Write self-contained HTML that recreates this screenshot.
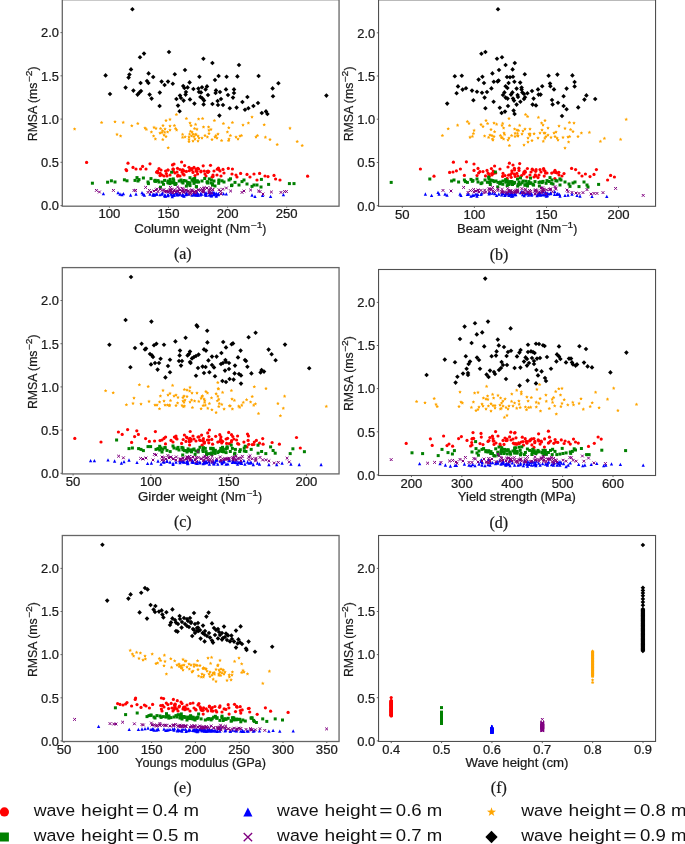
<!DOCTYPE html>
<html><head><meta charset="utf-8"><title>RMSA scatter plots</title>
<style>html,body{margin:0;padding:0;background:#fff;}body{width:685px;height:844px;overflow:hidden;font-family:"Liberation Sans",sans-serif;}svg{will-change:transform;}svg text{white-space:pre;}.t text{stroke:#1a1a1a;stroke-width:0.22px;}</style>
</head><body>
<svg width="685" height="844" viewBox="0 0 685 844" style="display:block">
<rect width="685" height="844" fill="#fff"/>
<defs><circle id="mr" r="1.6" fill="#ff0000"/><rect id="mg" x="-1.5" y="-1.5" width="3.0" height="3.0" fill="#008000"/><path id="mb" d="M0 -1.65L1.65 1.65H-1.65z" fill="#0000ff"/><path id="mp" d="M-1.4 -1.4L1.4 1.4M1.4 -1.4L-1.4 1.4" stroke="#800080" stroke-width="1.0" fill="none"/><polygon id="mo" points="0.00,-1.85 0.54,-0.75 1.76,-0.57 0.88,0.29 1.09,1.50 0.00,0.93 -1.09,1.50 -0.88,0.29 -1.76,-0.57 -0.54,-0.75" fill="#ffa500"/><path id="mk" d="M0 -2.3L2.3 0L0 2.3L-2.3 0z" fill="#000000"/></defs>
<g class="t">
<g id="pts-a">
<use href="#mr" x="86.6" y="162.4"/>
<use href="#mr" x="128.0" y="163.2"/>
<use href="#mr" x="126.0" y="169.6"/>
<use href="#mr" x="126.6" y="170.6"/>
<use href="#mr" x="133.0" y="167.4"/>
<use href="#mr" x="136.0" y="169.0"/>
<use href="#mr" x="142.6" y="166.4"/>
<use href="#mr" x="140.6" y="169.0"/>
<use href="#mr" x="146.0" y="169.0"/>
<use href="#mr" x="150.0" y="163.8"/>
<use href="#mr" x="159.0" y="168.6"/>
<use href="#mr" x="157.6" y="171.0"/>
<use href="#mr" x="161.0" y="170.0"/>
<use href="#mr" x="162.0" y="175.0"/>
<use href="#mr" x="160.0" y="175.6"/>
<use href="#mr" x="165.6" y="171.0"/>
<use href="#mr" x="168.0" y="170.0"/>
<use href="#mr" x="166.4" y="173.6"/>
<use href="#mr" x="164.0" y="176.0"/>
<use href="#mr" x="167.0" y="176.0"/>
<use href="#mr" x="170.0" y="175.0"/>
<use href="#mr" x="174.0" y="164.0"/>
<use href="#mr" x="173.0" y="169.0"/>
<use href="#mr" x="175.0" y="173.0"/>
<use href="#mr" x="177.0" y="172.0"/>
<use href="#mr" x="178.0" y="175.0"/>
<use href="#mr" x="180.0" y="176.0"/>
<use href="#mr" x="181.6" y="162.0"/>
<use href="#mr" x="182.0" y="172.0"/>
<use href="#mr" x="184.6" y="165.6"/>
<use href="#mr" x="184.0" y="171.0"/>
<use href="#mr" x="186.4" y="171.4"/>
<use href="#mr" x="183.0" y="174.0"/>
<use href="#mr" x="192.0" y="170.0"/>
<use href="#mr" x="194.0" y="167.4"/>
<use href="#mr" x="193.0" y="172.4"/>
<use href="#mr" x="196.0" y="171.0"/>
<use href="#mr" x="197.6" y="174.0"/>
<use href="#mr" x="198.6" y="169.0"/>
<use href="#mr" x="307.6" y="176.2"/>
<use href="#mr" x="274.0" y="175.4"/>
<use href="#mr" x="275.6" y="179.0"/>
<use href="#mr" x="280.0" y="180.0"/>
<use href="#mr" x="265.0" y="176.0"/>
<use href="#mr" x="268.0" y="176.6"/>
<use href="#mr" x="259.6" y="173.4"/>
<use href="#mr" x="257.0" y="180.0"/>
<use href="#mr" x="254.0" y="174.0"/>
<use href="#mr" x="250.0" y="177.0"/>
<use href="#mr" x="247.0" y="174.4"/>
<use href="#mr" x="240.6" y="173.4"/>
<use href="#mr" x="236.0" y="175.0"/>
<use href="#mr" x="237.0" y="177.0"/>
<use href="#mr" x="232.4" y="169.0"/>
<use href="#mr" x="232.0" y="174.0"/>
<use href="#mr" x="218.4" y="168.0"/>
<use href="#mr" x="223.0" y="169.4"/>
<use href="#mr" x="220.0" y="171.0"/>
<use href="#mr" x="214.0" y="171.0"/>
<use href="#mr" x="208.0" y="171.0"/>
<use href="#mr" x="201.0" y="171.0"/>
<use href="#mr" x="205.0" y="174.0"/>
<use href="#mr" x="213.0" y="175.0"/>
<use href="#mr" x="217.0" y="175.0"/>
<use href="#mr" x="224.0" y="173.0"/>
<use href="#mr" x="221.0" y="176.0"/>
<use href="#mr" x="212.0" y="177.0"/>
<use href="#mr" x="206.0" y="176.0"/>
<use href="#mr" x="157.9" y="172.8"/>
<use href="#mr" x="156.6" y="172.2"/>
<use href="#mr" x="173.3" y="171.3"/>
<use href="#mr" x="190.8" y="168.9"/>
<use href="#mr" x="160.2" y="173.3"/>
<use href="#mr" x="207.9" y="172.5"/>
<use href="#mr" x="200.9" y="171.8"/>
<use href="#mr" x="167.9" y="170.0"/>
<use href="#mr" x="172.5" y="164.9"/>
<use href="#mr" x="179.9" y="169.5"/>
<use href="#mr" x="192.1" y="168.5"/>
<use href="#mr" x="177.5" y="168.3"/>
<use href="#mr" x="189.0" y="167.3"/>
<use href="#mr" x="207.0" y="171.6"/>
<use href="#mr" x="173.3" y="169.2"/>
<use href="#mr" x="203.2" y="165.8"/>
<use href="#mr" x="183.0" y="170.0"/>
<use href="#mr" x="204.2" y="171.1"/>
<use href="#mr" x="197.0" y="171.5"/>
<use href="#mr" x="177.6" y="176.1"/>
<use href="#mr" x="182.5" y="169.9"/>
<use href="#mr" x="228.3" y="168.4"/>
<use href="#mr" x="217.3" y="169.2"/>
<use href="#mr" x="208.8" y="171.5"/>
<use href="#mr" x="210.5" y="165.3"/>
<use href="#mr" x="184.1" y="174.9"/>
<use href="#mr" x="197.9" y="168.4"/>
<use href="#mr" x="213.0" y="176.6"/>
<use href="#mr" x="196.2" y="169.2"/>
<use href="#mr" x="195.0" y="175.6"/>
<use href="#mr" x="189.3" y="170.7"/>
<use href="#mr" x="218.8" y="169.4"/>
<use href="#mg" x="171.6" y="172.2"/>
<use href="#mg" x="92.4" y="183.2"/>
<use href="#mg" x="107.6" y="182.2"/>
<use href="#mg" x="111.4" y="180.8"/>
<use href="#mg" x="115.0" y="182.0"/>
<use href="#mg" x="124.4" y="179.8"/>
<use href="#mg" x="127.0" y="180.8"/>
<use href="#mg" x="135.0" y="180.4"/>
<use href="#mg" x="137.0" y="177.6"/>
<use href="#mg" x="138.0" y="181.0"/>
<use href="#mg" x="139.0" y="179.6"/>
<use href="#mg" x="143.4" y="178.0"/>
<use href="#mg" x="148.0" y="182.0"/>
<use href="#mg" x="148.4" y="183.6"/>
<use href="#mg" x="151.0" y="178.6"/>
<use href="#mg" x="155.6" y="181.4"/>
<use href="#mg" x="158.0" y="180.6"/>
<use href="#mg" x="159.0" y="182.0"/>
<use href="#mg" x="164.6" y="180.4"/>
<use href="#mg" x="168.0" y="181.0"/>
<use href="#mg" x="170.0" y="182.0"/>
<use href="#mg" x="172.0" y="182.6"/>
<use href="#mg" x="174.0" y="183.0"/>
<use href="#mg" x="176.0" y="183.6"/>
<use href="#mg" x="181.0" y="180.0"/>
<use href="#mg" x="182.0" y="182.0"/>
<use href="#mg" x="183.0" y="183.0"/>
<use href="#mg" x="186.0" y="181.0"/>
<use href="#mg" x="188.0" y="182.4"/>
<use href="#mg" x="189.0" y="184.0"/>
<use href="#mg" x="190.0" y="185.6"/>
<use href="#mg" x="192.0" y="180.0"/>
<use href="#mg" x="193.0" y="181.0"/>
<use href="#mg" x="195.0" y="182.0"/>
<use href="#mg" x="197.0" y="181.0"/>
<use href="#mg" x="198.6" y="182.0"/>
<use href="#mg" x="289.4" y="183.6"/>
<use href="#mg" x="294.0" y="183.6"/>
<use href="#mg" x="268.6" y="184.4"/>
<use href="#mg" x="261.4" y="179.4"/>
<use href="#mg" x="261.0" y="187.0"/>
<use href="#mg" x="257.0" y="185.0"/>
<use href="#mg" x="252.0" y="186.4"/>
<use href="#mg" x="254.0" y="185.0"/>
<use href="#mg" x="247.0" y="184.0"/>
<use href="#mg" x="244.0" y="180.0"/>
<use href="#mg" x="242.0" y="181.6"/>
<use href="#mg" x="239.0" y="185.0"/>
<use href="#mg" x="235.0" y="182.4"/>
<use href="#mg" x="232.0" y="185.0"/>
<use href="#mg" x="229.0" y="180.0"/>
<use href="#mg" x="224.0" y="182.0"/>
<use href="#mg" x="219.0" y="180.0"/>
<use href="#mg" x="214.0" y="181.0"/>
<use href="#mg" x="211.0" y="183.0"/>
<use href="#mg" x="215.0" y="186.0"/>
<use href="#mg" x="207.0" y="182.0"/>
<use href="#mg" x="202.0" y="181.0"/>
<use href="#mg" x="193.4" y="179.0"/>
<use href="#mg" x="173.7" y="180.5"/>
<use href="#mg" x="218.7" y="183.3"/>
<use href="#mg" x="170.2" y="181.9"/>
<use href="#mg" x="204.7" y="178.5"/>
<use href="#mg" x="167.9" y="182.6"/>
<use href="#mg" x="207.6" y="183.0"/>
<use href="#mg" x="211.4" y="180.0"/>
<use href="#mg" x="170.0" y="183.6"/>
<use href="#mg" x="197.3" y="181.0"/>
<use href="#mg" x="194.7" y="178.5"/>
<use href="#mg" x="190.0" y="177.7"/>
<use href="#mg" x="175.6" y="183.8"/>
<use href="#mg" x="209.3" y="178.9"/>
<use href="#mg" x="207.7" y="181.8"/>
<use href="#mg" x="174.9" y="184.1"/>
<use href="#mg" x="179.2" y="181.0"/>
<use href="#mg" x="184.0" y="180.5"/>
<use href="#mg" x="194.0" y="183.4"/>
<use href="#mg" x="194.8" y="181.5"/>
<use href="#mg" x="212.6" y="183.8"/>
<use href="#mg" x="186.4" y="186.1"/>
<use href="#mg" x="230.5" y="178.8"/>
<use href="#mg" x="187.7" y="183.8"/>
<use href="#mg" x="162.3" y="182.1"/>
<use href="#mg" x="197.0" y="181.9"/>
<use href="#mg" x="173.3" y="178.9"/>
<use href="#mg" x="196.5" y="186.7"/>
<use href="#mg" x="196.3" y="186.7"/>
<use href="#mg" x="218.9" y="181.1"/>
<use href="#mg" x="187.8" y="182.9"/>
<use href="#mg" x="154.7" y="181.0"/>
<use href="#mg" x="170.2" y="179.4"/>
<use href="#mg" x="231.5" y="185.6"/>
<use href="#mg" x="155.2" y="180.3"/>
<use href="#mg" x="212.5" y="185.1"/>
<use href="#mg" x="175.3" y="184.4"/>
<use href="#mg" x="163.5" y="184.3"/>
<use href="#mg" x="222.0" y="180.8"/>
<use href="#mg" x="189.9" y="182.9"/>
<use href="#mg" x="168.4" y="182.9"/>
<use href="#mg" x="160.5" y="187.2"/>
<use href="#mb" x="103.4" y="193.6"/>
<use href="#mb" x="118.0" y="192.6"/>
<use href="#mb" x="120.0" y="194.0"/>
<use href="#mb" x="122.0" y="194.6"/>
<use href="#mb" x="123.4" y="193.6"/>
<use href="#mb" x="130.6" y="195.0"/>
<use href="#mb" x="136.0" y="194.0"/>
<use href="#mb" x="142.0" y="192.6"/>
<use href="#mb" x="143.0" y="194.0"/>
<use href="#mb" x="144.4" y="195.0"/>
<use href="#mb" x="150.0" y="194.0"/>
<use href="#mb" x="153.0" y="195.0"/>
<use href="#mb" x="155.0" y="194.4"/>
<use href="#mb" x="157.0" y="194.0"/>
<use href="#mb" x="160.0" y="194.6"/>
<use href="#mb" x="162.0" y="194.0"/>
<use href="#mb" x="165.0" y="195.0"/>
<use href="#mb" x="168.0" y="194.4"/>
<use href="#mb" x="171.0" y="194.0"/>
<use href="#mb" x="174.0" y="195.0"/>
<use href="#mb" x="177.0" y="194.4"/>
<use href="#mb" x="180.0" y="194.0"/>
<use href="#mb" x="183.0" y="195.0"/>
<use href="#mb" x="186.0" y="194.6"/>
<use href="#mb" x="189.0" y="194.0"/>
<use href="#mb" x="192.0" y="195.2"/>
<use href="#mb" x="195.0" y="194.6"/>
<use href="#mb" x="198.0" y="195.0"/>
<use href="#mb" x="283.4" y="194.6"/>
<use href="#mb" x="270.6" y="196.4"/>
<use href="#mb" x="262.6" y="195.4"/>
<use href="#mb" x="255.0" y="196.4"/>
<use href="#mb" x="252.0" y="195.0"/>
<use href="#mb" x="208.7" y="192.3"/>
<use href="#mb" x="212.1" y="192.5"/>
<use href="#mb" x="198.1" y="194.9"/>
<use href="#mb" x="194.1" y="194.5"/>
<use href="#mb" x="165.3" y="196.1"/>
<use href="#mb" x="156.4" y="194.1"/>
<use href="#mb" x="195.6" y="194.7"/>
<use href="#mb" x="226.3" y="193.9"/>
<use href="#mb" x="206.0" y="192.6"/>
<use href="#mb" x="172.3" y="196.5"/>
<use href="#mb" x="210.1" y="194.9"/>
<use href="#mb" x="223.5" y="193.7"/>
<use href="#mb" x="216.2" y="193.2"/>
<use href="#mb" x="209.3" y="194.9"/>
<use href="#mb" x="173.9" y="194.6"/>
<use href="#mb" x="210.4" y="193.0"/>
<use href="#mb" x="216.3" y="196.1"/>
<use href="#mb" x="177.8" y="194.2"/>
<use href="#mb" x="206.4" y="195.0"/>
<use href="#mb" x="197.9" y="193.8"/>
<use href="#mb" x="216.2" y="195.1"/>
<use href="#mb" x="172.1" y="195.0"/>
<use href="#mb" x="218.2" y="194.2"/>
<use href="#mb" x="197.4" y="193.9"/>
<use href="#mb" x="196.9" y="194.3"/>
<use href="#mb" x="184.0" y="195.6"/>
<use href="#mb" x="176.6" y="192.1"/>
<use href="#mb" x="204.9" y="194.0"/>
<use href="#mb" x="186.8" y="194.0"/>
<use href="#mb" x="200.5" y="194.9"/>
<use href="#mb" x="196.7" y="193.8"/>
<use href="#mb" x="174.0" y="195.0"/>
<use href="#mb" x="168.0" y="195.4"/>
<use href="#mb" x="213.4" y="194.4"/>
<use href="#mb" x="177.3" y="194.8"/>
<use href="#mb" x="194.3" y="192.7"/>
<use href="#mb" x="193.8" y="194.2"/>
<use href="#mb" x="177.3" y="194.2"/>
<use href="#mb" x="213.9" y="194.6"/>
<use href="#mb" x="164.5" y="195.6"/>
<use href="#mb" x="165.4" y="195.8"/>
<use href="#mb" x="218.4" y="193.6"/>
<use href="#mb" x="186.3" y="192.3"/>
<use href="#mb" x="176.2" y="193.2"/>
<use href="#mb" x="211.2" y="195.9"/>
<use href="#mb" x="154.6" y="195.2"/>
<use href="#mb" x="213.8" y="192.5"/>
<use href="#mb" x="162.5" y="192.8"/>
<use href="#mb" x="182.8" y="194.6"/>
<use href="#mb" x="178.8" y="194.5"/>
<use href="#mb" x="168.0" y="195.6"/>
<use href="#mb" x="203.8" y="191.5"/>
<use href="#mb" x="183.9" y="196.2"/>
<use href="#mb" x="182.2" y="195.2"/>
<use href="#mb" x="205.7" y="195.0"/>
<use href="#mb" x="214.5" y="193.4"/>
<use href="#mb" x="153.0" y="194.7"/>
<use href="#mb" x="186.3" y="194.1"/>
<use href="#mb" x="195.2" y="194.5"/>
<use href="#mb" x="196.6" y="194.8"/>
<use href="#mb" x="170.5" y="192.2"/>
<use href="#mb" x="200.6" y="193.5"/>
<use href="#mb" x="153.7" y="194.3"/>
<use href="#mb" x="211.7" y="195.6"/>
<use href="#mb" x="218.3" y="194.5"/>
<use href="#mb" x="201.7" y="194.2"/>
<use href="#mb" x="197.2" y="192.6"/>
<use href="#mp" x="96.4" y="190.4"/>
<use href="#mp" x="99.4" y="192.0"/>
<use href="#mp" x="113.4" y="190.4"/>
<use href="#mp" x="134.0" y="190.4"/>
<use href="#mp" x="135.6" y="190.4"/>
<use href="#mp" x="145.6" y="187.4"/>
<use href="#mp" x="149.4" y="190.4"/>
<use href="#mp" x="148.0" y="192.4"/>
<use href="#mp" x="151.0" y="192.0"/>
<use href="#mp" x="154.0" y="191.0"/>
<use href="#mp" x="156.0" y="190.0"/>
<use href="#mp" x="158.0" y="191.6"/>
<use href="#mp" x="160.0" y="189.0"/>
<use href="#mp" x="162.0" y="190.4"/>
<use href="#mp" x="164.0" y="189.6"/>
<use href="#mp" x="166.0" y="191.0"/>
<use href="#mp" x="168.0" y="192.0"/>
<use href="#mp" x="170.0" y="190.0"/>
<use href="#mp" x="171.0" y="192.4"/>
<use href="#mp" x="174.0" y="191.0"/>
<use href="#mp" x="176.0" y="192.0"/>
<use href="#mp" x="177.6" y="187.0"/>
<use href="#mp" x="179.0" y="188.6"/>
<use href="#mp" x="180.0" y="190.0"/>
<use href="#mp" x="182.0" y="191.0"/>
<use href="#mp" x="184.0" y="192.0"/>
<use href="#mp" x="186.0" y="190.0"/>
<use href="#mp" x="188.0" y="191.0"/>
<use href="#mp" x="190.0" y="192.4"/>
<use href="#mp" x="192.0" y="191.0"/>
<use href="#mp" x="194.0" y="192.0"/>
<use href="#mp" x="196.0" y="191.0"/>
<use href="#mp" x="198.6" y="190.0"/>
<use href="#mp" x="286.4" y="191.6"/>
<use href="#mp" x="284.6" y="191.6"/>
<use href="#mp" x="281.0" y="192.4"/>
<use href="#mp" x="271.4" y="192.0"/>
<use href="#mp" x="263.0" y="194.0"/>
<use href="#mp" x="260.0" y="191.6"/>
<use href="#mp" x="258.6" y="191.0"/>
<use href="#mp" x="250.6" y="190.0"/>
<use href="#mp" x="244.0" y="191.0"/>
<use href="#mp" x="242.0" y="192.4"/>
<use href="#mp" x="226.4" y="188.0"/>
<use href="#mp" x="210.6" y="188.0"/>
<use href="#mp" x="207.0" y="188.0"/>
<use href="#mp" x="182.3" y="188.3"/>
<use href="#mp" x="173.2" y="192.6"/>
<use href="#mp" x="209.1" y="192.8"/>
<use href="#mp" x="183.1" y="189.4"/>
<use href="#mp" x="221.1" y="194.0"/>
<use href="#mp" x="204.1" y="187.7"/>
<use href="#mp" x="220.7" y="191.4"/>
<use href="#mp" x="177.6" y="191.5"/>
<use href="#mp" x="164.3" y="191.4"/>
<use href="#mp" x="187.5" y="191.2"/>
<use href="#mp" x="220.4" y="191.4"/>
<use href="#mp" x="157.0" y="189.1"/>
<use href="#mp" x="166.3" y="191.7"/>
<use href="#mp" x="188.8" y="191.6"/>
<use href="#mp" x="167.9" y="191.4"/>
<use href="#mp" x="177.4" y="191.2"/>
<use href="#mp" x="219.0" y="189.7"/>
<use href="#mp" x="210.3" y="189.5"/>
<use href="#mp" x="171.3" y="190.7"/>
<use href="#mp" x="204.0" y="188.7"/>
<use href="#mp" x="203.3" y="191.4"/>
<use href="#mp" x="192.9" y="191.3"/>
<use href="#mp" x="197.9" y="189.8"/>
<use href="#mp" x="183.8" y="192.4"/>
<use href="#mp" x="171.5" y="189.1"/>
<use href="#mp" x="222.7" y="189.2"/>
<use href="#mp" x="212.6" y="189.5"/>
<use href="#mp" x="191.9" y="189.8"/>
<use href="#mp" x="166.7" y="191.3"/>
<use href="#mp" x="174.4" y="189.7"/>
<use href="#mp" x="178.1" y="191.1"/>
<use href="#mp" x="201.6" y="188.6"/>
<use href="#mp" x="173.0" y="192.6"/>
<use href="#mp" x="211.6" y="192.9"/>
<use href="#mp" x="202.9" y="191.9"/>
<use href="#mp" x="189.5" y="194.1"/>
<use href="#mp" x="209.1" y="191.8"/>
<use href="#mp" x="170.4" y="187.4"/>
<use href="#mp" x="209.1" y="190.3"/>
<use href="#mp" x="183.6" y="190.8"/>
<use href="#mp" x="230.6" y="191.0"/>
<use href="#mp" x="202.8" y="190.1"/>
<use href="#mp" x="170.2" y="190.7"/>
<use href="#mp" x="179.9" y="193.1"/>
<use href="#mp" x="212.9" y="189.8"/>
<use href="#mp" x="193.8" y="192.5"/>
<use href="#mp" x="203.7" y="191.1"/>
<use href="#mp" x="190.6" y="193.6"/>
<use href="#mp" x="191.4" y="190.7"/>
<use href="#mp" x="200.5" y="190.6"/>
<use href="#mp" x="196.1" y="192.9"/>
<use href="#mp" x="182.8" y="191.8"/>
<use href="#mp" x="186.3" y="190.5"/>
<use href="#mp" x="206.9" y="188.1"/>
<use href="#mo" x="74.6" y="129.0"/>
<use href="#mo" x="101.6" y="122.6"/>
<use href="#mo" x="115.0" y="121.8"/>
<use href="#mo" x="123.2" y="122.4"/>
<use href="#mo" x="131.8" y="125.8"/>
<use href="#mo" x="137.8" y="123.6"/>
<use href="#mo" x="117.0" y="134.4"/>
<use href="#mo" x="120.6" y="136.0"/>
<use href="#mo" x="145.0" y="128.0"/>
<use href="#mo" x="146.4" y="129.4"/>
<use href="#mo" x="154.0" y="127.4"/>
<use href="#mo" x="156.0" y="128.4"/>
<use href="#mo" x="151.4" y="132.0"/>
<use href="#mo" x="153.6" y="136.0"/>
<use href="#mo" x="155.4" y="139.0"/>
<use href="#mo" x="160.6" y="128.6"/>
<use href="#mo" x="163.0" y="125.6"/>
<use href="#mo" x="166.0" y="120.6"/>
<use href="#mo" x="170.0" y="119.4"/>
<use href="#mo" x="176.4" y="114.6"/>
<use href="#mo" x="165.0" y="129.0"/>
<use href="#mo" x="170.0" y="126.0"/>
<use href="#mo" x="174.4" y="125.6"/>
<use href="#mo" x="162.0" y="132.4"/>
<use href="#mo" x="164.0" y="135.0"/>
<use href="#mo" x="166.0" y="136.6"/>
<use href="#mo" x="167.6" y="132.0"/>
<use href="#mo" x="170.0" y="130.0"/>
<use href="#mo" x="175.6" y="128.6"/>
<use href="#mo" x="176.6" y="130.0"/>
<use href="#mo" x="168.2" y="147.8"/>
<use href="#mo" x="182.6" y="134.4"/>
<use href="#mo" x="182.6" y="137.4"/>
<use href="#mo" x="186.4" y="118.6"/>
<use href="#mo" x="190.0" y="123.0"/>
<use href="#mo" x="191.0" y="125.6"/>
<use href="#mo" x="195.6" y="124.4"/>
<use href="#mo" x="194.6" y="128.6"/>
<use href="#mo" x="192.0" y="132.0"/>
<use href="#mo" x="193.0" y="134.0"/>
<use href="#mo" x="189.0" y="137.0"/>
<use href="#mo" x="191.6" y="136.0"/>
<use href="#mo" x="194.0" y="136.6"/>
<use href="#mo" x="196.0" y="134.4"/>
<use href="#mo" x="198.0" y="136.0"/>
<use href="#mo" x="189.0" y="139.4"/>
<use href="#mo" x="189.0" y="141.6"/>
<use href="#mo" x="193.0" y="141.0"/>
<use href="#mo" x="195.0" y="139.0"/>
<use href="#mo" x="198.0" y="141.0"/>
<use href="#mo" x="198.6" y="119.0"/>
<use href="#mo" x="202.6" y="118.6"/>
<use href="#mo" x="214.4" y="120.6"/>
<use href="#mo" x="223.4" y="123.6"/>
<use href="#mo" x="232.4" y="122.6"/>
<use href="#mo" x="243.0" y="125.0"/>
<use href="#mo" x="248.4" y="123.0"/>
<use href="#mo" x="252.0" y="117.0"/>
<use href="#mo" x="264.2" y="124.8"/>
<use href="#mo" x="290.0" y="128.2"/>
<use href="#mo" x="211.0" y="129.4"/>
<use href="#mo" x="209.0" y="133.6"/>
<use href="#mo" x="205.0" y="135.6"/>
<use href="#mo" x="207.4" y="137.0"/>
<use href="#mo" x="202.0" y="138.0"/>
<use href="#mo" x="212.0" y="139.6"/>
<use href="#mo" x="215.0" y="137.0"/>
<use href="#mo" x="218.0" y="134.0"/>
<use href="#mo" x="217.0" y="138.0"/>
<use href="#mo" x="221.6" y="140.6"/>
<use href="#mo" x="227.4" y="132.0"/>
<use href="#mo" x="230.4" y="135.6"/>
<use href="#mo" x="229.0" y="139.0"/>
<use href="#mo" x="228.6" y="140.6"/>
<use href="#mo" x="236.0" y="137.0"/>
<use href="#mo" x="238.0" y="139.0"/>
<use href="#mo" x="240.0" y="136.0"/>
<use href="#mo" x="241.4" y="135.6"/>
<use href="#mo" x="256.0" y="137.0"/>
<use href="#mo" x="257.4" y="135.6"/>
<use href="#mo" x="265.4" y="137.2"/>
<use href="#mo" x="270.0" y="139.6"/>
<use href="#mo" x="277.2" y="144.6"/>
<use href="#mo" x="297.2" y="141.6"/>
<use href="#mo" x="302.2" y="145.6"/>
<use href="#mo" x="199.0" y="138.0"/>
<use href="#mo" x="162.6" y="130.8"/>
<use href="#mo" x="215.9" y="135.5"/>
<use href="#mo" x="160.1" y="133.1"/>
<use href="#mo" x="203.5" y="127.1"/>
<use href="#mo" x="162.8" y="139.5"/>
<use href="#mo" x="208.9" y="130.3"/>
<use href="#mo" x="228.8" y="127.7"/>
<use href="#mo" x="189.6" y="134.2"/>
<use href="#mo" x="185.1" y="136.9"/>
<use href="#mo" x="164.7" y="132.3"/>
<use href="#mo" x="195.5" y="134.6"/>
<use href="#mo" x="190.5" y="131.4"/>
<use href="#mo" x="208.6" y="127.1"/>
<use href="#mo" x="197.0" y="129.2"/>
<use href="#mk" x="132.4" y="9.2"/>
<use href="#mk" x="144.0" y="53.6"/>
<use href="#mk" x="140.0" y="57.2"/>
<use href="#mk" x="169.0" y="52.0"/>
<use href="#mk" x="203.4" y="58.8"/>
<use href="#mk" x="212.4" y="63.0"/>
<use href="#mk" x="131.0" y="69.4"/>
<use href="#mk" x="185.0" y="70.0"/>
<use href="#mk" x="105.6" y="75.4"/>
<use href="#mk" x="129.4" y="74.6"/>
<use href="#mk" x="128.6" y="77.6"/>
<use href="#mk" x="148.6" y="73.4"/>
<use href="#mk" x="153.2" y="77.0"/>
<use href="#mk" x="174.8" y="74.2"/>
<use href="#mk" x="199.4" y="76.8"/>
<use href="#mk" x="218.6" y="76.0"/>
<use href="#mk" x="215.0" y="80.0"/>
<use href="#mk" x="226.6" y="76.8"/>
<use href="#mk" x="140.6" y="83.0"/>
<use href="#mk" x="147.0" y="81.0"/>
<use href="#mk" x="148.4" y="83.0"/>
<use href="#mk" x="161.6" y="81.6"/>
<use href="#mk" x="164.6" y="85.0"/>
<use href="#mk" x="168.0" y="81.6"/>
<use href="#mk" x="172.8" y="83.8"/>
<use href="#mk" x="189.6" y="82.4"/>
<use href="#mk" x="125.6" y="87.6"/>
<use href="#mk" x="133.4" y="90.6"/>
<use href="#mk" x="141.0" y="91.0"/>
<use href="#mk" x="139.4" y="92.6"/>
<use href="#mk" x="137.6" y="94.6"/>
<use href="#mk" x="149.6" y="94.6"/>
<use href="#mk" x="151.6" y="98.6"/>
<use href="#mk" x="159.8" y="92.6"/>
<use href="#mk" x="159.6" y="106.0"/>
<use href="#mk" x="183.2" y="86.0"/>
<use href="#mk" x="184.4" y="88.0"/>
<use href="#mk" x="187.6" y="87.4"/>
<use href="#mk" x="193.4" y="89.0"/>
<use href="#mk" x="198.4" y="88.6"/>
<use href="#mk" x="202.0" y="87.2"/>
<use href="#mk" x="207.0" y="86.4"/>
<use href="#mk" x="205.6" y="89.4"/>
<use href="#mk" x="199.0" y="92.0"/>
<use href="#mk" x="201.0" y="92.4"/>
<use href="#mk" x="216.0" y="90.4"/>
<use href="#mk" x="220.0" y="92.0"/>
<use href="#mk" x="226.0" y="89.4"/>
<use href="#mk" x="215.6" y="93.0"/>
<use href="#mk" x="110.0" y="94.0"/>
<use href="#mk" x="180.0" y="95.6"/>
<use href="#mk" x="185.6" y="94.6"/>
<use href="#mk" x="176.4" y="99.0"/>
<use href="#mk" x="181.0" y="98.0"/>
<use href="#mk" x="183.6" y="100.6"/>
<use href="#mk" x="190.0" y="99.4"/>
<use href="#mk" x="200.4" y="97.0"/>
<use href="#mk" x="202.4" y="98.4"/>
<use href="#mk" x="204.0" y="100.4"/>
<use href="#mk" x="203.6" y="104.4"/>
<use href="#mk" x="194.4" y="103.6"/>
<use href="#mk" x="178.0" y="105.6"/>
<use href="#mk" x="179.6" y="111.2"/>
<use href="#mk" x="212.4" y="104.0"/>
<use href="#mk" x="217.6" y="101.0"/>
<use href="#mk" x="221.0" y="99.0"/>
<use href="#mk" x="218.0" y="105.0"/>
<use href="#mk" x="223.0" y="105.0"/>
<use href="#mk" x="219.4" y="115.6"/>
<use href="#mk" x="239.0" y="65.0"/>
<use href="#mk" x="237.4" y="76.4"/>
<use href="#mk" x="258.6" y="76.0"/>
<use href="#mk" x="278.4" y="83.2"/>
<use href="#mk" x="272.6" y="88.4"/>
<use href="#mk" x="234.0" y="89.4"/>
<use href="#mk" x="234.0" y="93.0"/>
<use href="#mk" x="228.0" y="95.0"/>
<use href="#mk" x="233.0" y="97.6"/>
<use href="#mk" x="247.4" y="97.0"/>
<use href="#mk" x="273.0" y="96.2"/>
<use href="#mk" x="326.4" y="95.6"/>
<use href="#mk" x="242.4" y="102.0"/>
<use href="#mk" x="258.0" y="103.0"/>
<use href="#mk" x="253.4" y="106.0"/>
<use href="#mk" x="229.8" y="108.2"/>
<use href="#mk" x="236.6" y="107.6"/>
<use href="#mk" x="248.4" y="108.2"/>
<use href="#mk" x="245.0" y="109.8"/>
<use href="#mk" x="261.8" y="113.0"/>
<use href="#mk" x="266.0" y="111.4"/>
<use href="#mk" x="267.4" y="114.0"/>
<use href="#mk" x="208.0" y="95.0"/>
<use href="#mk" x="186.0" y="92.0"/>
</g>
<rect x="62.3" y="-0.3" width="276.75" height="206.50" fill="none" stroke="#666666" stroke-width="1.3"/>
<path d="M60.5 205.6H62.3" stroke="#666666" stroke-width="1.04"/>
<text x="59.0" y="210.4" font-family='"Liberation Sans", sans-serif' font-size="12.2" text-anchor="end" fill="#1a1a1a" textLength="17.9" lengthAdjust="spacingAndGlyphs">0.0</text>
<path d="M60.5 162.3H62.3" stroke="#666666" stroke-width="1.04"/>
<text x="59.0" y="167.2" font-family='"Liberation Sans", sans-serif' font-size="12.2" text-anchor="end" fill="#1a1a1a" textLength="17.9" lengthAdjust="spacingAndGlyphs">0.5</text>
<path d="M60.5 119.1H62.3" stroke="#666666" stroke-width="1.04"/>
<text x="59.0" y="123.9" font-family='"Liberation Sans", sans-serif' font-size="12.2" text-anchor="end" fill="#1a1a1a" textLength="17.9" lengthAdjust="spacingAndGlyphs">1.0</text>
<path d="M60.5 75.8H62.3" stroke="#666666" stroke-width="1.04"/>
<text x="59.0" y="80.6" font-family='"Liberation Sans", sans-serif' font-size="12.2" text-anchor="end" fill="#1a1a1a" textLength="17.9" lengthAdjust="spacingAndGlyphs">1.5</text>
<path d="M60.5 32.6H62.3" stroke="#666666" stroke-width="1.04"/>
<text x="59.0" y="37.4" font-family='"Liberation Sans", sans-serif' font-size="12.2" text-anchor="end" fill="#1a1a1a" textLength="17.9" lengthAdjust="spacingAndGlyphs">2.0</text>
<path d="M109.40 206.2V207.8" stroke="#666666" stroke-width="1.04"/>
<text x="109.40" y="218.4" font-family='"Liberation Sans", sans-serif' font-size="12.2" text-anchor="middle" fill="#1a1a1a" textLength="21.9" lengthAdjust="spacingAndGlyphs">100</text>
<path d="M168.50 206.2V207.8" stroke="#666666" stroke-width="1.04"/>
<text x="168.50" y="218.4" font-family='"Liberation Sans", sans-serif' font-size="12.2" text-anchor="middle" fill="#1a1a1a" textLength="21.9" lengthAdjust="spacingAndGlyphs">150</text>
<path d="M227.60 206.2V207.8" stroke="#666666" stroke-width="1.04"/>
<text x="227.60" y="218.4" font-family='"Liberation Sans", sans-serif' font-size="12.2" text-anchor="middle" fill="#1a1a1a" textLength="21.9" lengthAdjust="spacingAndGlyphs">200</text>
<path d="M286.70 206.2V207.8" stroke="#666666" stroke-width="1.04"/>
<text x="286.70" y="218.4" font-family='"Liberation Sans", sans-serif' font-size="12.2" text-anchor="middle" fill="#1a1a1a" textLength="21.9" lengthAdjust="spacingAndGlyphs">250</text>
<text x="134.2" y="232.8" font-family='"Liberation Sans", sans-serif' font-size="12.2" fill="#1a1a1a" textLength="116.1" lengthAdjust="spacingAndGlyphs">Column weight (Nm</text>
<text x="250.6" y="228.3" font-family='"Liberation Sans", sans-serif' font-size="8.6" fill="#1a1a1a" textLength="11.8" lengthAdjust="spacingAndGlyphs">−1</text>
<text x="262.3" y="232.8" font-family='"Liberation Sans", sans-serif' font-size="12.2" fill="#1a1a1a">)</text>
<g transform="translate(36.7 140.2) rotate(-90)"><text x="-1.0" y="0" font-family='"Liberation Sans", sans-serif' font-size="12.2" fill="#1a1a1a" textLength="58.6" lengthAdjust="spacingAndGlyphs">RMSA (ms</text><text x="57.9" y="-4.5" font-family='"Liberation Sans", sans-serif' font-size="8.6" fill="#1a1a1a" textLength="11.8" lengthAdjust="spacingAndGlyphs">−2</text><text x="69.7" y="0" font-family='"Liberation Sans", sans-serif' font-size="12.2" fill="#1a1a1a">)</text></g>
<text x="182.8" y="259.4" font-family='"Liberation Serif", serif' font-size="16.0" text-anchor="middle" fill="#1a1a1a">(a)</text>
<g id="pts-b">
<use href="#mr" x="420.4" y="169.0"/>
<use href="#mr" x="434.0" y="176.2"/>
<use href="#mr" x="453.4" y="162.2"/>
<use href="#mr" x="466.4" y="161.8"/>
<use href="#mr" x="474.0" y="164.0"/>
<use href="#mr" x="449.6" y="172.4"/>
<use href="#mr" x="453.0" y="172.0"/>
<use href="#mr" x="456.4" y="170.8"/>
<use href="#mr" x="460.4" y="169.0"/>
<use href="#mr" x="464.4" y="175.4"/>
<use href="#mr" x="474.0" y="170.4"/>
<use href="#mr" x="478.0" y="168.4"/>
<use href="#mr" x="478.6" y="173.0"/>
<use href="#mr" x="477.0" y="175.6"/>
<use href="#mr" x="483.0" y="171.6"/>
<use href="#mr" x="487.0" y="170.4"/>
<use href="#mr" x="488.0" y="173.0"/>
<use href="#mr" x="491.4" y="168.6"/>
<use href="#mr" x="494.6" y="166.0"/>
<use href="#mr" x="492.0" y="175.0"/>
<use href="#mr" x="500.0" y="169.0"/>
<use href="#mr" x="503.0" y="173.4"/>
<use href="#mr" x="505.0" y="175.6"/>
<use href="#mr" x="508.0" y="167.0"/>
<use href="#mr" x="509.4" y="163.2"/>
<use href="#mr" x="513.0" y="165.0"/>
<use href="#mr" x="514.6" y="170.0"/>
<use href="#mr" x="614.4" y="177.0"/>
<use href="#mr" x="610.6" y="175.4"/>
<use href="#mr" x="607.6" y="180.0"/>
<use href="#mr" x="596.4" y="169.6"/>
<use href="#mr" x="594.0" y="174.4"/>
<use href="#mr" x="590.0" y="176.6"/>
<use href="#mr" x="585.4" y="174.0"/>
<use href="#mr" x="582.0" y="176.0"/>
<use href="#mr" x="579.0" y="173.0"/>
<use href="#mr" x="575.6" y="169.6"/>
<use href="#mr" x="571.6" y="168.4"/>
<use href="#mr" x="564.0" y="173.6"/>
<use href="#mr" x="562.0" y="176.0"/>
<use href="#mr" x="559.0" y="175.0"/>
<use href="#mr" x="557.0" y="173.0"/>
<use href="#mr" x="555.0" y="170.4"/>
<use href="#mr" x="547.0" y="173.0"/>
<use href="#mr" x="545.0" y="171.0"/>
<use href="#mr" x="540.0" y="169.6"/>
<use href="#mr" x="541.0" y="172.0"/>
<use href="#mr" x="539.0" y="175.0"/>
<use href="#mr" x="536.0" y="176.0"/>
<use href="#mr" x="533.0" y="170.0"/>
<use href="#mr" x="531.0" y="172.0"/>
<use href="#mr" x="530.0" y="175.0"/>
<use href="#mr" x="525.0" y="171.0"/>
<use href="#mr" x="524.0" y="174.0"/>
<use href="#mr" x="519.0" y="170.4"/>
<use href="#mr" x="518.0" y="176.0"/>
<use href="#mr" x="527.0" y="177.0"/>
<use href="#mr" x="534.0" y="177.0"/>
<use href="#mr" x="538.0" y="177.6"/>
<use href="#mr" x="488.9" y="174.4"/>
<use href="#mr" x="479.9" y="171.7"/>
<use href="#mr" x="494.6" y="172.4"/>
<use href="#mr" x="510.6" y="174.5"/>
<use href="#mr" x="543.6" y="168.5"/>
<use href="#mr" x="521.6" y="175.6"/>
<use href="#mr" x="493.2" y="171.0"/>
<use href="#mr" x="508.6" y="175.2"/>
<use href="#mr" x="502.6" y="176.4"/>
<use href="#mr" x="495.7" y="172.9"/>
<use href="#mr" x="555.8" y="172.1"/>
<use href="#mr" x="507.2" y="178.4"/>
<use href="#mr" x="525.3" y="172.2"/>
<use href="#mr" x="489.3" y="176.3"/>
<use href="#mr" x="518.9" y="168.2"/>
<use href="#mr" x="535.7" y="171.3"/>
<use href="#mr" x="511.9" y="170.8"/>
<use href="#mr" x="519.7" y="163.6"/>
<use href="#mr" x="491.7" y="173.5"/>
<use href="#mr" x="551.7" y="173.1"/>
<use href="#mr" x="555.6" y="172.3"/>
<use href="#mr" x="523.6" y="173.5"/>
<use href="#mr" x="485.5" y="175.9"/>
<use href="#mr" x="536.1" y="169.7"/>
<use href="#mr" x="543.8" y="169.9"/>
<use href="#mr" x="545.5" y="173.1"/>
<use href="#mr" x="514.4" y="168.3"/>
<use href="#mr" x="511.2" y="177.3"/>
<use href="#mr" x="514.4" y="174.2"/>
<use href="#mr" x="535.3" y="174.9"/>
<use href="#mr" x="493.5" y="173.4"/>
<use href="#mr" x="558.8" y="172.3"/>
<use href="#mr" x="524.0" y="172.1"/>
<use href="#mr" x="527.4" y="168.5"/>
<use href="#mr" x="554.9" y="178.5"/>
<use href="#mr" x="554.0" y="172.1"/>
<use href="#mr" x="512.0" y="172.8"/>
<use href="#mr" x="544.2" y="176.1"/>
<use href="#mr" x="532.2" y="169.2"/>
<use href="#mr" x="516.9" y="173.4"/>
<use href="#mr" x="515.2" y="176.4"/>
<use href="#mg" x="391.2" y="182.4"/>
<use href="#mg" x="429.8" y="179.0"/>
<use href="#mg" x="451.6" y="181.0"/>
<use href="#mg" x="454.0" y="180.0"/>
<use href="#mg" x="458.6" y="182.0"/>
<use href="#mg" x="464.4" y="180.0"/>
<use href="#mg" x="465.4" y="181.6"/>
<use href="#mg" x="467.4" y="182.4"/>
<use href="#mg" x="471.0" y="179.4"/>
<use href="#mg" x="473.0" y="180.6"/>
<use href="#mg" x="477.0" y="179.0"/>
<use href="#mg" x="478.0" y="182.0"/>
<use href="#mg" x="481.0" y="183.6"/>
<use href="#mg" x="485.0" y="180.0"/>
<use href="#mg" x="489.0" y="179.0"/>
<use href="#mg" x="490.0" y="182.0"/>
<use href="#mg" x="493.0" y="180.6"/>
<use href="#mg" x="496.0" y="181.0"/>
<use href="#mg" x="498.0" y="182.4"/>
<use href="#mg" x="500.0" y="183.6"/>
<use href="#mg" x="503.0" y="181.0"/>
<use href="#mg" x="506.0" y="182.0"/>
<use href="#mg" x="509.0" y="183.0"/>
<use href="#mg" x="512.0" y="181.6"/>
<use href="#mg" x="514.6" y="182.4"/>
<use href="#mg" x="495.4" y="172.0"/>
<use href="#mg" x="598.6" y="184.4"/>
<use href="#mg" x="588.0" y="187.0"/>
<use href="#mg" x="587.0" y="185.0"/>
<use href="#mg" x="584.0" y="182.0"/>
<use href="#mg" x="579.0" y="186.6"/>
<use href="#mg" x="575.0" y="182.0"/>
<use href="#mg" x="573.0" y="183.0"/>
<use href="#mg" x="569.0" y="184.0"/>
<use href="#mg" x="570.0" y="186.4"/>
<use href="#mg" x="565.0" y="182.0"/>
<use href="#mg" x="561.0" y="180.0"/>
<use href="#mg" x="560.0" y="185.0"/>
<use href="#mg" x="557.0" y="181.0"/>
<use href="#mg" x="552.0" y="180.0"/>
<use href="#mg" x="550.0" y="177.6"/>
<use href="#mg" x="553.0" y="184.0"/>
<use href="#mg" x="547.0" y="180.6"/>
<use href="#mg" x="543.0" y="181.4"/>
<use href="#mg" x="539.0" y="182.4"/>
<use href="#mg" x="535.0" y="181.6"/>
<use href="#mg" x="531.0" y="183.0"/>
<use href="#mg" x="527.0" y="184.0"/>
<use href="#mg" x="523.0" y="181.0"/>
<use href="#mg" x="519.0" y="182.0"/>
<use href="#mg" x="513.9" y="183.5"/>
<use href="#mg" x="512.5" y="184.5"/>
<use href="#mg" x="500.6" y="182.2"/>
<use href="#mg" x="527.8" y="183.8"/>
<use href="#mg" x="517.7" y="186.1"/>
<use href="#mg" x="533.0" y="184.4"/>
<use href="#mg" x="525.4" y="184.8"/>
<use href="#mg" x="507.1" y="181.9"/>
<use href="#mg" x="489.7" y="182.6"/>
<use href="#mg" x="518.2" y="184.4"/>
<use href="#mg" x="559.9" y="178.9"/>
<use href="#mg" x="527.5" y="186.0"/>
<use href="#mg" x="507.4" y="180.9"/>
<use href="#mg" x="507.2" y="185.6"/>
<use href="#mg" x="490.3" y="184.5"/>
<use href="#mg" x="520.3" y="184.2"/>
<use href="#mg" x="520.5" y="177.9"/>
<use href="#mg" x="494.1" y="181.6"/>
<use href="#mg" x="522.2" y="182.8"/>
<use href="#mg" x="546.1" y="183.3"/>
<use href="#mg" x="511.9" y="183.4"/>
<use href="#mg" x="517.5" y="179.1"/>
<use href="#mg" x="539.4" y="186.0"/>
<use href="#mg" x="509.0" y="184.5"/>
<use href="#mg" x="540.4" y="181.9"/>
<use href="#mg" x="542.2" y="182.6"/>
<use href="#mg" x="472.3" y="181.3"/>
<use href="#mg" x="525.7" y="181.2"/>
<use href="#mg" x="487.4" y="182.3"/>
<use href="#mg" x="502.8" y="184.3"/>
<use href="#mg" x="528.8" y="181.6"/>
<use href="#mg" x="497.7" y="186.9"/>
<use href="#mg" x="505.6" y="179.6"/>
<use href="#mg" x="518.6" y="184.7"/>
<use href="#mg" x="530.5" y="178.1"/>
<use href="#mg" x="549.2" y="181.5"/>
<use href="#mg" x="524.9" y="185.2"/>
<use href="#mg" x="508.7" y="183.3"/>
<use href="#mg" x="500.6" y="182.3"/>
<use href="#mg" x="510.2" y="181.6"/>
<use href="#mg" x="555.9" y="180.6"/>
<use href="#mg" x="530.4" y="183.1"/>
<use href="#mg" x="482.0" y="182.8"/>
<use href="#mg" x="533.6" y="185.1"/>
<use href="#mg" x="551.3" y="183.3"/>
<use href="#mg" x="529.3" y="183.3"/>
<use href="#mg" x="488.6" y="177.1"/>
<use href="#mg" x="491.0" y="180.1"/>
<use href="#mg" x="506.1" y="181.8"/>
<use href="#mg" x="499.9" y="183.6"/>
<use href="#mb" x="425.4" y="194.0"/>
<use href="#mb" x="431.6" y="195.4"/>
<use href="#mb" x="438.0" y="192.4"/>
<use href="#mb" x="439.0" y="194.0"/>
<use href="#mb" x="445.0" y="194.0"/>
<use href="#mb" x="447.0" y="195.0"/>
<use href="#mb" x="460.0" y="194.0"/>
<use href="#mb" x="461.0" y="195.4"/>
<use href="#mb" x="467.4" y="194.4"/>
<use href="#mb" x="471.0" y="196.0"/>
<use href="#mb" x="474.0" y="195.0"/>
<use href="#mb" x="476.0" y="194.0"/>
<use href="#mb" x="477.0" y="196.0"/>
<use href="#mb" x="606.8" y="196.4"/>
<use href="#mb" x="592.0" y="196.4"/>
<use href="#mb" x="580.0" y="196.0"/>
<use href="#mb" x="577.0" y="195.4"/>
<use href="#mb" x="572.0" y="194.0"/>
<use href="#mb" x="568.0" y="195.0"/>
<use href="#mb" x="565.0" y="195.4"/>
<use href="#mb" x="560.0" y="196.0"/>
<use href="#mb" x="543.0" y="191.6"/>
<use href="#mb" x="498.8" y="194.0"/>
<use href="#mb" x="543.7" y="194.7"/>
<use href="#mb" x="537.8" y="194.9"/>
<use href="#mb" x="535.1" y="193.5"/>
<use href="#mb" x="550.3" y="193.5"/>
<use href="#mb" x="490.2" y="193.2"/>
<use href="#mb" x="492.5" y="193.1"/>
<use href="#mb" x="557.8" y="193.3"/>
<use href="#mb" x="506.2" y="192.5"/>
<use href="#mb" x="524.2" y="195.5"/>
<use href="#mb" x="511.1" y="192.3"/>
<use href="#mb" x="512.4" y="193.8"/>
<use href="#mb" x="511.4" y="196.0"/>
<use href="#mb" x="507.2" y="193.6"/>
<use href="#mb" x="525.2" y="194.2"/>
<use href="#mb" x="550.5" y="193.1"/>
<use href="#mb" x="545.6" y="192.4"/>
<use href="#mb" x="508.9" y="194.7"/>
<use href="#mb" x="527.9" y="192.0"/>
<use href="#mb" x="477.9" y="194.3"/>
<use href="#mb" x="502.1" y="193.3"/>
<use href="#mb" x="556.6" y="194.3"/>
<use href="#mb" x="489.0" y="193.9"/>
<use href="#mb" x="512.9" y="195.9"/>
<use href="#mb" x="542.1" y="194.6"/>
<use href="#mb" x="537.1" y="195.6"/>
<use href="#mb" x="547.4" y="195.7"/>
<use href="#mb" x="546.3" y="196.2"/>
<use href="#mb" x="554.5" y="194.4"/>
<use href="#mb" x="481.1" y="194.3"/>
<use href="#mb" x="528.4" y="195.2"/>
<use href="#mb" x="507.7" y="193.7"/>
<use href="#mb" x="515.8" y="194.5"/>
<use href="#mb" x="530.7" y="193.6"/>
<use href="#mb" x="545.2" y="194.8"/>
<use href="#mb" x="540.0" y="193.6"/>
<use href="#mb" x="547.1" y="192.8"/>
<use href="#mb" x="522.6" y="194.7"/>
<use href="#mb" x="545.6" y="193.5"/>
<use href="#mb" x="472.7" y="195.3"/>
<use href="#mb" x="531.7" y="193.9"/>
<use href="#mb" x="527.0" y="193.2"/>
<use href="#mb" x="523.6" y="192.1"/>
<use href="#mb" x="505.3" y="194.5"/>
<use href="#mb" x="528.1" y="193.1"/>
<use href="#mb" x="539.7" y="192.2"/>
<use href="#mb" x="508.1" y="192.6"/>
<use href="#mb" x="531.7" y="195.2"/>
<use href="#mb" x="516.6" y="191.5"/>
<use href="#mb" x="539.6" y="194.6"/>
<use href="#mb" x="501.6" y="194.8"/>
<use href="#mb" x="521.9" y="191.2"/>
<use href="#mb" x="538.7" y="193.6"/>
<use href="#mb" x="496.6" y="195.4"/>
<use href="#mb" x="514.8" y="194.5"/>
<use href="#mb" x="509.9" y="194.7"/>
<use href="#mb" x="548.2" y="193.9"/>
<use href="#mb" x="489.1" y="192.4"/>
<use href="#mb" x="512.2" y="195.6"/>
<use href="#mb" x="528.0" y="193.4"/>
<use href="#mb" x="511.6" y="193.1"/>
<use href="#mb" x="540.5" y="195.1"/>
<use href="#mb" x="468.6" y="194.1"/>
<use href="#mb" x="550.8" y="192.8"/>
<use href="#mb" x="554.8" y="191.7"/>
<use href="#mb" x="520.4" y="192.7"/>
<use href="#mb" x="481.8" y="193.1"/>
<use href="#mb" x="529.8" y="194.1"/>
<use href="#mb" x="508.9" y="195.3"/>
<use href="#mb" x="523.5" y="192.4"/>
<use href="#mb" x="510.8" y="193.3"/>
<use href="#mb" x="503.4" y="193.7"/>
<use href="#mb" x="494.8" y="193.5"/>
<use href="#mb" x="514.5" y="193.6"/>
<use href="#mb" x="504.8" y="195.4"/>
<use href="#mb" x="511.8" y="192.7"/>
<use href="#mb" x="559.5" y="194.4"/>
<use href="#mb" x="540.0" y="193.1"/>
<use href="#mp" x="443.0" y="190.4"/>
<use href="#mp" x="451.0" y="191.0"/>
<use href="#mp" x="463.6" y="187.4"/>
<use href="#mp" x="468.0" y="192.4"/>
<use href="#mp" x="470.4" y="190.6"/>
<use href="#mp" x="476.0" y="191.0"/>
<use href="#mp" x="479.0" y="192.0"/>
<use href="#mp" x="481.0" y="190.4"/>
<use href="#mp" x="643.2" y="195.4"/>
<use href="#mp" x="615.6" y="188.4"/>
<use href="#mp" x="603.0" y="192.6"/>
<use href="#mp" x="597.0" y="193.4"/>
<use href="#mp" x="594.0" y="193.4"/>
<use href="#mp" x="591.0" y="194.0"/>
<use href="#mp" x="587.0" y="189.6"/>
<use href="#mp" x="583.0" y="192.6"/>
<use href="#mp" x="579.0" y="193.4"/>
<use href="#mp" x="576.0" y="193.0"/>
<use href="#mp" x="572.0" y="192.4"/>
<use href="#mp" x="568.0" y="191.6"/>
<use href="#mp" x="567.0" y="190.0"/>
<use href="#mp" x="555.0" y="186.6"/>
<use href="#mp" x="541.0" y="188.0"/>
<use href="#mp" x="529.8" y="193.6"/>
<use href="#mp" x="528.1" y="192.5"/>
<use href="#mp" x="549.4" y="189.5"/>
<use href="#mp" x="535.4" y="189.8"/>
<use href="#mp" x="537.5" y="193.1"/>
<use href="#mp" x="544.3" y="190.7"/>
<use href="#mp" x="515.4" y="192.1"/>
<use href="#mp" x="494.5" y="191.6"/>
<use href="#mp" x="525.1" y="190.5"/>
<use href="#mp" x="503.8" y="191.9"/>
<use href="#mp" x="506.2" y="192.4"/>
<use href="#mp" x="541.9" y="191.3"/>
<use href="#mp" x="541.6" y="192.9"/>
<use href="#mp" x="543.2" y="190.9"/>
<use href="#mp" x="536.7" y="191.0"/>
<use href="#mp" x="497.8" y="188.8"/>
<use href="#mp" x="509.1" y="191.1"/>
<use href="#mp" x="497.9" y="190.5"/>
<use href="#mp" x="510.3" y="190.4"/>
<use href="#mp" x="528.6" y="192.1"/>
<use href="#mp" x="484.7" y="190.1"/>
<use href="#mp" x="542.9" y="189.7"/>
<use href="#mp" x="491.4" y="189.8"/>
<use href="#mp" x="529.6" y="190.4"/>
<use href="#mp" x="530.7" y="191.4"/>
<use href="#mp" x="525.4" y="189.3"/>
<use href="#mp" x="507.4" y="193.4"/>
<use href="#mp" x="517.4" y="190.5"/>
<use href="#mp" x="473.9" y="192.0"/>
<use href="#mp" x="534.7" y="191.1"/>
<use href="#mp" x="522.3" y="193.0"/>
<use href="#mp" x="542.7" y="187.8"/>
<use href="#mp" x="515.0" y="192.1"/>
<use href="#mp" x="491.1" y="189.3"/>
<use href="#mp" x="522.6" y="192.2"/>
<use href="#mp" x="550.3" y="189.5"/>
<use href="#mp" x="535.1" y="193.9"/>
<use href="#mp" x="517.4" y="189.8"/>
<use href="#mp" x="489.4" y="189.3"/>
<use href="#mp" x="555.8" y="189.1"/>
<use href="#mp" x="502.0" y="192.1"/>
<use href="#mp" x="543.5" y="189.1"/>
<use href="#mp" x="550.7" y="188.8"/>
<use href="#mp" x="517.5" y="191.6"/>
<use href="#mp" x="473.6" y="189.5"/>
<use href="#mp" x="508.4" y="191.7"/>
<use href="#mp" x="536.2" y="190.2"/>
<use href="#mp" x="485.7" y="192.1"/>
<use href="#mp" x="492.6" y="187.4"/>
<use href="#mp" x="502.1" y="189.4"/>
<use href="#mp" x="555.6" y="188.0"/>
<use href="#mp" x="489.1" y="191.5"/>
<use href="#mp" x="501.8" y="191.4"/>
<use href="#mp" x="478.0" y="189.9"/>
<use href="#mp" x="489.1" y="188.6"/>
<use href="#mp" x="552.5" y="191.8"/>
<use href="#mp" x="521.9" y="188.6"/>
<use href="#mp" x="527.8" y="191.8"/>
<use href="#mp" x="510.5" y="191.1"/>
<use href="#mp" x="535.4" y="190.7"/>
<use href="#mp" x="515.2" y="191.7"/>
<use href="#mp" x="502.0" y="192.2"/>
<use href="#mp" x="484.0" y="192.6"/>
<use href="#mp" x="542.7" y="190.8"/>
<use href="#mp" x="515.7" y="190.3"/>
<use href="#mp" x="546.7" y="189.8"/>
<use href="#mp" x="539.3" y="191.8"/>
<use href="#mp" x="513.5" y="192.2"/>
<use href="#mp" x="517.6" y="192.3"/>
<use href="#mp" x="510.7" y="191.2"/>
<use href="#mp" x="514.6" y="191.3"/>
<use href="#mp" x="507.7" y="188.6"/>
<use href="#mp" x="511.4" y="192.6"/>
<use href="#mp" x="524.8" y="192.8"/>
<use href="#mp" x="493.2" y="190.7"/>
<use href="#mp" x="478.3" y="190.4"/>
<use href="#mp" x="545.9" y="193.8"/>
<use href="#mo" x="442.4" y="135.6"/>
<use href="#mo" x="448.2" y="128.8"/>
<use href="#mo" x="457.6" y="125.2"/>
<use href="#mo" x="467.4" y="121.6"/>
<use href="#mo" x="469.0" y="123.4"/>
<use href="#mo" x="470.0" y="137.2"/>
<use href="#mo" x="473.4" y="133.6"/>
<use href="#mo" x="481.0" y="124.6"/>
<use href="#mo" x="483.0" y="126.6"/>
<use href="#mo" x="486.0" y="120.6"/>
<use href="#mo" x="487.6" y="123.6"/>
<use href="#mo" x="494.0" y="123.0"/>
<use href="#mo" x="491.0" y="129.6"/>
<use href="#mo" x="484.6" y="136.0"/>
<use href="#mo" x="488.6" y="137.4"/>
<use href="#mo" x="490.0" y="135.0"/>
<use href="#mo" x="492.4" y="139.0"/>
<use href="#mo" x="494.0" y="136.6"/>
<use href="#mo" x="493.0" y="140.0"/>
<use href="#mo" x="502.0" y="125.4"/>
<use href="#mo" x="503.6" y="128.0"/>
<use href="#mo" x="509.0" y="118.6"/>
<use href="#mo" x="509.6" y="125.6"/>
<use href="#mo" x="514.6" y="129.0"/>
<use href="#mo" x="504.0" y="133.0"/>
<use href="#mo" x="500.4" y="135.6"/>
<use href="#mo" x="502.0" y="137.4"/>
<use href="#mo" x="503.6" y="139.0"/>
<use href="#mo" x="504.6" y="134.4"/>
<use href="#mo" x="508.0" y="140.0"/>
<use href="#mo" x="509.0" y="138.0"/>
<use href="#mo" x="511.6" y="135.6"/>
<use href="#mo" x="509.4" y="145.6"/>
<use href="#mo" x="626.2" y="119.4"/>
<use href="#mo" x="525.6" y="114.6"/>
<use href="#mo" x="527.6" y="116.6"/>
<use href="#mo" x="538.4" y="117.4"/>
<use href="#mo" x="545.0" y="120.6"/>
<use href="#mo" x="541.6" y="123.0"/>
<use href="#mo" x="543.0" y="125.0"/>
<use href="#mo" x="548.0" y="128.0"/>
<use href="#mo" x="542.0" y="130.0"/>
<use href="#mo" x="540.0" y="133.0"/>
<use href="#mo" x="544.0" y="133.0"/>
<use href="#mo" x="530.0" y="129.0"/>
<use href="#mo" x="525.0" y="129.0"/>
<use href="#mo" x="523.0" y="131.0"/>
<use href="#mo" x="517.0" y="130.0"/>
<use href="#mo" x="522.0" y="134.0"/>
<use href="#mo" x="518.0" y="136.0"/>
<use href="#mo" x="529.0" y="134.0"/>
<use href="#mo" x="528.0" y="138.0"/>
<use href="#mo" x="532.0" y="140.6"/>
<use href="#mo" x="528.0" y="142.0"/>
<use href="#mo" x="524.0" y="145.0"/>
<use href="#mo" x="538.0" y="138.0"/>
<use href="#mo" x="546.0" y="136.6"/>
<use href="#mo" x="548.0" y="135.0"/>
<use href="#mo" x="551.0" y="137.4"/>
<use href="#mo" x="554.0" y="133.0"/>
<use href="#mo" x="556.0" y="132.0"/>
<use href="#mo" x="555.0" y="136.6"/>
<use href="#mo" x="557.0" y="138.0"/>
<use href="#mo" x="559.0" y="126.0"/>
<use href="#mo" x="558.0" y="140.0"/>
<use href="#mo" x="563.0" y="137.4"/>
<use href="#mo" x="565.0" y="128.4"/>
<use href="#mo" x="569.4" y="122.6"/>
<use href="#mo" x="574.0" y="123.0"/>
<use href="#mo" x="570.6" y="129.6"/>
<use href="#mo" x="573.0" y="131.6"/>
<use href="#mo" x="568.0" y="137.0"/>
<use href="#mo" x="569.6" y="136.6"/>
<use href="#mo" x="568.6" y="142.0"/>
<use href="#mo" x="565.0" y="148.0"/>
<use href="#mo" x="578.0" y="136.6"/>
<use href="#mo" x="581.4" y="133.0"/>
<use href="#mo" x="589.4" y="132.4"/>
<use href="#mo" x="600.4" y="141.4"/>
<use href="#mo" x="604.4" y="138.4"/>
<use href="#mo" x="620.6" y="139.4"/>
<use href="#mo" x="515.0" y="136.4"/>
<use href="#mo" x="530.0" y="133.8"/>
<use href="#mo" x="543.3" y="141.3"/>
<use href="#mo" x="530.0" y="135.4"/>
<use href="#mo" x="544.8" y="138.2"/>
<use href="#mo" x="517.5" y="133.4"/>
<use href="#mo" x="517.6" y="135.8"/>
<use href="#mo" x="474.1" y="130.4"/>
<use href="#mo" x="545.0" y="133.1"/>
<use href="#mo" x="494.6" y="131.7"/>
<use href="#mo" x="534.1" y="133.7"/>
<use href="#mo" x="519.7" y="125.4"/>
<use href="#mo" x="492.0" y="135.6"/>
<use href="#mo" x="472.4" y="136.4"/>
<use href="#mo" x="501.5" y="137.7"/>
<use href="#mo" x="502.7" y="123.4"/>
<use href="#mo" x="515.1" y="133.3"/>
<use href="#mo" x="518.5" y="130.6"/>
<use href="#mo" x="496.6" y="124.2"/>
<use href="#mk" x="498.0" y="9.2"/>
<use href="#mk" x="485.4" y="52.0"/>
<use href="#mk" x="481.4" y="53.8"/>
<use href="#mk" x="502.0" y="57.2"/>
<use href="#mk" x="497.0" y="58.8"/>
<use href="#mk" x="514.8" y="63.0"/>
<use href="#mk" x="505.6" y="65.0"/>
<use href="#mk" x="499.0" y="70.0"/>
<use href="#mk" x="512.6" y="69.4"/>
<use href="#mk" x="492.4" y="73.4"/>
<use href="#mk" x="524.8" y="74.2"/>
<use href="#mk" x="454.8" y="76.2"/>
<use href="#mk" x="461.8" y="75.8"/>
<use href="#mk" x="482.4" y="76.8"/>
<use href="#mk" x="478.6" y="79.6"/>
<use href="#mk" x="507.0" y="77.0"/>
<use href="#mk" x="510.0" y="77.2"/>
<use href="#mk" x="513.0" y="76.8"/>
<use href="#mk" x="548.6" y="75.8"/>
<use href="#mk" x="557.4" y="74.6"/>
<use href="#mk" x="498.6" y="80.6"/>
<use href="#mk" x="497.6" y="81.4"/>
<use href="#mk" x="493.8" y="81.8"/>
<use href="#mk" x="484.0" y="83.0"/>
<use href="#mk" x="508.6" y="83.0"/>
<use href="#mk" x="514.4" y="81.8"/>
<use href="#mk" x="520.2" y="82.6"/>
<use href="#mk" x="550.0" y="83.6"/>
<use href="#mk" x="550.4" y="86.2"/>
<use href="#mk" x="458.0" y="86.4"/>
<use href="#mk" x="505.6" y="86.2"/>
<use href="#mk" x="507.4" y="88.0"/>
<use href="#mk" x="516.6" y="88.6"/>
<use href="#mk" x="521.6" y="87.6"/>
<use href="#mk" x="521.6" y="89.6"/>
<use href="#mk" x="542.2" y="86.2"/>
<use href="#mk" x="554.0" y="89.4"/>
<use href="#mk" x="566.6" y="88.6"/>
<use href="#mk" x="462.6" y="89.6"/>
<use href="#mk" x="466.0" y="88.2"/>
<use href="#mk" x="491.4" y="88.4"/>
<use href="#mk" x="472.0" y="90.6"/>
<use href="#mk" x="477.0" y="91.8"/>
<use href="#mk" x="482.0" y="92.8"/>
<use href="#mk" x="487.0" y="92.0"/>
<use href="#mk" x="504.4" y="92.4"/>
<use href="#mk" x="512.4" y="92.4"/>
<use href="#mk" x="511.0" y="94.6"/>
<use href="#mk" x="517.6" y="95.0"/>
<use href="#mk" x="522.4" y="92.4"/>
<use href="#mk" x="524.0" y="94.0"/>
<use href="#mk" x="527.4" y="93.2"/>
<use href="#mk" x="532.0" y="91.0"/>
<use href="#mk" x="538.0" y="89.4"/>
<use href="#mk" x="538.6" y="94.6"/>
<use href="#mk" x="540.6" y="94.6"/>
<use href="#mk" x="456.6" y="93.2"/>
<use href="#mk" x="484.6" y="97.6"/>
<use href="#mk" x="505.6" y="97.6"/>
<use href="#mk" x="507.6" y="98.6"/>
<use href="#mk" x="513.0" y="98.6"/>
<use href="#mk" x="514.0" y="100.6"/>
<use href="#mk" x="525.0" y="97.2"/>
<use href="#mk" x="524.0" y="99.0"/>
<use href="#mk" x="533.6" y="98.6"/>
<use href="#mk" x="563.6" y="96.2"/>
<use href="#mk" x="473.4" y="100.2"/>
<use href="#mk" x="493.6" y="101.8"/>
<use href="#mk" x="520.4" y="101.8"/>
<use href="#mk" x="552.0" y="100.0"/>
<use href="#mk" x="447.2" y="103.6"/>
<use href="#mk" x="516.6" y="104.6"/>
<use href="#mk" x="508.0" y="106.0"/>
<use href="#mk" x="532.6" y="104.6"/>
<use href="#mk" x="536.0" y="105.4"/>
<use href="#mk" x="552.6" y="104.4"/>
<use href="#mk" x="558.0" y="102.8"/>
<use href="#mk" x="563.6" y="106.0"/>
<use href="#mk" x="566.6" y="109.2"/>
<use href="#mk" x="485.4" y="108.2"/>
<use href="#mk" x="499.8" y="107.8"/>
<use href="#mk" x="501.6" y="113.0"/>
<use href="#mk" x="505.0" y="111.6"/>
<use href="#mk" x="513.6" y="110.6"/>
<use href="#mk" x="514.6" y="114.0"/>
<use href="#mk" x="562.0" y="116.0"/>
<use href="#mk" x="572.4" y="75.4"/>
<use href="#mk" x="574.6" y="82.0"/>
<use href="#mk" x="574.6" y="86.4"/>
<use href="#mk" x="586.4" y="95.4"/>
<use href="#mk" x="584.4" y="99.6"/>
<use href="#mk" x="595.2" y="99.0"/>
<use href="#mk" x="578.2" y="107.4"/>
<use href="#mk" x="518.0" y="97.0"/>
<use href="#mk" x="503.0" y="95.0"/>
</g>
<rect x="378.55" y="-0.15" width="277.00" height="206.45" fill="none" stroke="#505050" stroke-width="1.1"/>
<path d="M376.8 205.7H378.55" stroke="#505050" stroke-width="0.88"/>
<text x="375.2" y="210.5" font-family='"Liberation Sans", sans-serif' font-size="12.2" text-anchor="end" fill="#1a1a1a" textLength="17.9" lengthAdjust="spacingAndGlyphs">0.0</text>
<path d="M376.8 162.5H378.55" stroke="#505050" stroke-width="0.88"/>
<text x="375.2" y="167.3" font-family='"Liberation Sans", sans-serif' font-size="12.2" text-anchor="end" fill="#1a1a1a" textLength="17.9" lengthAdjust="spacingAndGlyphs">0.5</text>
<path d="M376.8 119.2H378.55" stroke="#505050" stroke-width="0.88"/>
<text x="375.2" y="124.0" font-family='"Liberation Sans", sans-serif' font-size="12.2" text-anchor="end" fill="#1a1a1a" textLength="17.9" lengthAdjust="spacingAndGlyphs">1.0</text>
<path d="M376.8 76.0H378.55" stroke="#505050" stroke-width="0.88"/>
<text x="375.2" y="80.8" font-family='"Liberation Sans", sans-serif' font-size="12.2" text-anchor="end" fill="#1a1a1a" textLength="17.9" lengthAdjust="spacingAndGlyphs">1.5</text>
<path d="M376.8 32.8H378.55" stroke="#505050" stroke-width="0.88"/>
<text x="375.2" y="37.5" font-family='"Liberation Sans", sans-serif' font-size="12.2" text-anchor="end" fill="#1a1a1a" textLength="17.9" lengthAdjust="spacingAndGlyphs">2.0</text>
<path d="M402.30 206.3V207.9" stroke="#505050" stroke-width="0.88"/>
<text x="402.30" y="218.5" font-family='"Liberation Sans", sans-serif' font-size="12.2" text-anchor="middle" fill="#1a1a1a" textLength="14.6" lengthAdjust="spacingAndGlyphs">50</text>
<path d="M474.40 206.3V207.9" stroke="#505050" stroke-width="0.88"/>
<text x="474.40" y="218.5" font-family='"Liberation Sans", sans-serif' font-size="12.2" text-anchor="middle" fill="#1a1a1a" textLength="21.9" lengthAdjust="spacingAndGlyphs">100</text>
<path d="M546.50 206.3V207.9" stroke="#505050" stroke-width="0.88"/>
<text x="546.50" y="218.5" font-family='"Liberation Sans", sans-serif' font-size="12.2" text-anchor="middle" fill="#1a1a1a" textLength="21.9" lengthAdjust="spacingAndGlyphs">150</text>
<path d="M618.55 206.3V207.9" stroke="#505050" stroke-width="0.88"/>
<text x="618.55" y="218.5" font-family='"Liberation Sans", sans-serif' font-size="12.2" text-anchor="middle" fill="#1a1a1a" textLength="21.9" lengthAdjust="spacingAndGlyphs">200</text>
<text x="457.0" y="232.9" font-family='"Liberation Sans", sans-serif' font-size="12.2" fill="#1a1a1a" textLength="104.2" lengthAdjust="spacingAndGlyphs">Beam weight (Nm</text>
<text x="561.5" y="228.4" font-family='"Liberation Sans", sans-serif' font-size="8.6" fill="#1a1a1a" textLength="11.8" lengthAdjust="spacingAndGlyphs">−1</text>
<text x="573.2" y="232.9" font-family='"Liberation Sans", sans-serif' font-size="12.2" fill="#1a1a1a">)</text>
<g transform="translate(352.9 140.3) rotate(-90)"><text x="-1.0" y="0" font-family='"Liberation Sans", sans-serif' font-size="12.2" fill="#1a1a1a" textLength="58.6" lengthAdjust="spacingAndGlyphs">RMSA (ms</text><text x="57.9" y="-4.5" font-family='"Liberation Sans", sans-serif' font-size="8.6" fill="#1a1a1a" textLength="11.8" lengthAdjust="spacingAndGlyphs">−2</text><text x="69.7" y="0" font-family='"Liberation Sans", sans-serif' font-size="12.2" fill="#1a1a1a">)</text></g>
<text x="499.0" y="259.5" font-family='"Liberation Serif", serif' font-size="16.0" text-anchor="middle" fill="#1a1a1a">(b)</text>
<g id="pts-c">
<use href="#mr" x="74.8" y="438.4"/>
<use href="#mr" x="101.0" y="442.0"/>
<use href="#mr" x="118.4" y="432.0"/>
<use href="#mr" x="122.2" y="434.4"/>
<use href="#mr" x="127.6" y="429.6"/>
<use href="#mr" x="136.8" y="430.8"/>
<use href="#mr" x="138.4" y="434.4"/>
<use href="#mr" x="134.6" y="436.6"/>
<use href="#mr" x="131.6" y="442.4"/>
<use href="#mr" x="145.6" y="438.6"/>
<use href="#mr" x="149.4" y="441.4"/>
<use href="#mr" x="155.4" y="431.6"/>
<use href="#mr" x="154.6" y="441.0"/>
<use href="#mr" x="160.0" y="440.6"/>
<use href="#mr" x="162.0" y="440.0"/>
<use href="#mr" x="164.0" y="438.4"/>
<use href="#mr" x="165.6" y="437.0"/>
<use href="#mr" x="171.0" y="440.4"/>
<use href="#mr" x="173.0" y="442.0"/>
<use href="#mr" x="174.4" y="437.0"/>
<use href="#mr" x="176.0" y="436.0"/>
<use href="#mr" x="177.0" y="439.0"/>
<use href="#mr" x="181.6" y="443.4"/>
<use href="#mr" x="184.4" y="435.0"/>
<use href="#mr" x="186.4" y="437.0"/>
<use href="#mr" x="190.0" y="438.4"/>
<use href="#mr" x="191.0" y="441.0"/>
<use href="#mr" x="189.6" y="445.0"/>
<use href="#mr" x="193.0" y="436.0"/>
<use href="#mr" x="194.0" y="439.0"/>
<use href="#mr" x="196.0" y="441.0"/>
<use href="#mr" x="198.0" y="437.0"/>
<use href="#mr" x="296.5" y="437.5"/>
<use href="#mr" x="300.3" y="448.0"/>
<use href="#mr" x="279.4" y="444.2"/>
<use href="#mr" x="272.1" y="442.5"/>
<use href="#mr" x="262.7" y="438.6"/>
<use href="#mr" x="263.1" y="444.2"/>
<use href="#mr" x="259.5" y="443.2"/>
<use href="#mr" x="256.4" y="440.4"/>
<use href="#mr" x="254.3" y="442.1"/>
<use href="#mr" x="252.2" y="444.6"/>
<use href="#mr" x="248.1" y="440.4"/>
<use href="#mr" x="247.0" y="446.9"/>
<use href="#mr" x="243.9" y="442.1"/>
<use href="#mr" x="236.6" y="440.0"/>
<use href="#mr" x="237.6" y="443.6"/>
<use href="#mr" x="233.9" y="439.0"/>
<use href="#mr" x="231.4" y="442.1"/>
<use href="#mr" x="229.3" y="443.6"/>
<use href="#mr" x="226.1" y="439.0"/>
<use href="#mr" x="220.9" y="436.9"/>
<use href="#mr" x="222.0" y="441.1"/>
<use href="#mr" x="217.8" y="442.1"/>
<use href="#mr" x="215.7" y="436.3"/>
<use href="#mr" x="212.6" y="444.2"/>
<use href="#mr" x="209.4" y="430.0"/>
<use href="#mr" x="207.4" y="440.0"/>
<use href="#mr" x="203.2" y="441.1"/>
<use href="#mr" x="202.1" y="445.2"/>
<use href="#mr" x="199.0" y="436.9"/>
<use href="#mr" x="248.4" y="435.9"/>
<use href="#mr" x="232.8" y="436.5"/>
<use href="#mr" x="208.9" y="440.0"/>
<use href="#mr" x="208.9" y="436.6"/>
<use href="#mr" x="203.4" y="438.7"/>
<use href="#mr" x="248.7" y="444.3"/>
<use href="#mr" x="187.0" y="437.7"/>
<use href="#mr" x="200.6" y="440.5"/>
<use href="#mr" x="219.6" y="441.5"/>
<use href="#mr" x="238.7" y="444.2"/>
<use href="#mr" x="189.2" y="439.5"/>
<use href="#mr" x="190.2" y="431.5"/>
<use href="#mr" x="222.7" y="441.5"/>
<use href="#mr" x="221.7" y="443.0"/>
<use href="#mr" x="191.1" y="439.5"/>
<use href="#mr" x="219.8" y="434.7"/>
<use href="#mr" x="228.7" y="432.4"/>
<use href="#mr" x="220.6" y="439.3"/>
<use href="#mr" x="204.3" y="443.2"/>
<use href="#mr" x="253.8" y="444.5"/>
<use href="#mr" x="204.5" y="442.0"/>
<use href="#mr" x="186.0" y="441.4"/>
<use href="#mr" x="211.8" y="439.4"/>
<use href="#mr" x="231.6" y="440.5"/>
<use href="#mr" x="190.0" y="438.7"/>
<use href="#mr" x="226.6" y="443.4"/>
<use href="#mr" x="165.5" y="443.9"/>
<use href="#mr" x="237.6" y="436.0"/>
<use href="#mr" x="183.2" y="439.5"/>
<use href="#mr" x="231.5" y="434.7"/>
<use href="#mr" x="189.6" y="440.8"/>
<use href="#mr" x="247.5" y="434.0"/>
<use href="#mr" x="176.1" y="438.2"/>
<use href="#mr" x="199.6" y="440.1"/>
<use href="#mr" x="189.4" y="441.8"/>
<use href="#mr" x="207.7" y="432.9"/>
<use href="#mr" x="227.6" y="438.3"/>
<use href="#mr" x="208.8" y="442.8"/>
<use href="#mr" x="201.6" y="435.1"/>
<use href="#mg" x="116.6" y="440.0"/>
<use href="#mg" x="129.0" y="448.6"/>
<use href="#mg" x="132.4" y="448.0"/>
<use href="#mg" x="138.6" y="448.6"/>
<use href="#mg" x="141.0" y="449.4"/>
<use href="#mg" x="143.4" y="450.6"/>
<use href="#mg" x="148.0" y="446.6"/>
<use href="#mg" x="150.6" y="446.6"/>
<use href="#mg" x="156.0" y="449.4"/>
<use href="#mg" x="158.0" y="448.6"/>
<use href="#mg" x="161.0" y="448.0"/>
<use href="#mg" x="162.0" y="452.0"/>
<use href="#mg" x="165.0" y="447.6"/>
<use href="#mg" x="167.0" y="450.4"/>
<use href="#mg" x="173.0" y="446.0"/>
<use href="#mg" x="174.0" y="448.0"/>
<use href="#mg" x="178.0" y="447.4"/>
<use href="#mg" x="179.0" y="450.0"/>
<use href="#mg" x="183.0" y="448.0"/>
<use href="#mg" x="186.0" y="450.6"/>
<use href="#mg" x="187.0" y="452.0"/>
<use href="#mg" x="191.0" y="450.0"/>
<use href="#mg" x="194.0" y="449.0"/>
<use href="#mg" x="196.0" y="451.0"/>
<use href="#mg" x="198.6" y="450.0"/>
<use href="#mg" x="304.4" y="451.7"/>
<use href="#mg" x="292.9" y="448.8"/>
<use href="#mg" x="290.2" y="453.6"/>
<use href="#mg" x="275.2" y="453.2"/>
<use href="#mg" x="273.1" y="450.5"/>
<use href="#mg" x="270.6" y="446.9"/>
<use href="#mg" x="265.8" y="453.6"/>
<use href="#mg" x="261.6" y="451.5"/>
<use href="#mg" x="258.1" y="453.2"/>
<use href="#mg" x="251.2" y="449.4"/>
<use href="#mg" x="246.0" y="451.5"/>
<use href="#mg" x="239.7" y="451.5"/>
<use href="#mg" x="234.5" y="454.2"/>
<use href="#mg" x="232.4" y="448.4"/>
<use href="#mg" x="230.3" y="451.5"/>
<use href="#mg" x="226.1" y="452.6"/>
<use href="#mg" x="222.0" y="451.5"/>
<use href="#mg" x="217.8" y="452.6"/>
<use href="#mg" x="213.6" y="450.5"/>
<use href="#mg" x="210.5" y="453.6"/>
<use href="#mg" x="205.3" y="448.4"/>
<use href="#mg" x="203.2" y="451.5"/>
<use href="#mg" x="200.0" y="447.3"/>
<use href="#mg" x="231.2" y="445.2"/>
<use href="#mg" x="215.3" y="450.3"/>
<use href="#mg" x="162.7" y="449.3"/>
<use href="#mg" x="159.7" y="446.3"/>
<use href="#mg" x="190.4" y="450.3"/>
<use href="#mg" x="170.2" y="451.6"/>
<use href="#mg" x="181.9" y="447.4"/>
<use href="#mg" x="215.0" y="453.4"/>
<use href="#mg" x="206.1" y="451.6"/>
<use href="#mg" x="176.9" y="448.8"/>
<use href="#mg" x="202.8" y="450.0"/>
<use href="#mg" x="191.5" y="451.8"/>
<use href="#mg" x="195.1" y="454.4"/>
<use href="#mg" x="225.6" y="449.2"/>
<use href="#mg" x="159.7" y="450.0"/>
<use href="#mg" x="240.3" y="449.7"/>
<use href="#mg" x="244.3" y="451.0"/>
<use href="#mg" x="208.0" y="453.7"/>
<use href="#mg" x="182.7" y="455.0"/>
<use href="#mg" x="182.9" y="449.7"/>
<use href="#mg" x="222.5" y="447.3"/>
<use href="#mg" x="211.7" y="452.9"/>
<use href="#mg" x="220.1" y="450.7"/>
<use href="#mg" x="258.0" y="445.2"/>
<use href="#mg" x="234.9" y="453.2"/>
<use href="#mg" x="193.3" y="449.8"/>
<use href="#mg" x="188.1" y="448.9"/>
<use href="#mg" x="227.2" y="448.1"/>
<use href="#mg" x="214.4" y="452.6"/>
<use href="#mg" x="184.4" y="450.6"/>
<use href="#mg" x="245.2" y="446.2"/>
<use href="#mg" x="235.4" y="449.4"/>
<use href="#mg" x="226.9" y="448.2"/>
<use href="#mg" x="244.2" y="448.1"/>
<use href="#mg" x="165.0" y="447.8"/>
<use href="#mg" x="218.8" y="451.5"/>
<use href="#mg" x="222.7" y="449.5"/>
<use href="#mg" x="206.5" y="454.7"/>
<use href="#mg" x="211.1" y="448.8"/>
<use href="#mg" x="206.6" y="454.4"/>
<use href="#mg" x="220.8" y="448.4"/>
<use href="#mg" x="213.1" y="449.2"/>
<use href="#mg" x="198.1" y="452.0"/>
<use href="#mg" x="222.7" y="451.2"/>
<use href="#mg" x="213.1" y="448.4"/>
<use href="#mg" x="211.8" y="454.5"/>
<use href="#mg" x="210.7" y="448.3"/>
<use href="#mg" x="188.3" y="450.9"/>
<use href="#mg" x="223.5" y="451.8"/>
<use href="#mg" x="227.1" y="446.8"/>
<use href="#mg" x="203.5" y="447.7"/>
<use href="#mg" x="215.0" y="450.8"/>
<use href="#mb" x="90.6" y="460.6"/>
<use href="#mb" x="94.4" y="460.6"/>
<use href="#mb" x="108.0" y="459.8"/>
<use href="#mb" x="114.6" y="461.0"/>
<use href="#mb" x="121.4" y="463.0"/>
<use href="#mb" x="124.0" y="461.6"/>
<use href="#mb" x="129.0" y="460.0"/>
<use href="#mb" x="137.0" y="462.4"/>
<use href="#mb" x="147.6" y="463.4"/>
<use href="#mb" x="151.4" y="463.0"/>
<use href="#mb" x="158.0" y="461.0"/>
<use href="#mb" x="161.0" y="464.0"/>
<use href="#mb" x="164.0" y="462.0"/>
<use href="#mb" x="167.0" y="461.0"/>
<use href="#mb" x="170.0" y="462.0"/>
<use href="#mb" x="173.0" y="463.4"/>
<use href="#mb" x="176.0" y="462.0"/>
<use href="#mb" x="180.0" y="462.6"/>
<use href="#mb" x="184.0" y="462.0"/>
<use href="#mb" x="188.0" y="463.0"/>
<use href="#mb" x="192.0" y="462.0"/>
<use href="#mb" x="196.0" y="463.0"/>
<use href="#mb" x="321.1" y="464.5"/>
<use href="#mb" x="299.2" y="464.5"/>
<use href="#mb" x="290.9" y="464.0"/>
<use href="#mb" x="282.1" y="463.0"/>
<use href="#mb" x="276.7" y="464.5"/>
<use href="#mb" x="268.9" y="464.5"/>
<use href="#mb" x="259.5" y="464.0"/>
<use href="#mb" x="257.5" y="463.0"/>
<use href="#mb" x="253.3" y="464.5"/>
<use href="#mb" x="249.1" y="463.0"/>
<use href="#mb" x="244.9" y="464.0"/>
<use href="#mb" x="240.8" y="463.0"/>
<use href="#mb" x="237.6" y="464.0"/>
<use href="#mb" x="232.4" y="462.4"/>
<use href="#mb" x="226.1" y="464.0"/>
<use href="#mb" x="222.0" y="463.6"/>
<use href="#mb" x="217.8" y="464.0"/>
<use href="#mb" x="213.6" y="463.6"/>
<use href="#mb" x="209.4" y="464.0"/>
<use href="#mb" x="203.2" y="463.6"/>
<use href="#mb" x="200.1" y="462.8"/>
<use href="#mb" x="243.9" y="460.7"/>
<use href="#mb" x="179.8" y="460.8"/>
<use href="#mb" x="187.6" y="463.6"/>
<use href="#mb" x="241.6" y="463.3"/>
<use href="#mb" x="241.2" y="461.5"/>
<use href="#mb" x="233.3" y="461.2"/>
<use href="#mb" x="240.3" y="461.4"/>
<use href="#mb" x="224.2" y="461.5"/>
<use href="#mb" x="238.7" y="462.3"/>
<use href="#mb" x="236.4" y="460.0"/>
<use href="#mb" x="206.2" y="461.3"/>
<use href="#mb" x="193.6" y="462.1"/>
<use href="#mb" x="215.3" y="462.2"/>
<use href="#mb" x="183.2" y="461.8"/>
<use href="#mb" x="213.4" y="461.4"/>
<use href="#mb" x="227.9" y="463.9"/>
<use href="#mb" x="247.6" y="462.0"/>
<use href="#mb" x="186.4" y="462.2"/>
<use href="#mb" x="220.4" y="460.7"/>
<use href="#mb" x="197.7" y="461.6"/>
<use href="#mb" x="163.3" y="461.6"/>
<use href="#mb" x="204.9" y="462.3"/>
<use href="#mb" x="232.8" y="459.6"/>
<use href="#mb" x="236.9" y="462.7"/>
<use href="#mb" x="250.8" y="462.2"/>
<use href="#mb" x="206.9" y="462.5"/>
<use href="#mb" x="220.8" y="461.1"/>
<use href="#mb" x="212.1" y="462.0"/>
<use href="#mb" x="204.0" y="462.3"/>
<use href="#mb" x="235.2" y="462.4"/>
<use href="#mb" x="203.9" y="462.0"/>
<use href="#mb" x="187.1" y="462.1"/>
<use href="#mb" x="167.0" y="461.3"/>
<use href="#mb" x="223.1" y="462.2"/>
<use href="#mb" x="251.4" y="462.8"/>
<use href="#mb" x="223.5" y="461.2"/>
<use href="#mb" x="193.0" y="462.1"/>
<use href="#mb" x="232.9" y="461.7"/>
<use href="#mb" x="215.9" y="460.1"/>
<use href="#mb" x="214.1" y="463.8"/>
<use href="#mb" x="187.5" y="460.8"/>
<use href="#mb" x="204.4" y="463.1"/>
<use href="#mb" x="217.0" y="460.0"/>
<use href="#mb" x="173.1" y="464.4"/>
<use href="#mb" x="221.9" y="462.4"/>
<use href="#mb" x="199.8" y="462.2"/>
<use href="#mb" x="182.9" y="461.3"/>
<use href="#mb" x="233.6" y="461.3"/>
<use href="#mb" x="192.5" y="460.5"/>
<use href="#mb" x="204.9" y="461.1"/>
<use href="#mb" x="182.0" y="461.0"/>
<use href="#mb" x="228.7" y="460.2"/>
<use href="#mb" x="208.8" y="461.3"/>
<use href="#mb" x="192.0" y="460.7"/>
<use href="#mb" x="229.6" y="460.5"/>
<use href="#mb" x="197.3" y="463.3"/>
<use href="#mb" x="206.1" y="462.0"/>
<use href="#mp" x="118.6" y="456.2"/>
<use href="#mp" x="123.4" y="457.8"/>
<use href="#mp" x="140.6" y="458.4"/>
<use href="#mp" x="143.0" y="459.0"/>
<use href="#mp" x="146.0" y="458.0"/>
<use href="#mp" x="153.0" y="460.0"/>
<use href="#mp" x="154.4" y="454.4"/>
<use href="#mp" x="156.0" y="455.0"/>
<use href="#mp" x="162.0" y="457.0"/>
<use href="#mp" x="166.0" y="459.0"/>
<use href="#mp" x="169.0" y="458.0"/>
<use href="#mp" x="171.0" y="457.0"/>
<use href="#mp" x="173.0" y="459.0"/>
<use href="#mp" x="176.0" y="460.0"/>
<use href="#mp" x="180.0" y="459.0"/>
<use href="#mp" x="183.0" y="458.0"/>
<use href="#mp" x="186.0" y="459.0"/>
<use href="#mp" x="187.0" y="457.0"/>
<use href="#mp" x="190.0" y="460.0"/>
<use href="#mp" x="193.0" y="457.0"/>
<use href="#mp" x="195.0" y="460.0"/>
<use href="#mp" x="198.0" y="451.6"/>
<use href="#mp" x="287.1" y="458.2"/>
<use href="#mp" x="289.2" y="461.9"/>
<use href="#mp" x="278.3" y="462.4"/>
<use href="#mp" x="274.2" y="463.0"/>
<use href="#mp" x="268.9" y="460.9"/>
<use href="#mp" x="265.8" y="459.9"/>
<use href="#mp" x="262.7" y="459.9"/>
<use href="#mp" x="255.4" y="460.9"/>
<use href="#mp" x="252.2" y="458.8"/>
<use href="#mp" x="250.1" y="455.7"/>
<use href="#mp" x="242.4" y="456.3"/>
<use href="#mp" x="237.6" y="458.8"/>
<use href="#mp" x="233.4" y="459.9"/>
<use href="#mp" x="229.3" y="458.2"/>
<use href="#mp" x="225.1" y="458.8"/>
<use href="#mp" x="220.9" y="459.9"/>
<use href="#mp" x="216.7" y="458.8"/>
<use href="#mp" x="212.6" y="459.9"/>
<use href="#mp" x="208.4" y="457.4"/>
<use href="#mp" x="204.2" y="459.9"/>
<use href="#mp" x="201.1" y="458.8"/>
<use href="#mp" x="187.3" y="457.6"/>
<use href="#mp" x="234.3" y="458.0"/>
<use href="#mp" x="238.8" y="458.0"/>
<use href="#mp" x="181.0" y="459.7"/>
<use href="#mp" x="198.2" y="457.5"/>
<use href="#mp" x="233.6" y="458.4"/>
<use href="#mp" x="236.1" y="460.1"/>
<use href="#mp" x="204.9" y="456.1"/>
<use href="#mp" x="220.3" y="456.9"/>
<use href="#mp" x="161.9" y="460.1"/>
<use href="#mp" x="235.9" y="455.9"/>
<use href="#mp" x="191.0" y="460.4"/>
<use href="#mp" x="180.0" y="460.2"/>
<use href="#mp" x="223.4" y="459.2"/>
<use href="#mp" x="260.0" y="457.4"/>
<use href="#mp" x="189.2" y="458.3"/>
<use href="#mp" x="203.8" y="457.3"/>
<use href="#mp" x="233.1" y="459.3"/>
<use href="#mp" x="232.7" y="457.7"/>
<use href="#mp" x="205.7" y="458.2"/>
<use href="#mp" x="226.9" y="459.2"/>
<use href="#mp" x="189.5" y="456.5"/>
<use href="#mp" x="208.2" y="459.7"/>
<use href="#mp" x="220.8" y="461.2"/>
<use href="#mp" x="209.6" y="461.0"/>
<use href="#mp" x="196.3" y="461.7"/>
<use href="#mp" x="188.3" y="457.1"/>
<use href="#mp" x="203.1" y="460.7"/>
<use href="#mp" x="255.9" y="459.7"/>
<use href="#mp" x="248.9" y="459.6"/>
<use href="#mp" x="167.8" y="455.5"/>
<use href="#mp" x="196.3" y="457.4"/>
<use href="#mp" x="240.9" y="460.9"/>
<use href="#mp" x="210.1" y="459.6"/>
<use href="#mp" x="224.8" y="458.7"/>
<use href="#mp" x="173.4" y="458.6"/>
<use href="#mp" x="229.1" y="459.2"/>
<use href="#mp" x="223.6" y="459.6"/>
<use href="#mp" x="206.7" y="458.1"/>
<use href="#mp" x="212.1" y="456.5"/>
<use href="#mp" x="234.2" y="457.2"/>
<use href="#mp" x="228.0" y="458.4"/>
<use href="#mp" x="176.3" y="456.9"/>
<use href="#mp" x="255.9" y="458.3"/>
<use href="#mp" x="201.2" y="458.7"/>
<use href="#mp" x="241.3" y="458.2"/>
<use href="#mp" x="181.2" y="459.0"/>
<use href="#mp" x="187.2" y="459.0"/>
<use href="#mp" x="183.7" y="460.1"/>
<use href="#mp" x="248.8" y="456.9"/>
<use href="#mp" x="164.1" y="460.3"/>
<use href="#mp" x="196.0" y="459.3"/>
<use href="#mp" x="170.3" y="457.2"/>
<use href="#mp" x="164.0" y="457.5"/>
<use href="#mp" x="227.3" y="459.3"/>
<use href="#mp" x="190.3" y="458.6"/>
<use href="#mp" x="212.3" y="462.2"/>
<use href="#mo" x="105.6" y="390.8"/>
<use href="#mo" x="113.2" y="392.8"/>
<use href="#mo" x="139.4" y="384.8"/>
<use href="#mo" x="148.2" y="386.6"/>
<use href="#mo" x="134.0" y="398.0"/>
<use href="#mo" x="126.4" y="404.8"/>
<use href="#mo" x="133.0" y="403.4"/>
<use href="#mo" x="141.0" y="404.0"/>
<use href="#mo" x="149.0" y="401.4"/>
<use href="#mo" x="155.0" y="405.0"/>
<use href="#mo" x="157.0" y="405.0"/>
<use href="#mo" x="159.6" y="402.0"/>
<use href="#mo" x="160.4" y="396.0"/>
<use href="#mo" x="163.0" y="390.4"/>
<use href="#mo" x="164.0" y="401.0"/>
<use href="#mo" x="165.0" y="405.0"/>
<use href="#mo" x="167.4" y="405.0"/>
<use href="#mo" x="169.6" y="405.0"/>
<use href="#mo" x="168.0" y="395.0"/>
<use href="#mo" x="170.0" y="393.4"/>
<use href="#mo" x="172.6" y="385.4"/>
<use href="#mo" x="174.0" y="396.0"/>
<use href="#mo" x="176.0" y="395.0"/>
<use href="#mo" x="178.0" y="397.4"/>
<use href="#mo" x="177.6" y="403.0"/>
<use href="#mo" x="176.0" y="405.6"/>
<use href="#mo" x="182.0" y="405.4"/>
<use href="#mo" x="184.4" y="406.0"/>
<use href="#mo" x="183.0" y="401.0"/>
<use href="#mo" x="184.0" y="396.0"/>
<use href="#mo" x="185.0" y="400.0"/>
<use href="#mo" x="187.0" y="396.6"/>
<use href="#mo" x="184.4" y="389.6"/>
<use href="#mo" x="187.0" y="390.0"/>
<use href="#mo" x="190.0" y="387.4"/>
<use href="#mo" x="189.6" y="391.0"/>
<use href="#mo" x="192.0" y="393.0"/>
<use href="#mo" x="191.6" y="400.0"/>
<use href="#mo" x="190.0" y="402.0"/>
<use href="#mo" x="194.6" y="401.0"/>
<use href="#mo" x="192.4" y="407.6"/>
<use href="#mo" x="197.0" y="393.0"/>
<use href="#mo" x="326.3" y="406.4"/>
<use href="#mo" x="284.6" y="396.2"/>
<use href="#mo" x="277.9" y="403.5"/>
<use href="#mo" x="283.3" y="408.3"/>
<use href="#mo" x="280.4" y="415.8"/>
<use href="#mo" x="266.0" y="388.5"/>
<use href="#mo" x="254.3" y="386.8"/>
<use href="#mo" x="258.5" y="413.5"/>
<use href="#mo" x="252.2" y="396.6"/>
<use href="#mo" x="246.6" y="399.7"/>
<use href="#mo" x="250.6" y="402.0"/>
<use href="#mo" x="255.4" y="403.9"/>
<use href="#mo" x="243.3" y="402.4"/>
<use href="#mo" x="241.8" y="405.2"/>
<use href="#mo" x="238.7" y="406.2"/>
<use href="#mo" x="239.7" y="407.2"/>
<use href="#mo" x="230.3" y="406.0"/>
<use href="#mo" x="232.4" y="409.1"/>
<use href="#mo" x="224.1" y="409.1"/>
<use href="#mo" x="231.4" y="390.5"/>
<use href="#mo" x="222.6" y="392.4"/>
<use href="#mo" x="218.2" y="388.5"/>
<use href="#mo" x="217.8" y="382.6"/>
<use href="#mo" x="216.1" y="393.7"/>
<use href="#mo" x="217.8" y="396.2"/>
<use href="#mo" x="218.8" y="399.3"/>
<use href="#mo" x="217.4" y="400.8"/>
<use href="#mo" x="219.3" y="403.5"/>
<use href="#mo" x="218.8" y="406.6"/>
<use href="#mo" x="216.1" y="412.5"/>
<use href="#mo" x="211.9" y="409.8"/>
<use href="#mo" x="209.4" y="403.5"/>
<use href="#mo" x="211.5" y="397.9"/>
<use href="#mo" x="205.9" y="391.6"/>
<use href="#mo" x="204.8" y="400.4"/>
<use href="#mo" x="201.1" y="398.3"/>
<use href="#mo" x="203.2" y="405.6"/>
<use href="#mo" x="201.1" y="408.7"/>
<use href="#mo" x="207.8" y="408.3"/>
<use href="#mo" x="205.3" y="405.2"/>
<use href="#mo" x="182.9" y="397.6"/>
<use href="#mo" x="183.5" y="406.8"/>
<use href="#mo" x="202.4" y="395.9"/>
<use href="#mo" x="204.0" y="399.0"/>
<use href="#mo" x="198.8" y="401.4"/>
<use href="#mo" x="170.5" y="400.5"/>
<use href="#mo" x="184.1" y="402.2"/>
<use href="#mo" x="202.1" y="396.6"/>
<use href="#mo" x="229.5" y="405.8"/>
<use href="#mo" x="207.5" y="393.0"/>
<use href="#mo" x="221.8" y="404.4"/>
<use href="#mo" x="204.6" y="402.4"/>
<use href="#mo" x="234.4" y="400.4"/>
<use href="#mo" x="218.5" y="389.1"/>
<use href="#mo" x="169.4" y="405.8"/>
<use href="#mo" x="159.5" y="408.8"/>
<use href="#mo" x="232.0" y="399.1"/>
<use href="#mo" x="253.7" y="405.2"/>
<use href="#mk" x="131.0" y="277.0"/>
<use href="#mk" x="125.6" y="320.0"/>
<use href="#mk" x="151.4" y="321.6"/>
<use href="#mk" x="196.6" y="325.2"/>
<use href="#mk" x="197.4" y="326.6"/>
<use href="#mk" x="207.2" y="330.8"/>
<use href="#mk" x="185.6" y="337.8"/>
<use href="#mk" x="175.4" y="341.4"/>
<use href="#mk" x="207.4" y="342.4"/>
<use href="#mk" x="223.2" y="342.0"/>
<use href="#mk" x="231.6" y="344.2"/>
<use href="#mk" x="109.4" y="344.8"/>
<use href="#mk" x="141.6" y="343.8"/>
<use href="#mk" x="156.4" y="343.8"/>
<use href="#mk" x="154.0" y="345.2"/>
<use href="#mk" x="164.0" y="344.8"/>
<use href="#mk" x="135.0" y="348.0"/>
<use href="#mk" x="145.0" y="349.4"/>
<use href="#mk" x="146.0" y="348.6"/>
<use href="#mk" x="180.0" y="350.6"/>
<use href="#mk" x="190.0" y="351.6"/>
<use href="#mk" x="204.0" y="349.4"/>
<use href="#mk" x="206.0" y="350.6"/>
<use href="#mk" x="226.0" y="347.4"/>
<use href="#mk" x="221.4" y="353.0"/>
<use href="#mk" x="150.0" y="354.0"/>
<use href="#mk" x="152.0" y="355.4"/>
<use href="#mk" x="153.0" y="357.0"/>
<use href="#mk" x="179.6" y="355.4"/>
<use href="#mk" x="187.6" y="355.4"/>
<use href="#mk" x="189.0" y="354.0"/>
<use href="#mk" x="194.0" y="357.0"/>
<use href="#mk" x="196.0" y="356.0"/>
<use href="#mk" x="198.6" y="354.6"/>
<use href="#mk" x="212.0" y="356.6"/>
<use href="#mk" x="216.6" y="356.6"/>
<use href="#mk" x="160.6" y="358.8"/>
<use href="#mk" x="170.0" y="359.8"/>
<use href="#mk" x="179.0" y="361.0"/>
<use href="#mk" x="182.0" y="361.0"/>
<use href="#mk" x="192.0" y="358.4"/>
<use href="#mk" x="208.4" y="360.4"/>
<use href="#mk" x="225.4" y="360.0"/>
<use href="#mk" x="151.0" y="364.4"/>
<use href="#mk" x="155.0" y="363.0"/>
<use href="#mk" x="159.0" y="363.0"/>
<use href="#mk" x="168.0" y="366.0"/>
<use href="#mk" x="181.0" y="365.6"/>
<use href="#mk" x="190.6" y="363.0"/>
<use href="#mk" x="221.0" y="364.0"/>
<use href="#mk" x="223.0" y="363.0"/>
<use href="#mk" x="226.0" y="362.0"/>
<use href="#mk" x="229.0" y="363.0"/>
<use href="#mk" x="130.4" y="367.2"/>
<use href="#mk" x="157.6" y="369.6"/>
<use href="#mk" x="198.0" y="368.0"/>
<use href="#mk" x="202.6" y="366.6"/>
<use href="#mk" x="205.6" y="367.0"/>
<use href="#mk" x="214.0" y="367.4"/>
<use href="#mk" x="170.0" y="372.2"/>
<use href="#mk" x="204.0" y="373.0"/>
<use href="#mk" x="209.4" y="372.2"/>
<use href="#mk" x="225.0" y="370.6"/>
<use href="#mk" x="165.4" y="377.4"/>
<use href="#mk" x="196.0" y="375.8"/>
<use href="#mk" x="215.0" y="376.2"/>
<use href="#mk" x="222.4" y="381.0"/>
<use href="#mk" x="226.0" y="382.0"/>
<use href="#mk" x="229.6" y="379.0"/>
<use href="#mk" x="229.0" y="369.0"/>
<use href="#mk" x="233.0" y="343.4"/>
<use href="#mk" x="255.6" y="332.8"/>
<use href="#mk" x="248.6" y="337.2"/>
<use href="#mk" x="285.0" y="344.6"/>
<use href="#mk" x="240.6" y="350.6"/>
<use href="#mk" x="268.6" y="349.6"/>
<use href="#mk" x="271.6" y="354.2"/>
<use href="#mk" x="238.0" y="357.4"/>
<use href="#mk" x="245.0" y="360.0"/>
<use href="#mk" x="246.0" y="361.0"/>
<use href="#mk" x="275.6" y="360.2"/>
<use href="#mk" x="235.0" y="365.6"/>
<use href="#mk" x="247.4" y="366.8"/>
<use href="#mk" x="309.2" y="368.2"/>
<use href="#mk" x="261.6" y="370.0"/>
<use href="#mk" x="264.0" y="371.6"/>
<use href="#mk" x="260.6" y="372.4"/>
<use href="#mk" x="251.4" y="373.4"/>
<use href="#mk" x="234.6" y="373.4"/>
<use href="#mk" x="239.0" y="374.0"/>
<use href="#mk" x="241.0" y="375.4"/>
<use href="#mk" x="233.6" y="379.6"/>
<use href="#mk" x="241.0" y="383.6"/>
<use href="#mk" x="212.0" y="365.0"/>
<use href="#mk" x="190.0" y="362.0"/>
</g>
<rect x="62.3" y="267.6" width="276.75" height="206.30" fill="none" stroke="#666666" stroke-width="1.3"/>
<path d="M60.5 473.3H62.3" stroke="#666666" stroke-width="1.04"/>
<text x="59.0" y="478.1" font-family='"Liberation Sans", sans-serif' font-size="12.2" text-anchor="end" fill="#1a1a1a" textLength="17.9" lengthAdjust="spacingAndGlyphs">0.0</text>
<path d="M60.5 430.1H62.3" stroke="#666666" stroke-width="1.04"/>
<text x="59.0" y="434.9" font-family='"Liberation Sans", sans-serif' font-size="12.2" text-anchor="end" fill="#1a1a1a" textLength="17.9" lengthAdjust="spacingAndGlyphs">0.5</text>
<path d="M60.5 386.9H62.3" stroke="#666666" stroke-width="1.04"/>
<text x="59.0" y="391.7" font-family='"Liberation Sans", sans-serif' font-size="12.2" text-anchor="end" fill="#1a1a1a" textLength="17.9" lengthAdjust="spacingAndGlyphs">1.0</text>
<path d="M60.5 343.7H62.3" stroke="#666666" stroke-width="1.04"/>
<text x="59.0" y="348.5" font-family='"Liberation Sans", sans-serif' font-size="12.2" text-anchor="end" fill="#1a1a1a" textLength="17.9" lengthAdjust="spacingAndGlyphs">1.5</text>
<path d="M60.5 300.5H62.3" stroke="#666666" stroke-width="1.04"/>
<text x="59.0" y="305.3" font-family='"Liberation Sans", sans-serif' font-size="12.2" text-anchor="end" fill="#1a1a1a" textLength="17.9" lengthAdjust="spacingAndGlyphs">2.0</text>
<path d="M73.10 473.9V475.5" stroke="#666666" stroke-width="1.04"/>
<text x="73.10" y="486.1" font-family='"Liberation Sans", sans-serif' font-size="12.2" text-anchor="middle" fill="#1a1a1a" textLength="14.6" lengthAdjust="spacingAndGlyphs">50</text>
<path d="M150.90 473.9V475.5" stroke="#666666" stroke-width="1.04"/>
<text x="150.90" y="486.1" font-family='"Liberation Sans", sans-serif' font-size="12.2" text-anchor="middle" fill="#1a1a1a" textLength="21.9" lengthAdjust="spacingAndGlyphs">100</text>
<path d="M228.70 473.9V475.5" stroke="#666666" stroke-width="1.04"/>
<text x="228.70" y="486.1" font-family='"Liberation Sans", sans-serif' font-size="12.2" text-anchor="middle" fill="#1a1a1a" textLength="21.9" lengthAdjust="spacingAndGlyphs">150</text>
<path d="M306.45 473.9V475.5" stroke="#666666" stroke-width="1.04"/>
<text x="306.45" y="486.1" font-family='"Liberation Sans", sans-serif' font-size="12.2" text-anchor="middle" fill="#1a1a1a" textLength="21.9" lengthAdjust="spacingAndGlyphs">200</text>
<text x="138.0" y="500.5" font-family='"Liberation Sans", sans-serif' font-size="12.2" fill="#1a1a1a" textLength="107.9" lengthAdjust="spacingAndGlyphs">Girder weight (Nm</text>
<text x="246.2" y="496.0" font-family='"Liberation Sans", sans-serif' font-size="8.6" fill="#1a1a1a" textLength="11.8" lengthAdjust="spacingAndGlyphs">−1</text>
<text x="257.9" y="500.5" font-family='"Liberation Sans", sans-serif' font-size="12.2" fill="#1a1a1a">)</text>
<g transform="translate(36.7 408.1) rotate(-90)"><text x="-1.0" y="0" font-family='"Liberation Sans", sans-serif' font-size="12.2" fill="#1a1a1a" textLength="58.6" lengthAdjust="spacingAndGlyphs">RMSA (ms</text><text x="57.9" y="-4.5" font-family='"Liberation Sans", sans-serif' font-size="8.6" fill="#1a1a1a" textLength="11.8" lengthAdjust="spacingAndGlyphs">−2</text><text x="69.7" y="0" font-family='"Liberation Sans", sans-serif' font-size="12.2" fill="#1a1a1a">)</text></g>
<text x="182.8" y="527.1" font-family='"Liberation Serif", serif' font-size="16.0" text-anchor="middle" fill="#1a1a1a">(c)</text>
<g id="pts-d">
<use href="#mr" x="406.2" y="443.4"/>
<use href="#mr" x="430.4" y="438.8"/>
<use href="#mr" x="432.2" y="445.4"/>
<use href="#mr" x="443.6" y="436.0"/>
<use href="#mr" x="447.0" y="445.6"/>
<use href="#mr" x="449.0" y="444.0"/>
<use href="#mr" x="452.6" y="446.2"/>
<use href="#mr" x="458.6" y="438.6"/>
<use href="#mr" x="461.4" y="436.6"/>
<use href="#mr" x="467.0" y="440.4"/>
<use href="#mr" x="473.0" y="432.6"/>
<use href="#mr" x="472.0" y="439.0"/>
<use href="#mr" x="473.6" y="438.4"/>
<use href="#mr" x="472.0" y="445.0"/>
<use href="#mr" x="470.6" y="446.0"/>
<use href="#mr" x="481.0" y="433.4"/>
<use href="#mr" x="480.0" y="443.6"/>
<use href="#mr" x="483.0" y="444.6"/>
<use href="#mr" x="488.0" y="441.4"/>
<use href="#mr" x="493.0" y="438.6"/>
<use href="#mr" x="494.0" y="441.0"/>
<use href="#mr" x="495.6" y="431.6"/>
<use href="#mr" x="498.0" y="436.0"/>
<use href="#mr" x="496.0" y="443.0"/>
<use href="#mr" x="494.0" y="444.4"/>
<use href="#mr" x="500.0" y="444.0"/>
<use href="#mr" x="503.0" y="440.4"/>
<use href="#mr" x="505.0" y="438.0"/>
<use href="#mr" x="504.0" y="444.4"/>
<use href="#mr" x="511.0" y="440.0"/>
<use href="#mr" x="513.0" y="439.0"/>
<use href="#mr" x="514.6" y="433.0"/>
<use href="#mr" x="514.6" y="444.0"/>
<use href="#mr" x="601.2" y="439.1"/>
<use href="#mr" x="598.1" y="437.0"/>
<use href="#mr" x="594.3" y="443.3"/>
<use href="#mr" x="588.5" y="446.4"/>
<use href="#mr" x="578.3" y="443.1"/>
<use href="#mr" x="575.5" y="442.0"/>
<use href="#mr" x="573.5" y="439.1"/>
<use href="#mr" x="570.3" y="444.1"/>
<use href="#mr" x="568.7" y="442.0"/>
<use href="#mr" x="565.1" y="441.0"/>
<use href="#mr" x="564.1" y="443.5"/>
<use href="#mr" x="561.3" y="439.9"/>
<use href="#mr" x="557.8" y="442.4"/>
<use href="#mr" x="555.7" y="442.0"/>
<use href="#mr" x="550.5" y="441.0"/>
<use href="#mr" x="549.4" y="437.2"/>
<use href="#mr" x="548.4" y="431.2"/>
<use href="#mr" x="548.4" y="443.1"/>
<use href="#mr" x="544.6" y="438.9"/>
<use href="#mr" x="541.5" y="442.0"/>
<use href="#mr" x="540.1" y="444.1"/>
<use href="#mr" x="534.8" y="442.7"/>
<use href="#mr" x="531.7" y="438.9"/>
<use href="#mr" x="529.6" y="441.0"/>
<use href="#mr" x="522.3" y="437.2"/>
<use href="#mr" x="521.3" y="442.0"/>
<use href="#mr" x="523.4" y="445.2"/>
<use href="#mr" x="517.1" y="444.1"/>
<use href="#mr" x="516.0" y="437.8"/>
<use href="#mr" x="515.0" y="432.6"/>
<use href="#mr" x="489.9" y="437.5"/>
<use href="#mr" x="518.7" y="442.9"/>
<use href="#mr" x="489.0" y="440.6"/>
<use href="#mr" x="507.0" y="440.4"/>
<use href="#mr" x="533.9" y="438.6"/>
<use href="#mr" x="513.4" y="443.2"/>
<use href="#mr" x="523.0" y="441.6"/>
<use href="#mr" x="526.9" y="443.2"/>
<use href="#mr" x="515.7" y="443.5"/>
<use href="#mr" x="506.1" y="440.6"/>
<use href="#mr" x="553.8" y="443.3"/>
<use href="#mr" x="538.2" y="439.9"/>
<use href="#mr" x="525.2" y="438.7"/>
<use href="#mr" x="507.0" y="439.1"/>
<use href="#mr" x="530.4" y="439.9"/>
<use href="#mr" x="538.6" y="433.8"/>
<use href="#mr" x="493.2" y="440.9"/>
<use href="#mr" x="531.9" y="444.9"/>
<use href="#mr" x="555.1" y="439.5"/>
<use href="#mr" x="500.4" y="445.8"/>
<use href="#mr" x="510.8" y="432.2"/>
<use href="#mr" x="472.3" y="438.7"/>
<use href="#mr" x="519.3" y="443.6"/>
<use href="#mr" x="538.8" y="440.9"/>
<use href="#mr" x="530.1" y="440.2"/>
<use href="#mr" x="492.4" y="436.2"/>
<use href="#mr" x="509.6" y="436.9"/>
<use href="#mr" x="541.2" y="441.1"/>
<use href="#mr" x="526.0" y="441.4"/>
<use href="#mr" x="471.7" y="442.5"/>
<use href="#mr" x="534.0" y="447.4"/>
<use href="#mr" x="481.3" y="437.1"/>
<use href="#mr" x="544.4" y="447.1"/>
<use href="#mr" x="534.9" y="441.4"/>
<use href="#mr" x="549.0" y="442.5"/>
<use href="#mr" x="516.1" y="444.1"/>
<use href="#mr" x="527.1" y="441.7"/>
<use href="#mg" x="412.0" y="452.8"/>
<use href="#mg" x="422.6" y="453.6"/>
<use href="#mg" x="438.2" y="455.6"/>
<use href="#mg" x="442.0" y="449.4"/>
<use href="#mg" x="448.0" y="452.6"/>
<use href="#mg" x="454.4" y="450.6"/>
<use href="#mg" x="452.4" y="454.0"/>
<use href="#mg" x="472.0" y="452.0"/>
<use href="#mg" x="475.6" y="441.6"/>
<use href="#mg" x="477.0" y="453.0"/>
<use href="#mg" x="479.0" y="451.0"/>
<use href="#mg" x="482.0" y="449.4"/>
<use href="#mg" x="483.6" y="448.6"/>
<use href="#mg" x="486.0" y="450.6"/>
<use href="#mg" x="488.0" y="452.0"/>
<use href="#mg" x="491.0" y="451.6"/>
<use href="#mg" x="495.0" y="456.0"/>
<use href="#mg" x="498.0" y="455.0"/>
<use href="#mg" x="499.0" y="447.0"/>
<use href="#mg" x="501.0" y="451.0"/>
<use href="#mg" x="508.0" y="450.0"/>
<use href="#mg" x="510.0" y="452.0"/>
<use href="#mg" x="513.0" y="451.0"/>
<use href="#mg" x="514.6" y="450.0"/>
<use href="#mg" x="625.6" y="450.6"/>
<use href="#mg" x="601.8" y="450.2"/>
<use href="#mg" x="589.1" y="454.6"/>
<use href="#mg" x="586.6" y="454.6"/>
<use href="#mg" x="581.4" y="448.5"/>
<use href="#mg" x="575.5" y="450.0"/>
<use href="#mg" x="572.4" y="451.4"/>
<use href="#mg" x="570.3" y="452.0"/>
<use href="#mg" x="566.1" y="452.9"/>
<use href="#mg" x="563.0" y="453.5"/>
<use href="#mg" x="559.9" y="454.1"/>
<use href="#mg" x="556.8" y="454.6"/>
<use href="#mg" x="552.6" y="449.3"/>
<use href="#mg" x="550.5" y="450.4"/>
<use href="#mg" x="548.4" y="452.5"/>
<use href="#mg" x="545.3" y="450.4"/>
<use href="#mg" x="542.1" y="452.5"/>
<use href="#mg" x="538.0" y="450.4"/>
<use href="#mg" x="535.9" y="453.5"/>
<use href="#mg" x="533.8" y="451.4"/>
<use href="#mg" x="529.6" y="450.4"/>
<use href="#mg" x="525.4" y="452.5"/>
<use href="#mg" x="524.4" y="454.6"/>
<use href="#mg" x="520.2" y="450.4"/>
<use href="#mg" x="519.2" y="447.2"/>
<use href="#mg" x="517.1" y="451.4"/>
<use href="#mg" x="504.2" y="452.5"/>
<use href="#mg" x="501.5" y="450.0"/>
<use href="#mg" x="493.8" y="455.5"/>
<use href="#mg" x="495.7" y="448.8"/>
<use href="#mg" x="508.2" y="449.9"/>
<use href="#mg" x="542.4" y="452.9"/>
<use href="#mg" x="543.0" y="450.3"/>
<use href="#mg" x="521.0" y="453.4"/>
<use href="#mg" x="520.5" y="454.8"/>
<use href="#mg" x="514.6" y="453.1"/>
<use href="#mg" x="534.2" y="450.7"/>
<use href="#mg" x="504.5" y="449.4"/>
<use href="#mg" x="555.0" y="451.4"/>
<use href="#mg" x="501.7" y="450.3"/>
<use href="#mg" x="506.0" y="450.1"/>
<use href="#mg" x="501.8" y="447.7"/>
<use href="#mg" x="574.2" y="448.8"/>
<use href="#mg" x="527.4" y="449.0"/>
<use href="#mg" x="517.2" y="453.2"/>
<use href="#mg" x="515.8" y="447.8"/>
<use href="#mg" x="545.4" y="452.3"/>
<use href="#mg" x="532.7" y="449.4"/>
<use href="#mg" x="537.8" y="451.7"/>
<use href="#mg" x="503.9" y="453.5"/>
<use href="#mg" x="510.0" y="453.0"/>
<use href="#mg" x="478.4" y="455.2"/>
<use href="#mg" x="546.4" y="454.4"/>
<use href="#mg" x="485.8" y="451.7"/>
<use href="#mg" x="562.2" y="448.4"/>
<use href="#mg" x="510.6" y="454.2"/>
<use href="#mg" x="507.2" y="453.9"/>
<use href="#mg" x="506.8" y="450.4"/>
<use href="#mg" x="492.5" y="453.6"/>
<use href="#mg" x="514.9" y="451.7"/>
<use href="#mg" x="500.8" y="453.6"/>
<use href="#mg" x="490.7" y="453.5"/>
<use href="#mg" x="536.6" y="452.2"/>
<use href="#mg" x="539.2" y="451.8"/>
<use href="#mg" x="497.8" y="452.2"/>
<use href="#mg" x="476.0" y="448.6"/>
<use href="#mg" x="501.6" y="451.5"/>
<use href="#mg" x="543.8" y="454.7"/>
<use href="#mg" x="570.7" y="453.4"/>
<use href="#mg" x="531.9" y="454.5"/>
<use href="#mg" x="532.2" y="451.6"/>
<use href="#mg" x="552.2" y="454.6"/>
<use href="#mg" x="521.8" y="446.9"/>
<use href="#mg" x="488.7" y="450.7"/>
<use href="#mg" x="534.3" y="452.9"/>
<use href="#mg" x="514.6" y="448.0"/>
<use href="#mb" x="419.6" y="463.6"/>
<use href="#mb" x="440.0" y="463.6"/>
<use href="#mb" x="445.4" y="465.0"/>
<use href="#mb" x="450.4" y="466.0"/>
<use href="#mb" x="455.0" y="465.4"/>
<use href="#mb" x="456.4" y="465.4"/>
<use href="#mb" x="464.4" y="464.0"/>
<use href="#mb" x="469.0" y="465.0"/>
<use href="#mb" x="471.0" y="465.6"/>
<use href="#mb" x="475.0" y="465.6"/>
<use href="#mb" x="479.0" y="464.0"/>
<use href="#mb" x="482.0" y="465.0"/>
<use href="#mb" x="485.0" y="465.6"/>
<use href="#mb" x="488.0" y="464.6"/>
<use href="#mb" x="490.0" y="465.0"/>
<use href="#mb" x="498.0" y="463.0"/>
<use href="#mb" x="501.0" y="464.0"/>
<use href="#mb" x="506.0" y="465.0"/>
<use href="#mb" x="510.0" y="465.6"/>
<use href="#mb" x="514.6" y="465.0"/>
<use href="#mb" x="643.2" y="465.2"/>
<use href="#mb" x="620.4" y="464.4"/>
<use href="#mb" x="611.5" y="463.9"/>
<use href="#mb" x="605.8" y="465.0"/>
<use href="#mb" x="603.7" y="465.6"/>
<use href="#mb" x="596.8" y="463.3"/>
<use href="#mb" x="591.2" y="464.4"/>
<use href="#mb" x="584.9" y="465.0"/>
<use href="#mb" x="582.8" y="465.6"/>
<use href="#mb" x="578.7" y="464.4"/>
<use href="#mb" x="570.3" y="462.9"/>
<use href="#mb" x="568.2" y="465.0"/>
<use href="#mb" x="566.1" y="466.5"/>
<use href="#mb" x="559.9" y="465.0"/>
<use href="#mb" x="558.8" y="463.9"/>
<use href="#mb" x="553.6" y="462.9"/>
<use href="#mb" x="547.4" y="465.0"/>
<use href="#mb" x="540.1" y="465.0"/>
<use href="#mb" x="535.9" y="465.6"/>
<use href="#mb" x="531.7" y="465.0"/>
<use href="#mb" x="527.5" y="466.0"/>
<use href="#mb" x="523.4" y="465.6"/>
<use href="#mb" x="518.1" y="465.0"/>
<use href="#mb" x="553.9" y="462.4"/>
<use href="#mb" x="529.5" y="464.4"/>
<use href="#mb" x="524.6" y="460.9"/>
<use href="#mb" x="551.5" y="464.7"/>
<use href="#mb" x="503.5" y="462.8"/>
<use href="#mb" x="506.6" y="463.4"/>
<use href="#mb" x="531.6" y="462.0"/>
<use href="#mb" x="527.9" y="461.5"/>
<use href="#mb" x="482.2" y="462.5"/>
<use href="#mb" x="533.9" y="464.8"/>
<use href="#mb" x="557.1" y="465.0"/>
<use href="#mb" x="481.5" y="459.8"/>
<use href="#mb" x="558.3" y="462.6"/>
<use href="#mb" x="560.0" y="461.7"/>
<use href="#mb" x="490.4" y="462.5"/>
<use href="#mb" x="561.3" y="463.2"/>
<use href="#mb" x="524.1" y="463.6"/>
<use href="#mb" x="542.6" y="463.7"/>
<use href="#mb" x="505.5" y="464.5"/>
<use href="#mb" x="496.0" y="462.8"/>
<use href="#mb" x="535.3" y="463.5"/>
<use href="#mb" x="492.6" y="462.6"/>
<use href="#mb" x="532.1" y="461.5"/>
<use href="#mb" x="508.1" y="463.5"/>
<use href="#mb" x="536.4" y="461.2"/>
<use href="#mb" x="520.6" y="463.1"/>
<use href="#mb" x="495.6" y="463.5"/>
<use href="#mb" x="548.7" y="462.0"/>
<use href="#mb" x="553.4" y="465.0"/>
<use href="#mb" x="545.6" y="464.2"/>
<use href="#mb" x="538.7" y="463.2"/>
<use href="#mb" x="497.1" y="461.5"/>
<use href="#mb" x="525.5" y="461.5"/>
<use href="#mb" x="509.6" y="460.7"/>
<use href="#mb" x="509.5" y="460.7"/>
<use href="#mb" x="508.3" y="464.2"/>
<use href="#mb" x="547.4" y="463.5"/>
<use href="#mb" x="520.4" y="464.7"/>
<use href="#mb" x="512.3" y="462.9"/>
<use href="#mb" x="502.1" y="462.6"/>
<use href="#mb" x="547.3" y="463.5"/>
<use href="#mb" x="563.6" y="463.5"/>
<use href="#mb" x="503.5" y="463.6"/>
<use href="#mb" x="529.9" y="462.3"/>
<use href="#mb" x="509.0" y="464.0"/>
<use href="#mb" x="534.2" y="462.0"/>
<use href="#mb" x="472.7" y="464.3"/>
<use href="#mb" x="503.0" y="461.0"/>
<use href="#mb" x="556.9" y="462.1"/>
<use href="#mb" x="536.0" y="464.4"/>
<use href="#mb" x="553.8" y="463.6"/>
<use href="#mb" x="499.5" y="460.7"/>
<use href="#mb" x="481.0" y="461.4"/>
<use href="#mb" x="527.8" y="464.2"/>
<use href="#mb" x="527.1" y="464.1"/>
<use href="#mb" x="527.3" y="463.8"/>
<use href="#mb" x="488.4" y="459.8"/>
<use href="#mp" x="391.2" y="459.6"/>
<use href="#mp" x="427.6" y="463.2"/>
<use href="#mp" x="434.6" y="462.4"/>
<use href="#mp" x="441.0" y="462.4"/>
<use href="#mp" x="449.6" y="461.0"/>
<use href="#mp" x="452.6" y="460.4"/>
<use href="#mp" x="456.0" y="462.0"/>
<use href="#mp" x="457.0" y="463.2"/>
<use href="#mp" x="460.0" y="459.4"/>
<use href="#mp" x="463.0" y="461.0"/>
<use href="#mp" x="465.4" y="457.4"/>
<use href="#mp" x="469.0" y="462.4"/>
<use href="#mp" x="472.0" y="462.4"/>
<use href="#mp" x="475.4" y="459.0"/>
<use href="#mp" x="478.0" y="462.0"/>
<use href="#mp" x="482.0" y="461.0"/>
<use href="#mp" x="484.0" y="459.0"/>
<use href="#mp" x="487.0" y="462.4"/>
<use href="#mp" x="490.0" y="461.0"/>
<use href="#mp" x="492.0" y="459.0"/>
<use href="#mp" x="496.0" y="461.6"/>
<use href="#mp" x="498.0" y="454.0"/>
<use href="#mp" x="501.0" y="457.4"/>
<use href="#mp" x="503.0" y="460.0"/>
<use href="#mp" x="506.0" y="461.0"/>
<use href="#mp" x="509.0" y="462.0"/>
<use href="#mp" x="512.0" y="461.0"/>
<use href="#mp" x="514.6" y="460.0"/>
<use href="#mp" x="605.4" y="463.5"/>
<use href="#mp" x="593.9" y="462.9"/>
<use href="#mp" x="588.5" y="458.1"/>
<use href="#mp" x="583.9" y="461.2"/>
<use href="#mp" x="582.4" y="456.0"/>
<use href="#mp" x="576.2" y="461.2"/>
<use href="#mp" x="571.4" y="457.7"/>
<use href="#mp" x="566.1" y="461.2"/>
<use href="#mp" x="563.0" y="460.2"/>
<use href="#mp" x="555.7" y="459.8"/>
<use href="#mp" x="553.6" y="463.3"/>
<use href="#mp" x="549.4" y="458.7"/>
<use href="#mp" x="546.3" y="461.9"/>
<use href="#mp" x="544.2" y="459.8"/>
<use href="#mp" x="542.1" y="457.7"/>
<use href="#mp" x="539.0" y="461.2"/>
<use href="#mp" x="534.8" y="460.2"/>
<use href="#mp" x="531.7" y="461.2"/>
<use href="#mp" x="525.4" y="458.7"/>
<use href="#mp" x="524.4" y="461.9"/>
<use href="#mp" x="520.2" y="460.2"/>
<use href="#mp" x="517.1" y="461.2"/>
<use href="#mp" x="507.8" y="458.2"/>
<use href="#mp" x="520.7" y="458.8"/>
<use href="#mp" x="486.3" y="461.8"/>
<use href="#mp" x="550.5" y="459.2"/>
<use href="#mp" x="488.7" y="458.5"/>
<use href="#mp" x="538.9" y="459.5"/>
<use href="#mp" x="548.0" y="458.9"/>
<use href="#mp" x="543.9" y="460.0"/>
<use href="#mp" x="510.3" y="458.7"/>
<use href="#mp" x="557.1" y="462.0"/>
<use href="#mp" x="489.8" y="460.0"/>
<use href="#mp" x="573.1" y="460.3"/>
<use href="#mp" x="473.9" y="458.5"/>
<use href="#mp" x="543.5" y="456.5"/>
<use href="#mp" x="527.5" y="456.5"/>
<use href="#mp" x="501.7" y="458.4"/>
<use href="#mp" x="525.9" y="462.0"/>
<use href="#mp" x="514.3" y="457.6"/>
<use href="#mp" x="553.8" y="460.6"/>
<use href="#mp" x="553.6" y="458.4"/>
<use href="#mp" x="547.6" y="459.4"/>
<use href="#mp" x="530.8" y="461.4"/>
<use href="#mp" x="520.2" y="459.7"/>
<use href="#mp" x="501.2" y="460.4"/>
<use href="#mp" x="526.8" y="459.6"/>
<use href="#mp" x="552.1" y="461.7"/>
<use href="#mp" x="510.9" y="459.5"/>
<use href="#mp" x="511.4" y="459.4"/>
<use href="#mp" x="508.9" y="457.9"/>
<use href="#mp" x="515.7" y="461.9"/>
<use href="#mp" x="543.4" y="457.0"/>
<use href="#mp" x="518.5" y="459.8"/>
<use href="#mp" x="551.4" y="457.3"/>
<use href="#mp" x="517.7" y="462.6"/>
<use href="#mp" x="541.1" y="458.2"/>
<use href="#mp" x="535.3" y="459.8"/>
<use href="#mp" x="499.1" y="455.7"/>
<use href="#mp" x="488.2" y="462.6"/>
<use href="#mp" x="549.8" y="459.4"/>
<use href="#mp" x="541.2" y="459.3"/>
<use href="#mp" x="569.9" y="457.5"/>
<use href="#mp" x="506.6" y="458.2"/>
<use href="#mp" x="488.9" y="462.9"/>
<use href="#mp" x="556.2" y="460.7"/>
<use href="#mp" x="521.6" y="461.1"/>
<use href="#mp" x="536.5" y="460.0"/>
<use href="#mp" x="500.4" y="461.2"/>
<use href="#mp" x="543.9" y="461.5"/>
<use href="#mp" x="525.8" y="461.7"/>
<use href="#mp" x="535.0" y="456.8"/>
<use href="#mo" x="416.6" y="401.6"/>
<use href="#mo" x="425.0" y="402.8"/>
<use href="#mo" x="434.2" y="398.6"/>
<use href="#mo" x="436.0" y="404.4"/>
<use href="#mo" x="437.2" y="406.6"/>
<use href="#mo" x="460.0" y="392.0"/>
<use href="#mo" x="461.0" y="402.0"/>
<use href="#mo" x="462.4" y="403.0"/>
<use href="#mo" x="459.0" y="406.6"/>
<use href="#mo" x="471.4" y="407.4"/>
<use href="#mo" x="473.4" y="402.0"/>
<use href="#mo" x="474.6" y="393.0"/>
<use href="#mo" x="478.0" y="392.4"/>
<use href="#mo" x="476.0" y="410.6"/>
<use href="#mo" x="478.0" y="409.4"/>
<use href="#mo" x="479.0" y="407.0"/>
<use href="#mo" x="482.0" y="404.0"/>
<use href="#mo" x="483.4" y="398.0"/>
<use href="#mo" x="486.0" y="399.0"/>
<use href="#mo" x="487.6" y="396.0"/>
<use href="#mo" x="486.6" y="386.4"/>
<use href="#mo" x="492.6" y="394.4"/>
<use href="#mo" x="493.6" y="398.0"/>
<use href="#mo" x="498.0" y="395.4"/>
<use href="#mo" x="500.6" y="398.0"/>
<use href="#mo" x="483.0" y="406.0"/>
<use href="#mo" x="486.0" y="409.0"/>
<use href="#mo" x="488.4" y="406.0"/>
<use href="#mo" x="491.0" y="411.0"/>
<use href="#mo" x="493.0" y="405.6"/>
<use href="#mo" x="495.0" y="408.0"/>
<use href="#mo" x="500.0" y="405.0"/>
<use href="#mo" x="501.6" y="403.0"/>
<use href="#mo" x="503.0" y="401.0"/>
<use href="#mo" x="500.4" y="409.0"/>
<use href="#mo" x="503.0" y="406.0"/>
<use href="#mo" x="506.0" y="407.4"/>
<use href="#mo" x="509.0" y="406.0"/>
<use href="#mo" x="508.0" y="409.0"/>
<use href="#mo" x="511.6" y="401.4"/>
<use href="#mo" x="513.0" y="406.0"/>
<use href="#mo" x="514.6" y="403.0"/>
<use href="#mo" x="507.0" y="415.4"/>
<use href="#mo" x="504.4" y="417.4"/>
<use href="#mo" x="636.5" y="404.4"/>
<use href="#mo" x="617.9" y="410.5"/>
<use href="#mo" x="613.7" y="388.2"/>
<use href="#mo" x="607.5" y="399.2"/>
<use href="#mo" x="595.6" y="392.3"/>
<use href="#mo" x="599.1" y="407.8"/>
<use href="#mo" x="592.2" y="402.8"/>
<use href="#mo" x="590.2" y="406.5"/>
<use href="#mo" x="583.3" y="409.2"/>
<use href="#mo" x="581.0" y="398.8"/>
<use href="#mo" x="579.1" y="403.4"/>
<use href="#mo" x="572.8" y="402.4"/>
<use href="#mo" x="573.5" y="404.9"/>
<use href="#mo" x="567.8" y="404.9"/>
<use href="#mo" x="562.0" y="403.4"/>
<use href="#mo" x="560.9" y="406.5"/>
<use href="#mo" x="562.0" y="388.4"/>
<use href="#mo" x="558.8" y="388.8"/>
<use href="#mo" x="555.7" y="391.5"/>
<use href="#mo" x="560.5" y="395.1"/>
<use href="#mo" x="553.6" y="397.6"/>
<use href="#mo" x="552.2" y="399.2"/>
<use href="#mo" x="552.6" y="402.4"/>
<use href="#mo" x="554.7" y="405.9"/>
<use href="#mo" x="556.3" y="414.1"/>
<use href="#mo" x="546.3" y="401.3"/>
<use href="#mo" x="545.9" y="395.1"/>
<use href="#mo" x="540.1" y="398.6"/>
<use href="#mo" x="539.6" y="384.6"/>
<use href="#mo" x="536.9" y="389.4"/>
<use href="#mo" x="540.5" y="411.1"/>
<use href="#mo" x="536.3" y="407.0"/>
<use href="#mo" x="531.3" y="397.6"/>
<use href="#mo" x="526.9" y="397.1"/>
<use href="#mo" x="521.3" y="391.9"/>
<use href="#mo" x="521.3" y="394.0"/>
<use href="#mo" x="516.7" y="390.3"/>
<use href="#mo" x="525.4" y="407.0"/>
<use href="#mo" x="528.6" y="407.6"/>
<use href="#mo" x="530.7" y="407.2"/>
<use href="#mo" x="526.5" y="409.7"/>
<use href="#mo" x="520.2" y="407.6"/>
<use href="#mo" x="516.7" y="408.2"/>
<use href="#mo" x="487.9" y="399.4"/>
<use href="#mo" x="519.2" y="404.2"/>
<use href="#mo" x="495.0" y="405.6"/>
<use href="#mo" x="501.3" y="408.4"/>
<use href="#mo" x="564.2" y="399.7"/>
<use href="#mo" x="528.1" y="401.1"/>
<use href="#mo" x="511.8" y="394.0"/>
<use href="#mo" x="536.2" y="402.2"/>
<use href="#mo" x="518.9" y="401.1"/>
<use href="#mo" x="491.0" y="403.7"/>
<use href="#mo" x="505.1" y="398.9"/>
<use href="#mo" x="538.7" y="403.2"/>
<use href="#mo" x="549.3" y="408.6"/>
<use href="#mk" x="485.2" y="278.6"/>
<use href="#mk" x="488.0" y="321.6"/>
<use href="#mk" x="475.0" y="323.2"/>
<use href="#mk" x="464.6" y="326.6"/>
<use href="#mk" x="510.6" y="328.4"/>
<use href="#mk" x="482.2" y="332.4"/>
<use href="#mk" x="476.8" y="334.4"/>
<use href="#mk" x="460.0" y="339.0"/>
<use href="#mk" x="497.8" y="339.6"/>
<use href="#mk" x="471.6" y="343.0"/>
<use href="#mk" x="484.2" y="346.4"/>
<use href="#mk" x="498.8" y="345.4"/>
<use href="#mk" x="504.0" y="347.0"/>
<use href="#mk" x="528.0" y="344.8"/>
<use href="#mk" x="536.0" y="343.8"/>
<use href="#mk" x="539.0" y="344.0"/>
<use href="#mk" x="543.0" y="345.2"/>
<use href="#mk" x="544.6" y="346.0"/>
<use href="#mk" x="496.6" y="351.4"/>
<use href="#mk" x="508.0" y="352.0"/>
<use href="#mk" x="511.0" y="350.8"/>
<use href="#mk" x="520.6" y="350.0"/>
<use href="#mk" x="519.4" y="352.6"/>
<use href="#mk" x="528.0" y="352.0"/>
<use href="#mk" x="531.0" y="351.4"/>
<use href="#mk" x="533.0" y="352.0"/>
<use href="#mk" x="534.6" y="353.0"/>
<use href="#mk" x="465.8" y="356.2"/>
<use href="#mk" x="491.6" y="356.2"/>
<use href="#mk" x="496.0" y="355.6"/>
<use href="#mk" x="506.6" y="356.0"/>
<use href="#mk" x="517.0" y="356.4"/>
<use href="#mk" x="525.6" y="357.4"/>
<use href="#mk" x="527.0" y="359.0"/>
<use href="#mk" x="532.0" y="358.0"/>
<use href="#mk" x="537.0" y="358.6"/>
<use href="#mk" x="540.0" y="358.0"/>
<use href="#mk" x="547.0" y="357.0"/>
<use href="#mk" x="444.8" y="359.6"/>
<use href="#mk" x="477.0" y="357.6"/>
<use href="#mk" x="479.0" y="360.0"/>
<use href="#mk" x="455.0" y="362.2"/>
<use href="#mk" x="470.0" y="361.6"/>
<use href="#mk" x="468.6" y="364.0"/>
<use href="#mk" x="501.6" y="362.0"/>
<use href="#mk" x="503.0" y="365.0"/>
<use href="#mk" x="507.0" y="365.0"/>
<use href="#mk" x="524.0" y="361.6"/>
<use href="#mk" x="529.0" y="363.0"/>
<use href="#mk" x="534.0" y="361.0"/>
<use href="#mk" x="534.0" y="364.0"/>
<use href="#mk" x="527.0" y="365.6"/>
<use href="#mk" x="466.6" y="368.8"/>
<use href="#mk" x="480.0" y="368.8"/>
<use href="#mk" x="501.0" y="368.0"/>
<use href="#mk" x="499.0" y="370.0"/>
<use href="#mk" x="514.6" y="368.0"/>
<use href="#mk" x="520.4" y="367.6"/>
<use href="#mk" x="536.4" y="370.0"/>
<use href="#mk" x="541.6" y="371.4"/>
<use href="#mk" x="551.0" y="368.8"/>
<use href="#mk" x="490.0" y="370.6"/>
<use href="#mk" x="494.0" y="372.0"/>
<use href="#mk" x="495.0" y="374.0"/>
<use href="#mk" x="463.0" y="373.6"/>
<use href="#mk" x="468.0" y="373.0"/>
<use href="#mk" x="468.0" y="375.0"/>
<use href="#mk" x="486.6" y="374.6"/>
<use href="#mk" x="488.6" y="377.0"/>
<use href="#mk" x="426.6" y="375.0"/>
<use href="#mk" x="457.4" y="376.8"/>
<use href="#mk" x="455.6" y="382.6"/>
<use href="#mk" x="506.0" y="379.0"/>
<use href="#mk" x="527.6" y="380.6"/>
<use href="#mk" x="538.0" y="375.4"/>
<use href="#mk" x="545.0" y="378.0"/>
<use href="#mk" x="546.0" y="381.0"/>
<use href="#mk" x="519.6" y="385.6"/>
<use href="#mk" x="536.0" y="383.4"/>
<use href="#mk" x="559.0" y="346.4"/>
<use href="#mk" x="579.4" y="346.2"/>
<use href="#mk" x="586.0" y="349.0"/>
<use href="#mk" x="626.4" y="352.6"/>
<use href="#mk" x="557.0" y="354.4"/>
<use href="#mk" x="559.0" y="356.4"/>
<use href="#mk" x="560.4" y="359.0"/>
<use href="#mk" x="556.4" y="361.4"/>
<use href="#mk" x="569.0" y="358.6"/>
<use href="#mk" x="571.0" y="358.6"/>
<use href="#mk" x="566.0" y="362.4"/>
<use href="#mk" x="572.0" y="362.4"/>
<use href="#mk" x="573.0" y="364.4"/>
<use href="#mk" x="577.0" y="364.4"/>
<use href="#mk" x="575.6" y="365.6"/>
<use href="#mk" x="584.0" y="362.6"/>
<use href="#mk" x="587.6" y="366.4"/>
<use href="#mk" x="592.0" y="367.4"/>
<use href="#mk" x="610.4" y="372.4"/>
</g>
<rect x="378.55" y="269.5" width="277.00" height="206.00" fill="none" stroke="#505050" stroke-width="1.1"/>
<path d="M376.8 474.9H378.55" stroke="#505050" stroke-width="0.88"/>
<text x="375.2" y="479.7" font-family='"Liberation Sans", sans-serif' font-size="12.2" text-anchor="end" fill="#1a1a1a" textLength="17.9" lengthAdjust="spacingAndGlyphs">0.0</text>
<path d="M376.8 431.8H378.55" stroke="#505050" stroke-width="0.88"/>
<text x="375.2" y="436.6" font-family='"Liberation Sans", sans-serif' font-size="12.2" text-anchor="end" fill="#1a1a1a" textLength="17.9" lengthAdjust="spacingAndGlyphs">0.5</text>
<path d="M376.8 388.6H378.55" stroke="#505050" stroke-width="0.88"/>
<text x="375.2" y="393.4" font-family='"Liberation Sans", sans-serif' font-size="12.2" text-anchor="end" fill="#1a1a1a" textLength="17.9" lengthAdjust="spacingAndGlyphs">1.0</text>
<path d="M376.8 345.5H378.55" stroke="#505050" stroke-width="0.88"/>
<text x="375.2" y="350.3" font-family='"Liberation Sans", sans-serif' font-size="12.2" text-anchor="end" fill="#1a1a1a" textLength="17.9" lengthAdjust="spacingAndGlyphs">1.5</text>
<path d="M376.8 302.4H378.55" stroke="#505050" stroke-width="0.88"/>
<text x="375.2" y="307.2" font-family='"Liberation Sans", sans-serif' font-size="12.2" text-anchor="end" fill="#1a1a1a" textLength="17.9" lengthAdjust="spacingAndGlyphs">2.0</text>
<path d="M411.45 475.5V477.1" stroke="#505050" stroke-width="0.88"/>
<text x="411.45" y="487.7" font-family='"Liberation Sans", sans-serif' font-size="12.2" text-anchor="middle" fill="#1a1a1a" textLength="21.9" lengthAdjust="spacingAndGlyphs">200</text>
<path d="M461.85 475.5V477.1" stroke="#505050" stroke-width="0.88"/>
<text x="461.85" y="487.7" font-family='"Liberation Sans", sans-serif' font-size="12.2" text-anchor="middle" fill="#1a1a1a" textLength="21.9" lengthAdjust="spacingAndGlyphs">300</text>
<path d="M512.25 475.5V477.1" stroke="#505050" stroke-width="0.88"/>
<text x="512.25" y="487.7" font-family='"Liberation Sans", sans-serif' font-size="12.2" text-anchor="middle" fill="#1a1a1a" textLength="21.9" lengthAdjust="spacingAndGlyphs">400</text>
<path d="M562.60 475.5V477.1" stroke="#505050" stroke-width="0.88"/>
<text x="562.60" y="487.7" font-family='"Liberation Sans", sans-serif' font-size="12.2" text-anchor="middle" fill="#1a1a1a" textLength="21.9" lengthAdjust="spacingAndGlyphs">500</text>
<path d="M613.00 475.5V477.1" stroke="#505050" stroke-width="0.88"/>
<text x="613.00" y="487.7" font-family='"Liberation Sans", sans-serif' font-size="12.2" text-anchor="middle" fill="#1a1a1a" textLength="21.9" lengthAdjust="spacingAndGlyphs">600</text>
<text x="457.8" y="500.9" font-family='"Liberation Sans", sans-serif' font-size="12.2" fill="#1a1a1a" textLength="118.1" lengthAdjust="spacingAndGlyphs">Yield strength (MPa)</text>
<g transform="translate(352.9 410.0) rotate(-90)"><text x="-1.0" y="0" font-family='"Liberation Sans", sans-serif' font-size="12.2" fill="#1a1a1a" textLength="58.6" lengthAdjust="spacingAndGlyphs">RMSA (ms</text><text x="57.9" y="-4.5" font-family='"Liberation Sans", sans-serif' font-size="8.6" fill="#1a1a1a" textLength="11.8" lengthAdjust="spacingAndGlyphs">−2</text><text x="69.7" y="0" font-family='"Liberation Sans", sans-serif' font-size="12.2" fill="#1a1a1a">)</text></g>
<text x="498.8" y="527.9" font-family='"Liberation Serif", serif' font-size="16.0" text-anchor="middle" fill="#1a1a1a">(d)</text>
<g id="pts-e">
<use href="#mr" x="117.6" y="703.6"/>
<use href="#mr" x="120.0" y="704.4"/>
<use href="#mr" x="123.0" y="705.0"/>
<use href="#mr" x="125.6" y="704.0"/>
<use href="#mr" x="127.0" y="702.6"/>
<use href="#mr" x="131.6" y="706.0"/>
<use href="#mr" x="135.6" y="698.0"/>
<use href="#mr" x="135.2" y="699.4"/>
<use href="#mr" x="137.0" y="704.6"/>
<use href="#mr" x="141.0" y="707.4"/>
<use href="#mr" x="144.4" y="705.0"/>
<use href="#mr" x="146.0" y="706.0"/>
<use href="#mr" x="149.4" y="708.0"/>
<use href="#mr" x="152.6" y="704.4"/>
<use href="#mr" x="161.4" y="698.0"/>
<use href="#mr" x="163.6" y="698.6"/>
<use href="#mr" x="162.6" y="705.4"/>
<use href="#mr" x="164.0" y="707.0"/>
<use href="#mr" x="161.4" y="709.0"/>
<use href="#mr" x="162.0" y="711.0"/>
<use href="#mr" x="168.6" y="708.6"/>
<use href="#mr" x="173.4" y="699.4"/>
<use href="#mr" x="172.0" y="708.0"/>
<use href="#mr" x="175.0" y="706.0"/>
<use href="#mr" x="177.0" y="709.0"/>
<use href="#mr" x="179.0" y="707.0"/>
<use href="#mr" x="181.0" y="702.0"/>
<use href="#mr" x="182.0" y="703.6"/>
<use href="#mr" x="183.0" y="709.0"/>
<use href="#mr" x="185.0" y="707.0"/>
<use href="#mr" x="187.0" y="705.0"/>
<use href="#mr" x="188.0" y="709.0"/>
<use href="#mr" x="190.0" y="711.0"/>
<use href="#mr" x="193.0" y="703.0"/>
<use href="#mr" x="194.0" y="708.0"/>
<use href="#mr" x="196.0" y="710.0"/>
<use href="#mr" x="198.0" y="705.0"/>
<use href="#mr" x="173.0" y="711.0"/>
<use href="#mr" x="178.0" y="711.0"/>
<use href="#mr" x="288.1" y="712.4"/>
<use href="#mr" x="270.6" y="711.2"/>
<use href="#mr" x="265.4" y="707.8"/>
<use href="#mr" x="257.2" y="714.3"/>
<use href="#mr" x="249.1" y="708.3"/>
<use href="#mr" x="249.7" y="712.0"/>
<use href="#mr" x="242.2" y="709.9"/>
<use href="#mr" x="240.8" y="713.1"/>
<use href="#mr" x="236.6" y="706.4"/>
<use href="#mr" x="234.5" y="704.3"/>
<use href="#mr" x="235.5" y="711.6"/>
<use href="#mr" x="228.2" y="704.7"/>
<use href="#mr" x="228.9" y="707.8"/>
<use href="#mr" x="224.1" y="708.9"/>
<use href="#mr" x="222.0" y="712.0"/>
<use href="#mr" x="209.4" y="706.8"/>
<use href="#mr" x="206.3" y="708.9"/>
<use href="#mr" x="203.2" y="714.1"/>
<use href="#mr" x="200.0" y="706.8"/>
<use href="#mr" x="201.1" y="709.9"/>
<use href="#mr" x="211.5" y="711.0"/>
<use href="#mr" x="216.7" y="712.0"/>
<use href="#mr" x="183.9" y="707.1"/>
<use href="#mr" x="200.6" y="708.0"/>
<use href="#mr" x="174.0" y="709.5"/>
<use href="#mr" x="211.2" y="708.9"/>
<use href="#mr" x="207.7" y="710.9"/>
<use href="#mr" x="202.3" y="710.4"/>
<use href="#mr" x="174.6" y="705.5"/>
<use href="#mr" x="219.5" y="707.3"/>
<use href="#mr" x="201.0" y="708.8"/>
<use href="#mr" x="240.2" y="706.7"/>
<use href="#mr" x="184.9" y="709.7"/>
<use href="#mr" x="212.3" y="707.6"/>
<use href="#mr" x="177.3" y="700.7"/>
<use href="#mr" x="179.5" y="706.0"/>
<use href="#mr" x="229.1" y="714.1"/>
<use href="#mr" x="190.3" y="703.5"/>
<use href="#mr" x="240.4" y="710.6"/>
<use href="#mr" x="203.2" y="710.2"/>
<use href="#mr" x="212.9" y="711.1"/>
<use href="#mr" x="160.7" y="705.5"/>
<use href="#mr" x="166.3" y="703.1"/>
<use href="#mr" x="237.1" y="707.2"/>
<use href="#mr" x="220.0" y="705.9"/>
<use href="#mr" x="209.4" y="706.0"/>
<use href="#mr" x="214.9" y="706.5"/>
<use href="#mr" x="174.5" y="708.1"/>
<use href="#mr" x="175.0" y="704.3"/>
<use href="#mr" x="215.9" y="710.6"/>
<use href="#mr" x="175.3" y="707.9"/>
<use href="#mr" x="225.9" y="709.4"/>
<use href="#mr" x="195.6" y="709.3"/>
<use href="#mr" x="198.9" y="703.6"/>
<use href="#mr" x="183.5" y="707.8"/>
<use href="#mr" x="248.4" y="708.5"/>
<use href="#mr" x="171.2" y="703.4"/>
<use href="#mr" x="167.9" y="704.6"/>
<use href="#mr" x="175.1" y="704.1"/>
<use href="#mr" x="186.0" y="708.9"/>
<use href="#mr" x="203.6" y="707.9"/>
<use href="#mg" x="115.4" y="707.8"/>
<use href="#mg" x="125.6" y="714.6"/>
<use href="#mg" x="137.2" y="713.0"/>
<use href="#mg" x="147.0" y="716.6"/>
<use href="#mg" x="149.0" y="715.6"/>
<use href="#mg" x="151.0" y="715.0"/>
<use href="#mg" x="154.0" y="717.0"/>
<use href="#mg" x="155.0" y="718.0"/>
<use href="#mg" x="157.0" y="715.6"/>
<use href="#mg" x="160.0" y="716.0"/>
<use href="#mg" x="163.0" y="716.6"/>
<use href="#mg" x="166.0" y="717.0"/>
<use href="#mg" x="169.0" y="716.0"/>
<use href="#mg" x="171.0" y="717.6"/>
<use href="#mg" x="174.0" y="717.0"/>
<use href="#mg" x="176.0" y="715.6"/>
<use href="#mg" x="180.0" y="718.0"/>
<use href="#mg" x="182.0" y="719.0"/>
<use href="#mg" x="185.0" y="717.0"/>
<use href="#mg" x="187.0" y="720.0"/>
<use href="#mg" x="190.0" y="717.0"/>
<use href="#mg" x="193.0" y="719.0"/>
<use href="#mg" x="195.0" y="720.0"/>
<use href="#mg" x="198.0" y="717.0"/>
<use href="#mg" x="198.6" y="714.0"/>
<use href="#mg" x="282.5" y="720.0"/>
<use href="#mg" x="275.2" y="718.9"/>
<use href="#mg" x="266.8" y="721.4"/>
<use href="#mg" x="262.7" y="718.9"/>
<use href="#mg" x="256.4" y="722.5"/>
<use href="#mg" x="254.3" y="721.4"/>
<use href="#mg" x="252.2" y="717.9"/>
<use href="#mg" x="245.3" y="721.0"/>
<use href="#mg" x="240.8" y="721.8"/>
<use href="#mg" x="239.7" y="719.3"/>
<use href="#mg" x="233.4" y="719.3"/>
<use href="#mg" x="232.4" y="717.7"/>
<use href="#mg" x="228.2" y="718.3"/>
<use href="#mg" x="226.1" y="719.3"/>
<use href="#mg" x="222.0" y="716.2"/>
<use href="#mg" x="219.9" y="720.4"/>
<use href="#mg" x="216.7" y="718.3"/>
<use href="#mg" x="213.6" y="717.2"/>
<use href="#mg" x="209.4" y="718.9"/>
<use href="#mg" x="205.3" y="720.0"/>
<use href="#mg" x="201.1" y="718.9"/>
<use href="#mg" x="189.5" y="718.3"/>
<use href="#mg" x="251.1" y="718.0"/>
<use href="#mg" x="211.1" y="719.9"/>
<use href="#mg" x="187.8" y="717.7"/>
<use href="#mg" x="215.4" y="716.3"/>
<use href="#mg" x="188.0" y="717.1"/>
<use href="#mg" x="190.5" y="717.2"/>
<use href="#mg" x="183.5" y="716.5"/>
<use href="#mg" x="233.7" y="719.9"/>
<use href="#mg" x="193.3" y="717.3"/>
<use href="#mg" x="166.5" y="713.7"/>
<use href="#mg" x="165.8" y="716.7"/>
<use href="#mg" x="178.2" y="714.7"/>
<use href="#mg" x="189.0" y="718.0"/>
<use href="#mg" x="253.6" y="720.4"/>
<use href="#mg" x="181.0" y="716.9"/>
<use href="#mg" x="207.5" y="719.2"/>
<use href="#mg" x="197.2" y="718.0"/>
<use href="#mg" x="221.9" y="717.7"/>
<use href="#mg" x="224.9" y="719.1"/>
<use href="#mg" x="223.9" y="719.2"/>
<use href="#mg" x="233.7" y="718.8"/>
<use href="#mg" x="190.6" y="715.7"/>
<use href="#mg" x="161.1" y="717.4"/>
<use href="#mg" x="180.5" y="717.1"/>
<use href="#mg" x="168.8" y="718.1"/>
<use href="#mg" x="150.9" y="715.4"/>
<use href="#mg" x="181.3" y="713.9"/>
<use href="#mg" x="223.2" y="720.5"/>
<use href="#mg" x="238.1" y="719.4"/>
<use href="#mg" x="231.5" y="720.8"/>
<use href="#mg" x="233.7" y="717.8"/>
<use href="#mg" x="190.9" y="718.6"/>
<use href="#mg" x="191.9" y="717.1"/>
<use href="#mg" x="251.4" y="718.1"/>
<use href="#mg" x="196.3" y="718.1"/>
<use href="#mg" x="212.2" y="718.7"/>
<use href="#mg" x="189.5" y="717.6"/>
<use href="#mg" x="225.2" y="719.0"/>
<use href="#mg" x="208.7" y="718.6"/>
<use href="#mg" x="196.9" y="718.1"/>
<use href="#mg" x="236.5" y="719.1"/>
<use href="#mg" x="242.8" y="720.0"/>
<use href="#mg" x="231.1" y="721.1"/>
<use href="#mg" x="191.3" y="717.5"/>
<use href="#mg" x="185.0" y="717.3"/>
<use href="#mg" x="177.1" y="717.0"/>
<use href="#mg" x="184.1" y="717.1"/>
<use href="#mg" x="194.2" y="718.9"/>
<use href="#mg" x="191.1" y="717.4"/>
<use href="#mg" x="167.6" y="716.2"/>
<use href="#mg" x="236.2" y="719.8"/>
<use href="#mg" x="217.1" y="717.7"/>
<use href="#mg" x="180.5" y="715.1"/>
<use href="#mb" x="98.6" y="726.4"/>
<use href="#mb" x="129.2" y="729.4"/>
<use href="#mb" x="138.4" y="729.4"/>
<use href="#mb" x="142.0" y="729.0"/>
<use href="#mb" x="145.0" y="728.6"/>
<use href="#mb" x="148.0" y="728.0"/>
<use href="#mb" x="151.0" y="729.4"/>
<use href="#mb" x="154.0" y="730.0"/>
<use href="#mb" x="158.0" y="729.0"/>
<use href="#mb" x="164.0" y="729.0"/>
<use href="#mb" x="167.0" y="730.0"/>
<use href="#mb" x="170.0" y="729.4"/>
<use href="#mb" x="174.0" y="730.0"/>
<use href="#mb" x="178.0" y="730.4"/>
<use href="#mb" x="182.0" y="731.0"/>
<use href="#mb" x="186.0" y="731.4"/>
<use href="#mb" x="190.0" y="730.0"/>
<use href="#mb" x="194.0" y="730.6"/>
<use href="#mb" x="198.0" y="731.0"/>
<use href="#mb" x="293.2" y="730.8"/>
<use href="#mb" x="279.8" y="731.2"/>
<use href="#mb" x="273.1" y="730.4"/>
<use href="#mb" x="268.9" y="731.2"/>
<use href="#mb" x="259.5" y="730.8"/>
<use href="#mb" x="253.3" y="731.2"/>
<use href="#mb" x="247.0" y="730.8"/>
<use href="#mb" x="240.8" y="731.2"/>
<use href="#mb" x="236.6" y="730.8"/>
<use href="#mb" x="230.3" y="731.2"/>
<use href="#mb" x="225.1" y="730.8"/>
<use href="#mb" x="219.9" y="731.2"/>
<use href="#mb" x="213.6" y="730.8"/>
<use href="#mb" x="207.4" y="731.2"/>
<use href="#mb" x="202.1" y="730.8"/>
<use href="#mb" x="174.4" y="728.6"/>
<use href="#mb" x="183.0" y="729.1"/>
<use href="#mb" x="153.0" y="728.8"/>
<use href="#mb" x="206.0" y="731.1"/>
<use href="#mb" x="179.8" y="730.5"/>
<use href="#mb" x="177.8" y="729.6"/>
<use href="#mb" x="197.3" y="731.6"/>
<use href="#mb" x="193.8" y="729.9"/>
<use href="#mb" x="204.6" y="729.3"/>
<use href="#mb" x="152.3" y="729.2"/>
<use href="#mb" x="203.0" y="729.9"/>
<use href="#mb" x="165.8" y="730.4"/>
<use href="#mb" x="197.6" y="730.1"/>
<use href="#mb" x="153.0" y="729.2"/>
<use href="#mb" x="202.0" y="729.8"/>
<use href="#mb" x="215.8" y="731.0"/>
<use href="#mb" x="189.2" y="729.6"/>
<use href="#mb" x="248.1" y="731.0"/>
<use href="#mb" x="199.2" y="729.5"/>
<use href="#mb" x="177.9" y="729.9"/>
<use href="#mb" x="188.5" y="730.6"/>
<use href="#mb" x="207.5" y="729.2"/>
<use href="#mb" x="208.9" y="730.1"/>
<use href="#mb" x="201.3" y="729.6"/>
<use href="#mb" x="207.1" y="730.9"/>
<use href="#mb" x="204.9" y="729.5"/>
<use href="#mb" x="199.9" y="729.5"/>
<use href="#mb" x="200.3" y="729.1"/>
<use href="#mb" x="209.8" y="730.0"/>
<use href="#mb" x="194.3" y="729.7"/>
<use href="#mb" x="196.0" y="731.0"/>
<use href="#mb" x="210.4" y="731.1"/>
<use href="#mb" x="242.4" y="730.5"/>
<use href="#mb" x="202.7" y="729.9"/>
<use href="#mb" x="243.9" y="731.4"/>
<use href="#mb" x="220.4" y="729.1"/>
<use href="#mb" x="158.3" y="729.7"/>
<use href="#mb" x="211.5" y="730.2"/>
<use href="#mb" x="156.3" y="730.0"/>
<use href="#mb" x="242.6" y="731.3"/>
<use href="#mb" x="217.3" y="731.3"/>
<use href="#mb" x="177.4" y="730.9"/>
<use href="#mb" x="209.5" y="729.7"/>
<use href="#mb" x="204.8" y="730.5"/>
<use href="#mb" x="208.8" y="730.1"/>
<use href="#mb" x="194.3" y="729.8"/>
<use href="#mb" x="186.6" y="730.7"/>
<use href="#mb" x="254.3" y="730.6"/>
<use href="#mb" x="235.2" y="730.5"/>
<use href="#mb" x="196.1" y="729.6"/>
<use href="#mb" x="232.6" y="730.1"/>
<use href="#mb" x="172.7" y="729.2"/>
<use href="#mb" x="192.7" y="730.3"/>
<use href="#mb" x="211.8" y="730.6"/>
<use href="#mb" x="217.5" y="730.4"/>
<use href="#mb" x="197.1" y="730.0"/>
<use href="#mb" x="196.0" y="729.8"/>
<use href="#mb" x="225.7" y="730.2"/>
<use href="#mb" x="168.1" y="729.9"/>
<use href="#mb" x="204.5" y="731.0"/>
<use href="#mb" x="212.5" y="730.5"/>
<use href="#mb" x="203.8" y="730.1"/>
<use href="#mb" x="185.3" y="729.1"/>
<use href="#mb" x="230.4" y="731.1"/>
<use href="#mb" x="214.9" y="730.1"/>
<use href="#mb" x="181.5" y="730.1"/>
<use href="#mp" x="74.6" y="719.4"/>
<use href="#mp" x="110.0" y="723.6"/>
<use href="#mp" x="113.8" y="724.0"/>
<use href="#mp" x="116.0" y="724.0"/>
<use href="#mp" x="122.6" y="722.2"/>
<use href="#mp" x="134.4" y="723.8"/>
<use href="#mp" x="142.0" y="724.6"/>
<use href="#mp" x="143.4" y="725.0"/>
<use href="#mp" x="151.4" y="723.0"/>
<use href="#mp" x="152.0" y="725.0"/>
<use href="#mp" x="156.0" y="725.4"/>
<use href="#mp" x="160.0" y="725.0"/>
<use href="#mp" x="166.0" y="725.6"/>
<use href="#mp" x="170.0" y="726.0"/>
<use href="#mp" x="174.0" y="725.0"/>
<use href="#mp" x="178.0" y="726.4"/>
<use href="#mp" x="182.0" y="726.0"/>
<use href="#mp" x="186.0" y="726.6"/>
<use href="#mp" x="190.0" y="727.0"/>
<use href="#mp" x="194.0" y="726.4"/>
<use href="#mp" x="198.0" y="727.0"/>
<use href="#mp" x="326.6" y="728.9"/>
<use href="#mp" x="264.8" y="730.4"/>
<use href="#mp" x="260.0" y="728.7"/>
<use href="#mp" x="255.4" y="729.8"/>
<use href="#mp" x="251.2" y="729.8"/>
<use href="#mp" x="246.0" y="729.4"/>
<use href="#mp" x="240.8" y="728.7"/>
<use href="#mp" x="236.6" y="729.8"/>
<use href="#mp" x="232.4" y="729.1"/>
<use href="#mp" x="228.2" y="728.7"/>
<use href="#mp" x="220.5" y="725.2"/>
<use href="#mp" x="217.8" y="728.7"/>
<use href="#mp" x="213.6" y="727.7"/>
<use href="#mp" x="209.4" y="728.3"/>
<use href="#mp" x="205.3" y="727.7"/>
<use href="#mp" x="201.1" y="728.3"/>
<use href="#mp" x="221.2" y="730.0"/>
<use href="#mp" x="166.5" y="725.2"/>
<use href="#mp" x="219.1" y="728.5"/>
<use href="#mp" x="225.6" y="726.1"/>
<use href="#mp" x="207.9" y="727.3"/>
<use href="#mp" x="204.2" y="728.0"/>
<use href="#mp" x="217.2" y="727.5"/>
<use href="#mp" x="222.5" y="726.7"/>
<use href="#mp" x="203.3" y="726.9"/>
<use href="#mp" x="211.1" y="725.9"/>
<use href="#mp" x="162.7" y="725.3"/>
<use href="#mp" x="185.3" y="726.2"/>
<use href="#mp" x="224.9" y="727.9"/>
<use href="#mp" x="222.3" y="727.7"/>
<use href="#mp" x="183.0" y="726.7"/>
<use href="#mp" x="164.8" y="725.2"/>
<use href="#mp" x="191.6" y="725.8"/>
<use href="#mp" x="228.5" y="728.9"/>
<use href="#mp" x="172.8" y="725.2"/>
<use href="#mp" x="178.5" y="725.8"/>
<use href="#mp" x="218.9" y="728.0"/>
<use href="#mp" x="250.6" y="729.7"/>
<use href="#mp" x="213.9" y="727.9"/>
<use href="#mp" x="197.7" y="726.9"/>
<use href="#mp" x="218.0" y="727.8"/>
<use href="#mp" x="182.5" y="726.6"/>
<use href="#mp" x="194.1" y="726.0"/>
<use href="#mp" x="194.8" y="725.7"/>
<use href="#mp" x="225.6" y="728.6"/>
<use href="#mp" x="230.3" y="730.1"/>
<use href="#mp" x="203.1" y="727.9"/>
<use href="#mp" x="199.7" y="725.9"/>
<use href="#mp" x="202.3" y="727.2"/>
<use href="#mp" x="237.0" y="729.1"/>
<use href="#mp" x="179.8" y="725.2"/>
<use href="#mp" x="219.0" y="728.9"/>
<use href="#mp" x="206.4" y="726.5"/>
<use href="#mp" x="197.9" y="727.2"/>
<use href="#mp" x="206.0" y="727.0"/>
<use href="#mp" x="183.2" y="725.5"/>
<use href="#mp" x="159.5" y="725.3"/>
<use href="#mp" x="173.6" y="725.8"/>
<use href="#mp" x="179.8" y="727.0"/>
<use href="#mp" x="204.0" y="727.5"/>
<use href="#mp" x="252.1" y="729.9"/>
<use href="#mp" x="201.5" y="726.8"/>
<use href="#mp" x="219.7" y="727.0"/>
<use href="#mp" x="159.9" y="723.4"/>
<use href="#mp" x="194.0" y="727.3"/>
<use href="#mp" x="157.7" y="725.5"/>
<use href="#mp" x="154.2" y="724.8"/>
<use href="#mp" x="186.1" y="726.0"/>
<use href="#mp" x="180.9" y="726.0"/>
<use href="#mp" x="234.0" y="728.2"/>
<use href="#mp" x="175.6" y="724.6"/>
<use href="#mp" x="156.4" y="726.2"/>
<use href="#mp" x="237.4" y="729.0"/>
<use href="#mp" x="238.8" y="728.1"/>
<use href="#mp" x="250.6" y="728.6"/>
<use href="#mp" x="185.2" y="725.8"/>
<use href="#mp" x="240.2" y="728.5"/>
<use href="#mp" x="192.0" y="726.9"/>
<use href="#mp" x="200.6" y="727.2"/>
<use href="#mo" x="208.0" y="658.0"/>
<use href="#mo" x="211.6" y="657.4"/>
<use href="#mo" x="220.0" y="660.4"/>
<use href="#mo" x="210.6" y="663.4"/>
<use href="#mo" x="234.6" y="661.4"/>
<use href="#mo" x="239.0" y="658.0"/>
<use href="#mo" x="186.0" y="661.0"/>
<use href="#mo" x="189.0" y="664.0"/>
<use href="#mo" x="191.0" y="665.0"/>
<use href="#mo" x="194.0" y="664.4"/>
<use href="#mo" x="196.0" y="665.0"/>
<use href="#mo" x="187.0" y="667.0"/>
<use href="#mo" x="189.4" y="669.0"/>
<use href="#mo" x="193.0" y="671.0"/>
<use href="#mo" x="192.0" y="672.0"/>
<use href="#mo" x="200.0" y="665.6"/>
<use href="#mo" x="198.0" y="669.6"/>
<use href="#mo" x="203.0" y="668.6"/>
<use href="#mo" x="206.0" y="669.0"/>
<use href="#mo" x="207.0" y="671.0"/>
<use href="#mo" x="210.0" y="672.0"/>
<use href="#mo" x="209.0" y="674.0"/>
<use href="#mo" x="213.0" y="673.0"/>
<use href="#mo" x="216.0" y="669.4"/>
<use href="#mo" x="219.0" y="670.0"/>
<use href="#mo" x="221.0" y="669.0"/>
<use href="#mo" x="223.0" y="670.0"/>
<use href="#mo" x="220.0" y="672.0"/>
<use href="#mo" x="222.0" y="673.0"/>
<use href="#mo" x="225.0" y="672.0"/>
<use href="#mo" x="224.0" y="674.0"/>
<use href="#mo" x="220.6" y="675.6"/>
<use href="#mo" x="212.0" y="675.0"/>
<use href="#mo" x="210.0" y="676.6"/>
<use href="#mo" x="204.0" y="675.0"/>
<use href="#mo" x="202.0" y="674.0"/>
<use href="#mo" x="198.6" y="676.0"/>
<use href="#mo" x="203.4" y="677.0"/>
<use href="#mo" x="216.0" y="681.4"/>
<use href="#mo" x="227.0" y="680.4"/>
<use href="#mo" x="229.4" y="677.0"/>
<use href="#mo" x="232.0" y="675.0"/>
<use href="#mo" x="232.4" y="672.0"/>
<use href="#mo" x="243.0" y="670.4"/>
<use href="#mo" x="244.0" y="672.0"/>
<use href="#mo" x="269.4" y="671.2"/>
<use href="#mo" x="262.8" y="683.4"/>
<use href="#mo" x="130.2" y="650.4"/>
<use href="#mo" x="132.4" y="654.0"/>
<use href="#mo" x="133.6" y="656.0"/>
<use href="#mo" x="136.6" y="652.4"/>
<use href="#mo" x="140.4" y="653.0"/>
<use href="#mo" x="139.0" y="658.4"/>
<use href="#mo" x="143.0" y="660.0"/>
<use href="#mo" x="145.4" y="659.0"/>
<use href="#mo" x="145.0" y="656.0"/>
<use href="#mo" x="152.2" y="654.0"/>
<use href="#mo" x="159.4" y="658.6"/>
<use href="#mo" x="160.6" y="660.6"/>
<use href="#mo" x="165.0" y="661.4"/>
<use href="#mo" x="156.0" y="663.6"/>
<use href="#mo" x="157.6" y="663.0"/>
<use href="#mo" x="171.6" y="667.4"/>
<use href="#mo" x="166.4" y="674.0"/>
<use href="#mo" x="177.0" y="665.0"/>
<use href="#mo" x="179.0" y="664.0"/>
<use href="#mo" x="180.0" y="666.0"/>
<use href="#mo" x="183.0" y="659.4"/>
<use href="#mo" x="185.0" y="661.0"/>
<use href="#mo" x="184.0" y="665.0"/>
<use href="#mo" x="182.0" y="668.0"/>
<use href="#mo" x="183.0" y="670.0"/>
<use href="#mo" x="217.7" y="665.8"/>
<use href="#mo" x="214.5" y="674.2"/>
<use href="#mo" x="194.0" y="666.4"/>
<use href="#mo" x="214.2" y="672.6"/>
<use href="#mo" x="218.9" y="673.9"/>
<use href="#mo" x="204.0" y="668.4"/>
<use href="#mo" x="170.8" y="658.7"/>
<use href="#mo" x="203.6" y="667.8"/>
<use href="#mo" x="201.3" y="677.0"/>
<use href="#mo" x="164.0" y="665.8"/>
<use href="#mo" x="229.2" y="674.9"/>
<use href="#mo" x="218.8" y="675.2"/>
<use href="#mo" x="179.2" y="666.4"/>
<use href="#mo" x="231.1" y="679.9"/>
<use href="#mo" x="197.4" y="665.5"/>
<use href="#mo" x="205.9" y="668.7"/>
<use href="#mo" x="223.4" y="670.2"/>
<use href="#mo" x="174.7" y="660.9"/>
<use href="#mo" x="180.9" y="666.1"/>
<use href="#mo" x="241.7" y="663.9"/>
<use href="#mo" x="241.7" y="672.6"/>
<use href="#mo" x="181.0" y="667.9"/>
<use href="#mo" x="247.5" y="673.9"/>
<use href="#mo" x="164.4" y="655.2"/>
<use href="#mo" x="218.0" y="664.9"/>
<use href="#mo" x="213.2" y="679.2"/>
<use href="#mo" x="182.1" y="665.4"/>
<use href="#mo" x="197.6" y="660.8"/>
<use href="#mk" x="102.4" y="544.8"/>
<use href="#mk" x="107.2" y="600.6"/>
<use href="#mk" x="130.6" y="594.4"/>
<use href="#mk" x="128.4" y="598.6"/>
<use href="#mk" x="141.2" y="592.8"/>
<use href="#mk" x="145.0" y="588.0"/>
<use href="#mk" x="147.6" y="589.4"/>
<use href="#mk" x="139.6" y="612.4"/>
<use href="#mk" x="147.0" y="618.6"/>
<use href="#mk" x="150.6" y="605.0"/>
<use href="#mk" x="155.4" y="606.0"/>
<use href="#mk" x="153.6" y="609.6"/>
<use href="#mk" x="155.0" y="612.0"/>
<use href="#mk" x="159.0" y="611.6"/>
<use href="#mk" x="161.6" y="610.4"/>
<use href="#mk" x="166.4" y="612.2"/>
<use href="#mk" x="162.4" y="614.6"/>
<use href="#mk" x="163.4" y="617.4"/>
<use href="#mk" x="172.4" y="609.4"/>
<use href="#mk" x="172.4" y="618.4"/>
<use href="#mk" x="179.6" y="616.0"/>
<use href="#mk" x="194.0" y="613.0"/>
<use href="#mk" x="171.0" y="622.4"/>
<use href="#mk" x="170.0" y="625.0"/>
<use href="#mk" x="175.0" y="620.0"/>
<use href="#mk" x="176.0" y="622.6"/>
<use href="#mk" x="178.0" y="624.0"/>
<use href="#mk" x="180.0" y="619.0"/>
<use href="#mk" x="182.0" y="622.0"/>
<use href="#mk" x="184.0" y="618.0"/>
<use href="#mk" x="185.0" y="624.0"/>
<use href="#mk" x="187.0" y="619.0"/>
<use href="#mk" x="188.0" y="621.0"/>
<use href="#mk" x="190.0" y="618.0"/>
<use href="#mk" x="191.0" y="622.0"/>
<use href="#mk" x="187.0" y="626.0"/>
<use href="#mk" x="181.6" y="627.6"/>
<use href="#mk" x="176.0" y="631.0"/>
<use href="#mk" x="177.6" y="631.6"/>
<use href="#mk" x="189.0" y="627.0"/>
<use href="#mk" x="193.0" y="629.0"/>
<use href="#mk" x="195.0" y="624.0"/>
<use href="#mk" x="198.0" y="623.0"/>
<use href="#mk" x="197.0" y="628.0"/>
<use href="#mk" x="194.0" y="630.0"/>
<use href="#mk" x="198.6" y="631.0"/>
<use href="#mk" x="192.2" y="636.0"/>
<use href="#mk" x="208.6" y="612.6"/>
<use href="#mk" x="206.4" y="616.6"/>
<use href="#mk" x="203.0" y="625.6"/>
<use href="#mk" x="212.0" y="623.4"/>
<use href="#mk" x="214.0" y="628.0"/>
<use href="#mk" x="218.0" y="629.0"/>
<use href="#mk" x="219.0" y="632.0"/>
<use href="#mk" x="224.0" y="626.6"/>
<use href="#mk" x="236.0" y="630.6"/>
<use href="#mk" x="240.6" y="626.4"/>
<use href="#mk" x="205.0" y="631.0"/>
<use href="#mk" x="202.6" y="633.0"/>
<use href="#mk" x="204.6" y="634.4"/>
<use href="#mk" x="207.0" y="636.0"/>
<use href="#mk" x="210.0" y="637.6"/>
<use href="#mk" x="200.6" y="638.6"/>
<use href="#mk" x="204.6" y="641.4"/>
<use href="#mk" x="212.0" y="640.6"/>
<use href="#mk" x="213.0" y="642.6"/>
<use href="#mk" x="222.0" y="633.0"/>
<use href="#mk" x="226.0" y="633.6"/>
<use href="#mk" x="228.0" y="635.4"/>
<use href="#mk" x="231.4" y="635.6"/>
<use href="#mk" x="223.0" y="638.0"/>
<use href="#mk" x="222.0" y="639.6"/>
<use href="#mk" x="227.0" y="640.0"/>
<use href="#mk" x="230.0" y="641.4"/>
<use href="#mk" x="238.4" y="639.4"/>
<use href="#mk" x="237.6" y="643.4"/>
<use href="#mk" x="242.0" y="644.0"/>
<use href="#mk" x="236.0" y="647.6"/>
<use href="#mk" x="248.6" y="641.6"/>
<use href="#mk" x="246.0" y="648.6"/>
<use href="#mk" x="246.6" y="650.0"/>
<use href="#mk" x="255.0" y="651.8"/>
<use href="#mk" x="272.2" y="646.8"/>
<use href="#mk" x="200.0" y="630.0"/>
<use href="#mk" x="197.0" y="631.0"/>
<use href="#mk" x="216.0" y="630.0"/>
<use href="#mk" x="220.0" y="635.0"/>
<use href="#mk" x="225.0" y="637.0"/>
<use href="#mk" x="209.0" y="633.0"/>
<use href="#mk" x="232.0" y="639.0"/>
<use href="#mk" x="234.0" y="641.6"/>
<use href="#mk" x="198.0" y="627.6"/>
<use href="#mk" x="191.0" y="623.0"/>
<use href="#mk" x="195.0" y="633.0"/>
<use href="#mk" x="215.0" y="635.0"/>
<use href="#mk" x="218.0" y="638.4"/>
<use href="#mk" x="240.0" y="642.4"/>
</g>
<rect x="62.3" y="535.5" width="276.75" height="206.00" fill="none" stroke="#666666" stroke-width="1.3"/>
<path d="M60.5 740.9H62.3" stroke="#666666" stroke-width="1.04"/>
<text x="59.0" y="745.7" font-family='"Liberation Sans", sans-serif' font-size="12.2" text-anchor="end" fill="#1a1a1a" textLength="17.9" lengthAdjust="spacingAndGlyphs">0.0</text>
<path d="M60.5 697.8H62.3" stroke="#666666" stroke-width="1.04"/>
<text x="59.0" y="702.6" font-family='"Liberation Sans", sans-serif' font-size="12.2" text-anchor="end" fill="#1a1a1a" textLength="17.9" lengthAdjust="spacingAndGlyphs">0.5</text>
<path d="M60.5 654.6H62.3" stroke="#666666" stroke-width="1.04"/>
<text x="59.0" y="659.4" font-family='"Liberation Sans", sans-serif' font-size="12.2" text-anchor="end" fill="#1a1a1a" textLength="17.9" lengthAdjust="spacingAndGlyphs">1.0</text>
<path d="M60.5 611.5H62.3" stroke="#666666" stroke-width="1.04"/>
<text x="59.0" y="616.3" font-family='"Liberation Sans", sans-serif' font-size="12.2" text-anchor="end" fill="#1a1a1a" textLength="17.9" lengthAdjust="spacingAndGlyphs">1.5</text>
<path d="M60.5 568.4H62.3" stroke="#666666" stroke-width="1.04"/>
<text x="59.0" y="573.2" font-family='"Liberation Sans", sans-serif' font-size="12.2" text-anchor="end" fill="#1a1a1a" textLength="17.9" lengthAdjust="spacingAndGlyphs">2.0</text>
<path d="M64.00 741.5V743.1" stroke="#666666" stroke-width="1.04"/>
<text x="64.00" y="753.7" font-family='"Liberation Sans", sans-serif' font-size="12.2" text-anchor="middle" fill="#1a1a1a" textLength="14.6" lengthAdjust="spacingAndGlyphs">50</text>
<path d="M107.80 741.5V743.1" stroke="#666666" stroke-width="1.04"/>
<text x="107.80" y="753.7" font-family='"Liberation Sans", sans-serif' font-size="12.2" text-anchor="middle" fill="#1a1a1a" textLength="21.9" lengthAdjust="spacingAndGlyphs">100</text>
<path d="M151.60 741.5V743.1" stroke="#666666" stroke-width="1.04"/>
<text x="151.60" y="753.7" font-family='"Liberation Sans", sans-serif' font-size="12.2" text-anchor="middle" fill="#1a1a1a" textLength="21.9" lengthAdjust="spacingAndGlyphs">150</text>
<path d="M195.40 741.5V743.1" stroke="#666666" stroke-width="1.04"/>
<text x="195.40" y="753.7" font-family='"Liberation Sans", sans-serif' font-size="12.2" text-anchor="middle" fill="#1a1a1a" textLength="21.9" lengthAdjust="spacingAndGlyphs">200</text>
<path d="M239.20 741.5V743.1" stroke="#666666" stroke-width="1.04"/>
<text x="239.20" y="753.7" font-family='"Liberation Sans", sans-serif' font-size="12.2" text-anchor="middle" fill="#1a1a1a" textLength="21.9" lengthAdjust="spacingAndGlyphs">250</text>
<path d="M283.00 741.5V743.1" stroke="#666666" stroke-width="1.04"/>
<text x="283.00" y="753.7" font-family='"Liberation Sans", sans-serif' font-size="12.2" text-anchor="middle" fill="#1a1a1a" textLength="21.9" lengthAdjust="spacingAndGlyphs">300</text>
<path d="M326.80 741.5V743.1" stroke="#666666" stroke-width="1.04"/>
<text x="326.80" y="753.7" font-family='"Liberation Sans", sans-serif' font-size="12.2" text-anchor="middle" fill="#1a1a1a" textLength="21.9" lengthAdjust="spacingAndGlyphs">350</text>
<text x="135.1" y="766.9" font-family='"Liberation Sans", sans-serif' font-size="12.2" fill="#1a1a1a" textLength="130.8" lengthAdjust="spacingAndGlyphs">Youngs modulus (GPa)</text>
<g transform="translate(36.7 676.0) rotate(-90)"><text x="-1.0" y="0" font-family='"Liberation Sans", sans-serif' font-size="12.2" fill="#1a1a1a" textLength="58.6" lengthAdjust="spacingAndGlyphs">RMSA (ms</text><text x="57.9" y="-4.5" font-family='"Liberation Sans", sans-serif' font-size="8.6" fill="#1a1a1a" textLength="11.8" lengthAdjust="spacingAndGlyphs">−2</text><text x="69.7" y="0" font-family='"Liberation Sans", sans-serif' font-size="12.2" fill="#1a1a1a">)</text></g>
<text x="182.6" y="793.2" font-family='"Liberation Serif", serif' font-size="16.0" text-anchor="middle" fill="#1a1a1a">(e)</text>
<g id="pts-f">
<use href="#mr" x="391.2" y="700.6"/>
<use href="#mr" x="391.2" y="700.9"/>
<use href="#mr" x="391.2" y="701.1"/>
<use href="#mr" x="391.2" y="701.4"/>
<use href="#mr" x="391.2" y="701.6"/>
<use href="#mr" x="391.2" y="701.9"/>
<use href="#mr" x="391.2" y="702.2"/>
<use href="#mr" x="391.2" y="702.4"/>
<use href="#mr" x="391.2" y="702.7"/>
<use href="#mr" x="391.2" y="702.9"/>
<use href="#mr" x="391.2" y="703.2"/>
<use href="#mr" x="391.2" y="703.5"/>
<use href="#mr" x="391.2" y="703.7"/>
<use href="#mr" x="391.2" y="704.0"/>
<use href="#mr" x="391.2" y="704.3"/>
<use href="#mr" x="391.2" y="704.5"/>
<use href="#mr" x="391.2" y="704.8"/>
<use href="#mr" x="391.2" y="705.0"/>
<use href="#mr" x="391.2" y="705.3"/>
<use href="#mr" x="391.2" y="705.6"/>
<use href="#mr" x="391.2" y="705.8"/>
<use href="#mr" x="391.2" y="706.1"/>
<use href="#mr" x="391.2" y="706.3"/>
<use href="#mr" x="391.2" y="706.6"/>
<use href="#mr" x="391.2" y="706.9"/>
<use href="#mr" x="391.2" y="707.1"/>
<use href="#mr" x="391.2" y="707.4"/>
<use href="#mr" x="391.2" y="707.6"/>
<use href="#mr" x="391.2" y="707.9"/>
<use href="#mr" x="391.2" y="708.2"/>
<use href="#mr" x="391.2" y="708.4"/>
<use href="#mr" x="391.2" y="708.7"/>
<use href="#mr" x="391.2" y="709.0"/>
<use href="#mr" x="391.2" y="709.2"/>
<use href="#mr" x="391.2" y="709.5"/>
<use href="#mr" x="391.2" y="709.7"/>
<use href="#mr" x="391.2" y="710.0"/>
<use href="#mr" x="391.2" y="710.3"/>
<use href="#mr" x="391.2" y="710.5"/>
<use href="#mr" x="391.2" y="710.8"/>
<use href="#mr" x="391.2" y="711.0"/>
<use href="#mr" x="391.2" y="711.3"/>
<use href="#mr" x="391.2" y="711.6"/>
<use href="#mr" x="391.2" y="711.8"/>
<use href="#mr" x="391.2" y="712.1"/>
<use href="#mr" x="391.2" y="712.3"/>
<use href="#mr" x="391.2" y="712.6"/>
<use href="#mr" x="391.2" y="712.9"/>
<use href="#mr" x="391.2" y="713.1"/>
<use href="#mr" x="391.2" y="713.4"/>
<use href="#mr" x="391.2" y="713.7"/>
<use href="#mr" x="391.2" y="713.9"/>
<use href="#mr" x="391.2" y="714.2"/>
<use href="#mr" x="391.2" y="714.4"/>
<use href="#mr" x="391.2" y="714.7"/>
<use href="#mr" x="391.2" y="715.0"/>
<use href="#mr" x="391.2" y="715.2"/>
<use href="#mr" x="391.2" y="715.5"/>
<use href="#mr" x="391.2" y="715.7"/>
<use href="#mr" x="391.2" y="716.0"/>
<use href="#mr" x="391.2" y="697.6"/>
<use href="#mg" x="441.5" y="712.2"/>
<use href="#mg" x="441.5" y="712.4"/>
<use href="#mg" x="441.5" y="712.6"/>
<use href="#mg" x="441.5" y="712.8"/>
<use href="#mg" x="441.5" y="713.0"/>
<use href="#mg" x="441.5" y="713.1"/>
<use href="#mg" x="441.5" y="713.3"/>
<use href="#mg" x="441.5" y="713.5"/>
<use href="#mg" x="441.5" y="713.7"/>
<use href="#mg" x="441.5" y="713.9"/>
<use href="#mg" x="441.5" y="714.1"/>
<use href="#mg" x="441.5" y="714.3"/>
<use href="#mg" x="441.5" y="714.5"/>
<use href="#mg" x="441.5" y="714.7"/>
<use href="#mg" x="441.5" y="714.9"/>
<use href="#mg" x="441.5" y="715.0"/>
<use href="#mg" x="441.5" y="715.2"/>
<use href="#mg" x="441.5" y="715.4"/>
<use href="#mg" x="441.5" y="715.6"/>
<use href="#mg" x="441.5" y="715.8"/>
<use href="#mg" x="441.5" y="716.0"/>
<use href="#mg" x="441.5" y="716.2"/>
<use href="#mg" x="441.5" y="716.4"/>
<use href="#mg" x="441.5" y="716.6"/>
<use href="#mg" x="441.5" y="716.8"/>
<use href="#mg" x="441.5" y="716.9"/>
<use href="#mg" x="441.5" y="717.1"/>
<use href="#mg" x="441.5" y="717.3"/>
<use href="#mg" x="441.5" y="717.5"/>
<use href="#mg" x="441.5" y="717.7"/>
<use href="#mg" x="441.5" y="717.9"/>
<use href="#mg" x="441.5" y="718.1"/>
<use href="#mg" x="441.5" y="718.3"/>
<use href="#mg" x="441.5" y="718.5"/>
<use href="#mg" x="441.5" y="718.7"/>
<use href="#mg" x="441.5" y="718.8"/>
<use href="#mg" x="441.5" y="719.0"/>
<use href="#mg" x="441.5" y="719.2"/>
<use href="#mg" x="441.5" y="719.4"/>
<use href="#mg" x="441.5" y="719.6"/>
<use href="#mg" x="441.5" y="719.8"/>
<use href="#mg" x="441.5" y="720.0"/>
<use href="#mg" x="441.5" y="720.2"/>
<use href="#mg" x="441.5" y="720.4"/>
<use href="#mg" x="441.5" y="720.6"/>
<use href="#mg" x="441.5" y="720.7"/>
<use href="#mg" x="441.5" y="720.9"/>
<use href="#mg" x="441.5" y="721.1"/>
<use href="#mg" x="441.5" y="721.3"/>
<use href="#mg" x="441.5" y="721.5"/>
<use href="#mg" x="441.5" y="721.7"/>
<use href="#mg" x="441.5" y="721.9"/>
<use href="#mg" x="441.5" y="722.1"/>
<use href="#mg" x="441.5" y="722.3"/>
<use href="#mg" x="441.5" y="722.5"/>
<use href="#mg" x="441.5" y="722.6"/>
<use href="#mg" x="441.5" y="722.8"/>
<use href="#mg" x="441.5" y="723.0"/>
<use href="#mg" x="441.5" y="723.2"/>
<use href="#mg" x="441.5" y="723.4"/>
<use href="#mg" x="441.5" y="707.6"/>
<use href="#mb" x="491.9" y="726.4"/>
<use href="#mb" x="491.9" y="726.5"/>
<use href="#mb" x="491.9" y="726.6"/>
<use href="#mb" x="491.9" y="726.7"/>
<use href="#mb" x="491.9" y="726.8"/>
<use href="#mb" x="491.9" y="726.9"/>
<use href="#mb" x="491.9" y="727.0"/>
<use href="#mb" x="491.9" y="727.1"/>
<use href="#mb" x="491.9" y="727.2"/>
<use href="#mb" x="491.9" y="727.3"/>
<use href="#mb" x="491.9" y="727.4"/>
<use href="#mb" x="491.9" y="727.5"/>
<use href="#mb" x="491.9" y="727.6"/>
<use href="#mb" x="491.9" y="727.7"/>
<use href="#mb" x="491.9" y="727.8"/>
<use href="#mb" x="491.9" y="727.9"/>
<use href="#mb" x="491.9" y="728.0"/>
<use href="#mb" x="491.9" y="728.1"/>
<use href="#mb" x="491.9" y="728.2"/>
<use href="#mb" x="491.9" y="728.3"/>
<use href="#mb" x="491.9" y="728.4"/>
<use href="#mb" x="491.9" y="728.5"/>
<use href="#mb" x="491.9" y="728.6"/>
<use href="#mb" x="491.9" y="728.7"/>
<use href="#mb" x="491.9" y="728.8"/>
<use href="#mb" x="491.9" y="728.9"/>
<use href="#mb" x="491.9" y="729.0"/>
<use href="#mb" x="491.9" y="729.1"/>
<use href="#mb" x="491.9" y="729.2"/>
<use href="#mb" x="491.9" y="729.3"/>
<use href="#mb" x="491.9" y="729.3"/>
<use href="#mb" x="491.9" y="729.4"/>
<use href="#mb" x="491.9" y="729.5"/>
<use href="#mb" x="491.9" y="729.6"/>
<use href="#mb" x="491.9" y="729.7"/>
<use href="#mb" x="491.9" y="729.8"/>
<use href="#mb" x="491.9" y="729.9"/>
<use href="#mb" x="491.9" y="730.0"/>
<use href="#mb" x="491.9" y="730.1"/>
<use href="#mb" x="491.9" y="730.2"/>
<use href="#mb" x="491.9" y="730.3"/>
<use href="#mb" x="491.9" y="730.4"/>
<use href="#mb" x="491.9" y="730.5"/>
<use href="#mb" x="491.9" y="730.6"/>
<use href="#mb" x="491.9" y="730.7"/>
<use href="#mb" x="491.9" y="730.8"/>
<use href="#mb" x="491.9" y="730.9"/>
<use href="#mb" x="491.9" y="731.0"/>
<use href="#mb" x="491.9" y="731.1"/>
<use href="#mb" x="491.9" y="731.2"/>
<use href="#mb" x="491.9" y="731.3"/>
<use href="#mb" x="491.9" y="731.4"/>
<use href="#mb" x="491.9" y="731.5"/>
<use href="#mb" x="491.9" y="731.6"/>
<use href="#mb" x="491.9" y="731.7"/>
<use href="#mb" x="491.9" y="731.8"/>
<use href="#mb" x="491.9" y="731.9"/>
<use href="#mb" x="491.9" y="732.0"/>
<use href="#mb" x="491.9" y="732.1"/>
<use href="#mb" x="491.9" y="732.2"/>
<use href="#mp" x="542.3" y="722.6"/>
<use href="#mp" x="542.3" y="722.7"/>
<use href="#mp" x="542.3" y="722.9"/>
<use href="#mp" x="542.3" y="723.0"/>
<use href="#mp" x="542.3" y="723.1"/>
<use href="#mp" x="542.3" y="723.3"/>
<use href="#mp" x="542.3" y="723.4"/>
<use href="#mp" x="542.3" y="723.6"/>
<use href="#mp" x="542.3" y="723.7"/>
<use href="#mp" x="542.3" y="723.8"/>
<use href="#mp" x="542.3" y="724.0"/>
<use href="#mp" x="542.3" y="724.1"/>
<use href="#mp" x="542.3" y="724.2"/>
<use href="#mp" x="542.3" y="724.4"/>
<use href="#mp" x="542.3" y="724.5"/>
<use href="#mp" x="542.3" y="724.7"/>
<use href="#mp" x="542.3" y="724.8"/>
<use href="#mp" x="542.3" y="724.9"/>
<use href="#mp" x="542.3" y="725.1"/>
<use href="#mp" x="542.3" y="725.2"/>
<use href="#mp" x="542.3" y="725.3"/>
<use href="#mp" x="542.3" y="725.5"/>
<use href="#mp" x="542.3" y="725.6"/>
<use href="#mp" x="542.3" y="725.8"/>
<use href="#mp" x="542.3" y="725.9"/>
<use href="#mp" x="542.3" y="726.0"/>
<use href="#mp" x="542.3" y="726.2"/>
<use href="#mp" x="542.3" y="726.3"/>
<use href="#mp" x="542.3" y="726.4"/>
<use href="#mp" x="542.3" y="726.6"/>
<use href="#mp" x="542.3" y="726.7"/>
<use href="#mp" x="542.3" y="726.9"/>
<use href="#mp" x="542.3" y="727.0"/>
<use href="#mp" x="542.3" y="727.1"/>
<use href="#mp" x="542.3" y="727.3"/>
<use href="#mp" x="542.3" y="727.4"/>
<use href="#mp" x="542.3" y="727.5"/>
<use href="#mp" x="542.3" y="727.7"/>
<use href="#mp" x="542.3" y="727.8"/>
<use href="#mp" x="542.3" y="728.0"/>
<use href="#mp" x="542.3" y="728.1"/>
<use href="#mp" x="542.3" y="728.2"/>
<use href="#mp" x="542.3" y="728.4"/>
<use href="#mp" x="542.3" y="728.5"/>
<use href="#mp" x="542.3" y="728.6"/>
<use href="#mp" x="542.3" y="728.8"/>
<use href="#mp" x="542.3" y="728.9"/>
<use href="#mp" x="542.3" y="729.1"/>
<use href="#mp" x="542.3" y="729.2"/>
<use href="#mp" x="542.3" y="729.3"/>
<use href="#mp" x="542.3" y="729.5"/>
<use href="#mp" x="542.3" y="729.6"/>
<use href="#mp" x="542.3" y="729.7"/>
<use href="#mp" x="542.3" y="729.9"/>
<use href="#mp" x="542.3" y="730.0"/>
<use href="#mp" x="542.3" y="730.2"/>
<use href="#mp" x="542.3" y="730.3"/>
<use href="#mp" x="542.3" y="730.4"/>
<use href="#mp" x="542.3" y="730.6"/>
<use href="#mp" x="542.3" y="730.7"/>
<use href="#mp" x="542.3" y="719.4"/>
<use href="#mo" x="592.6" y="651.2"/>
<use href="#mo" x="592.6" y="651.6"/>
<use href="#mo" x="592.6" y="652.1"/>
<use href="#mo" x="592.6" y="652.5"/>
<use href="#mo" x="592.6" y="652.9"/>
<use href="#mo" x="592.6" y="653.3"/>
<use href="#mo" x="592.6" y="653.8"/>
<use href="#mo" x="592.6" y="654.2"/>
<use href="#mo" x="592.6" y="654.6"/>
<use href="#mo" x="592.6" y="655.1"/>
<use href="#mo" x="592.6" y="655.5"/>
<use href="#mo" x="592.6" y="655.9"/>
<use href="#mo" x="592.6" y="656.3"/>
<use href="#mo" x="592.6" y="656.8"/>
<use href="#mo" x="592.6" y="657.2"/>
<use href="#mo" x="592.6" y="657.6"/>
<use href="#mo" x="592.6" y="658.1"/>
<use href="#mo" x="592.6" y="658.5"/>
<use href="#mo" x="592.6" y="658.9"/>
<use href="#mo" x="592.6" y="659.3"/>
<use href="#mo" x="592.6" y="659.8"/>
<use href="#mo" x="592.6" y="660.2"/>
<use href="#mo" x="592.6" y="660.6"/>
<use href="#mo" x="592.6" y="661.1"/>
<use href="#mo" x="592.6" y="661.5"/>
<use href="#mo" x="592.6" y="661.9"/>
<use href="#mo" x="592.6" y="662.3"/>
<use href="#mo" x="592.6" y="662.8"/>
<use href="#mo" x="592.6" y="663.2"/>
<use href="#mo" x="592.6" y="663.6"/>
<use href="#mo" x="592.6" y="664.1"/>
<use href="#mo" x="592.6" y="664.5"/>
<use href="#mo" x="592.6" y="664.9"/>
<use href="#mo" x="592.6" y="665.4"/>
<use href="#mo" x="592.6" y="665.8"/>
<use href="#mo" x="592.6" y="666.2"/>
<use href="#mo" x="592.6" y="666.6"/>
<use href="#mo" x="592.6" y="667.1"/>
<use href="#mo" x="592.6" y="667.5"/>
<use href="#mo" x="592.6" y="667.9"/>
<use href="#mo" x="592.6" y="668.4"/>
<use href="#mo" x="592.6" y="668.8"/>
<use href="#mo" x="592.6" y="669.2"/>
<use href="#mo" x="592.6" y="669.6"/>
<use href="#mo" x="592.6" y="670.1"/>
<use href="#mo" x="592.6" y="670.5"/>
<use href="#mo" x="592.6" y="670.9"/>
<use href="#mo" x="592.6" y="671.4"/>
<use href="#mo" x="592.6" y="671.8"/>
<use href="#mo" x="592.6" y="672.2"/>
<use href="#mo" x="592.6" y="672.6"/>
<use href="#mo" x="592.6" y="673.1"/>
<use href="#mo" x="592.6" y="673.5"/>
<use href="#mo" x="592.6" y="673.9"/>
<use href="#mo" x="592.6" y="674.4"/>
<use href="#mo" x="592.6" y="674.8"/>
<use href="#mo" x="592.6" y="675.2"/>
<use href="#mo" x="592.6" y="675.6"/>
<use href="#mo" x="592.6" y="676.1"/>
<use href="#mo" x="592.6" y="676.5"/>
<use href="#mo" x="592.6" y="680.0"/>
<use href="#mo" x="592.6" y="682.6"/>
<use href="#mk" x="642.9" y="609.0"/>
<use href="#mk" x="642.9" y="609.7"/>
<use href="#mk" x="642.9" y="610.4"/>
<use href="#mk" x="642.9" y="611.1"/>
<use href="#mk" x="642.9" y="611.8"/>
<use href="#mk" x="642.9" y="612.6"/>
<use href="#mk" x="642.9" y="613.3"/>
<use href="#mk" x="642.9" y="614.0"/>
<use href="#mk" x="642.9" y="614.7"/>
<use href="#mk" x="642.9" y="615.4"/>
<use href="#mk" x="642.9" y="616.1"/>
<use href="#mk" x="642.9" y="616.8"/>
<use href="#mk" x="642.9" y="617.5"/>
<use href="#mk" x="642.9" y="618.3"/>
<use href="#mk" x="642.9" y="619.0"/>
<use href="#mk" x="642.9" y="619.7"/>
<use href="#mk" x="642.9" y="620.4"/>
<use href="#mk" x="642.9" y="621.1"/>
<use href="#mk" x="642.9" y="621.8"/>
<use href="#mk" x="642.9" y="622.5"/>
<use href="#mk" x="642.9" y="623.2"/>
<use href="#mk" x="642.9" y="623.9"/>
<use href="#mk" x="642.9" y="624.7"/>
<use href="#mk" x="642.9" y="625.4"/>
<use href="#mk" x="642.9" y="626.1"/>
<use href="#mk" x="642.9" y="626.8"/>
<use href="#mk" x="642.9" y="627.5"/>
<use href="#mk" x="642.9" y="628.2"/>
<use href="#mk" x="642.9" y="628.9"/>
<use href="#mk" x="642.9" y="629.6"/>
<use href="#mk" x="642.9" y="630.4"/>
<use href="#mk" x="642.9" y="631.1"/>
<use href="#mk" x="642.9" y="631.8"/>
<use href="#mk" x="642.9" y="632.5"/>
<use href="#mk" x="642.9" y="633.2"/>
<use href="#mk" x="642.9" y="633.9"/>
<use href="#mk" x="642.9" y="634.6"/>
<use href="#mk" x="642.9" y="635.3"/>
<use href="#mk" x="642.9" y="636.1"/>
<use href="#mk" x="642.9" y="636.8"/>
<use href="#mk" x="642.9" y="637.5"/>
<use href="#mk" x="642.9" y="638.2"/>
<use href="#mk" x="642.9" y="638.9"/>
<use href="#mk" x="642.9" y="639.6"/>
<use href="#mk" x="642.9" y="640.3"/>
<use href="#mk" x="642.9" y="641.0"/>
<use href="#mk" x="642.9" y="641.7"/>
<use href="#mk" x="642.9" y="642.5"/>
<use href="#mk" x="642.9" y="643.2"/>
<use href="#mk" x="642.9" y="643.9"/>
<use href="#mk" x="642.9" y="644.6"/>
<use href="#mk" x="642.9" y="645.3"/>
<use href="#mk" x="642.9" y="646.0"/>
<use href="#mk" x="642.9" y="646.7"/>
<use href="#mk" x="642.9" y="647.4"/>
<use href="#mk" x="642.9" y="648.2"/>
<use href="#mk" x="642.9" y="648.9"/>
<use href="#mk" x="642.9" y="649.6"/>
<use href="#mk" x="642.9" y="650.3"/>
<use href="#mk" x="642.9" y="651.0"/>
<use href="#mk" x="642.9" y="545.0"/>
<use href="#mk" x="642.9" y="587.8"/>
<use href="#mk" x="642.9" y="590.4"/>
<use href="#mk" x="642.9" y="593.1"/>
<use href="#mk" x="642.9" y="595.7"/>
<use href="#mk" x="642.9" y="598.9"/>
<use href="#mk" x="642.9" y="602.1"/>
<use href="#mk" x="642.9" y="605.3"/>
</g>
<rect x="378.55" y="535.5" width="277.00" height="205.95" fill="none" stroke="#505050" stroke-width="1.1"/>
<path d="M376.8 740.9H378.55" stroke="#505050" stroke-width="0.88"/>
<text x="375.2" y="745.6" font-family='"Liberation Sans", sans-serif' font-size="12.2" text-anchor="end" fill="#1a1a1a" textLength="17.9" lengthAdjust="spacingAndGlyphs">0.0</text>
<path d="M376.8 697.7H378.55" stroke="#505050" stroke-width="0.88"/>
<text x="375.2" y="702.5" font-family='"Liberation Sans", sans-serif' font-size="12.2" text-anchor="end" fill="#1a1a1a" textLength="17.9" lengthAdjust="spacingAndGlyphs">0.5</text>
<path d="M376.8 654.6H378.55" stroke="#505050" stroke-width="0.88"/>
<text x="375.2" y="659.4" font-family='"Liberation Sans", sans-serif' font-size="12.2" text-anchor="end" fill="#1a1a1a" textLength="17.9" lengthAdjust="spacingAndGlyphs">1.0</text>
<path d="M376.8 611.5H378.55" stroke="#505050" stroke-width="0.88"/>
<text x="375.2" y="616.3" font-family='"Liberation Sans", sans-serif' font-size="12.2" text-anchor="end" fill="#1a1a1a" textLength="17.9" lengthAdjust="spacingAndGlyphs">1.5</text>
<path d="M376.8 568.4H378.55" stroke="#505050" stroke-width="0.88"/>
<text x="375.2" y="573.2" font-family='"Liberation Sans", sans-serif' font-size="12.2" text-anchor="end" fill="#1a1a1a" textLength="17.9" lengthAdjust="spacingAndGlyphs">2.0</text>
<path d="M391.25 741.45V743.1" stroke="#505050" stroke-width="0.88"/>
<text x="391.25" y="753.7" font-family='"Liberation Sans", sans-serif' font-size="12.2" text-anchor="middle" fill="#1a1a1a" textLength="17.9" lengthAdjust="spacingAndGlyphs">0.4</text>
<path d="M441.60 741.45V743.1" stroke="#505050" stroke-width="0.88"/>
<text x="441.60" y="753.7" font-family='"Liberation Sans", sans-serif' font-size="12.2" text-anchor="middle" fill="#1a1a1a" textLength="17.9" lengthAdjust="spacingAndGlyphs">0.5</text>
<path d="M491.95 741.45V743.1" stroke="#505050" stroke-width="0.88"/>
<text x="491.95" y="753.7" font-family='"Liberation Sans", sans-serif' font-size="12.2" text-anchor="middle" fill="#1a1a1a" textLength="17.9" lengthAdjust="spacingAndGlyphs">0.6</text>
<path d="M542.30 741.45V743.1" stroke="#505050" stroke-width="0.88"/>
<text x="542.30" y="753.7" font-family='"Liberation Sans", sans-serif' font-size="12.2" text-anchor="middle" fill="#1a1a1a" textLength="17.9" lengthAdjust="spacingAndGlyphs">0.7</text>
<path d="M592.65 741.45V743.1" stroke="#505050" stroke-width="0.88"/>
<text x="592.65" y="753.7" font-family='"Liberation Sans", sans-serif' font-size="12.2" text-anchor="middle" fill="#1a1a1a" textLength="17.9" lengthAdjust="spacingAndGlyphs">0.8</text>
<path d="M643.00 741.45V743.1" stroke="#505050" stroke-width="0.88"/>
<text x="643.00" y="753.7" font-family='"Liberation Sans", sans-serif' font-size="12.2" text-anchor="middle" fill="#1a1a1a" textLength="17.9" lengthAdjust="spacingAndGlyphs">0.9</text>
<text x="465.4" y="766.9" font-family='"Liberation Sans", sans-serif' font-size="12.2" fill="#1a1a1a" textLength="103.1" lengthAdjust="spacingAndGlyphs">Wave height (cm)</text>
<g transform="translate(352.9 676.0) rotate(-90)"><text x="-1.0" y="0" font-family='"Liberation Sans", sans-serif' font-size="12.2" fill="#1a1a1a" textLength="58.6" lengthAdjust="spacingAndGlyphs">RMSA (ms</text><text x="57.9" y="-4.5" font-family='"Liberation Sans", sans-serif' font-size="8.6" fill="#1a1a1a" textLength="11.8" lengthAdjust="spacingAndGlyphs">−2</text><text x="69.7" y="0" font-family='"Liberation Sans", sans-serif' font-size="12.2" fill="#1a1a1a">)</text></g>
<text x="498.8" y="793.2" font-family='"Liberation Serif", serif' font-size="16.0" text-anchor="middle" fill="#1a1a1a">(f)</text>
</g>
<circle cx="4.4" cy="811.9" r="4.6" fill="#ff0000"/>
<text x="33.7" y="815.7" font-family='"Liberation Sans", sans-serif' font-size="17.2" fill="#111" textLength="41.4" lengthAdjust="spacingAndGlyphs">wave</text>
<text x="81.1" y="815.7" font-family='"Liberation Sans", sans-serif' font-size="17.2" fill="#111" textLength="52.2" lengthAdjust="spacingAndGlyphs">height</text>
<text x="135.8" y="815.7" font-family='"Liberation Sans", sans-serif' font-size="17.2" fill="#111" textLength="13.3" lengthAdjust="spacingAndGlyphs">=</text>
<text x="152.4" y="815.7" font-family='"Liberation Sans", sans-serif' font-size="17.2" fill="#111" textLength="46.5" lengthAdjust="spacingAndGlyphs">0.4 m</text>
<rect x="-0.1" y="832.5" width="9" height="9" fill="#008000"/>
<text x="33.7" y="840.5" font-family='"Liberation Sans", sans-serif' font-size="17.2" fill="#111" textLength="41.4" lengthAdjust="spacingAndGlyphs">wave</text>
<text x="81.1" y="840.5" font-family='"Liberation Sans", sans-serif' font-size="17.2" fill="#111" textLength="52.2" lengthAdjust="spacingAndGlyphs">height</text>
<text x="135.8" y="840.5" font-family='"Liberation Sans", sans-serif' font-size="17.2" fill="#111" textLength="13.3" lengthAdjust="spacingAndGlyphs">=</text>
<text x="152.4" y="840.5" font-family='"Liberation Sans", sans-serif' font-size="17.2" fill="#111" textLength="46.5" lengthAdjust="spacingAndGlyphs">0.5 m</text>
<path d="M247.9 807.6l4.55 8.8h-9.1z" fill="#0000ff"/>
<text x="277.1" y="815.7" font-family='"Liberation Sans", sans-serif' font-size="17.2" fill="#111" textLength="41.4" lengthAdjust="spacingAndGlyphs">wave</text>
<text x="324.5" y="815.7" font-family='"Liberation Sans", sans-serif' font-size="17.2" fill="#111" textLength="52.2" lengthAdjust="spacingAndGlyphs">height</text>
<text x="379.2" y="815.7" font-family='"Liberation Sans", sans-serif' font-size="17.2" fill="#111" textLength="13.3" lengthAdjust="spacingAndGlyphs">=</text>
<text x="395.8" y="815.7" font-family='"Liberation Sans", sans-serif' font-size="17.2" fill="#111" textLength="46.5" lengthAdjust="spacingAndGlyphs">0.6 m</text>
<path d="M243.7 832.9l8.4 8.4m0 -8.4l-8.4 8.4" stroke="#800080" stroke-width="1.35" fill="none"/>
<text x="277.1" y="840.5" font-family='"Liberation Sans", sans-serif' font-size="17.2" fill="#111" textLength="41.4" lengthAdjust="spacingAndGlyphs">wave</text>
<text x="324.5" y="840.5" font-family='"Liberation Sans", sans-serif' font-size="17.2" fill="#111" textLength="52.2" lengthAdjust="spacingAndGlyphs">height</text>
<text x="379.2" y="840.5" font-family='"Liberation Sans", sans-serif' font-size="17.2" fill="#111" textLength="13.3" lengthAdjust="spacingAndGlyphs">=</text>
<text x="395.8" y="840.5" font-family='"Liberation Sans", sans-serif' font-size="17.2" fill="#111" textLength="46.5" lengthAdjust="spacingAndGlyphs">0.7 m</text>
<polygon points="491.50,807.35 492.59,810.60 496.02,810.63 493.26,812.67 494.29,815.94 491.50,813.95 488.71,815.94 489.74,812.67 486.98,810.63 490.41,810.60" fill="#ffa500"/>
<text x="521.2" y="815.7" font-family='"Liberation Sans", sans-serif' font-size="17.2" fill="#111" textLength="41.4" lengthAdjust="spacingAndGlyphs">wave</text>
<text x="568.6" y="815.7" font-family='"Liberation Sans", sans-serif' font-size="17.2" fill="#111" textLength="52.2" lengthAdjust="spacingAndGlyphs">height</text>
<text x="623.3" y="815.7" font-family='"Liberation Sans", sans-serif' font-size="17.2" fill="#111" textLength="13.3" lengthAdjust="spacingAndGlyphs">=</text>
<text x="639.9" y="815.7" font-family='"Liberation Sans", sans-serif' font-size="17.2" fill="#111" textLength="46.5" lengthAdjust="spacingAndGlyphs">0.8 m</text>
<path d="M491.5 830.85l6.15 6.15l-6.15 6.15l-6.15 -6.15z" fill="#000000"/>
<text x="521.2" y="840.5" font-family='"Liberation Sans", sans-serif' font-size="17.2" fill="#111" textLength="41.4" lengthAdjust="spacingAndGlyphs">wave</text>
<text x="568.6" y="840.5" font-family='"Liberation Sans", sans-serif' font-size="17.2" fill="#111" textLength="52.2" lengthAdjust="spacingAndGlyphs">height</text>
<text x="623.3" y="840.5" font-family='"Liberation Sans", sans-serif' font-size="17.2" fill="#111" textLength="13.3" lengthAdjust="spacingAndGlyphs">=</text>
<text x="639.9" y="840.5" font-family='"Liberation Sans", sans-serif' font-size="17.2" fill="#111" textLength="46.5" lengthAdjust="spacingAndGlyphs">0.9 m</text>
</svg>
</body></html>
